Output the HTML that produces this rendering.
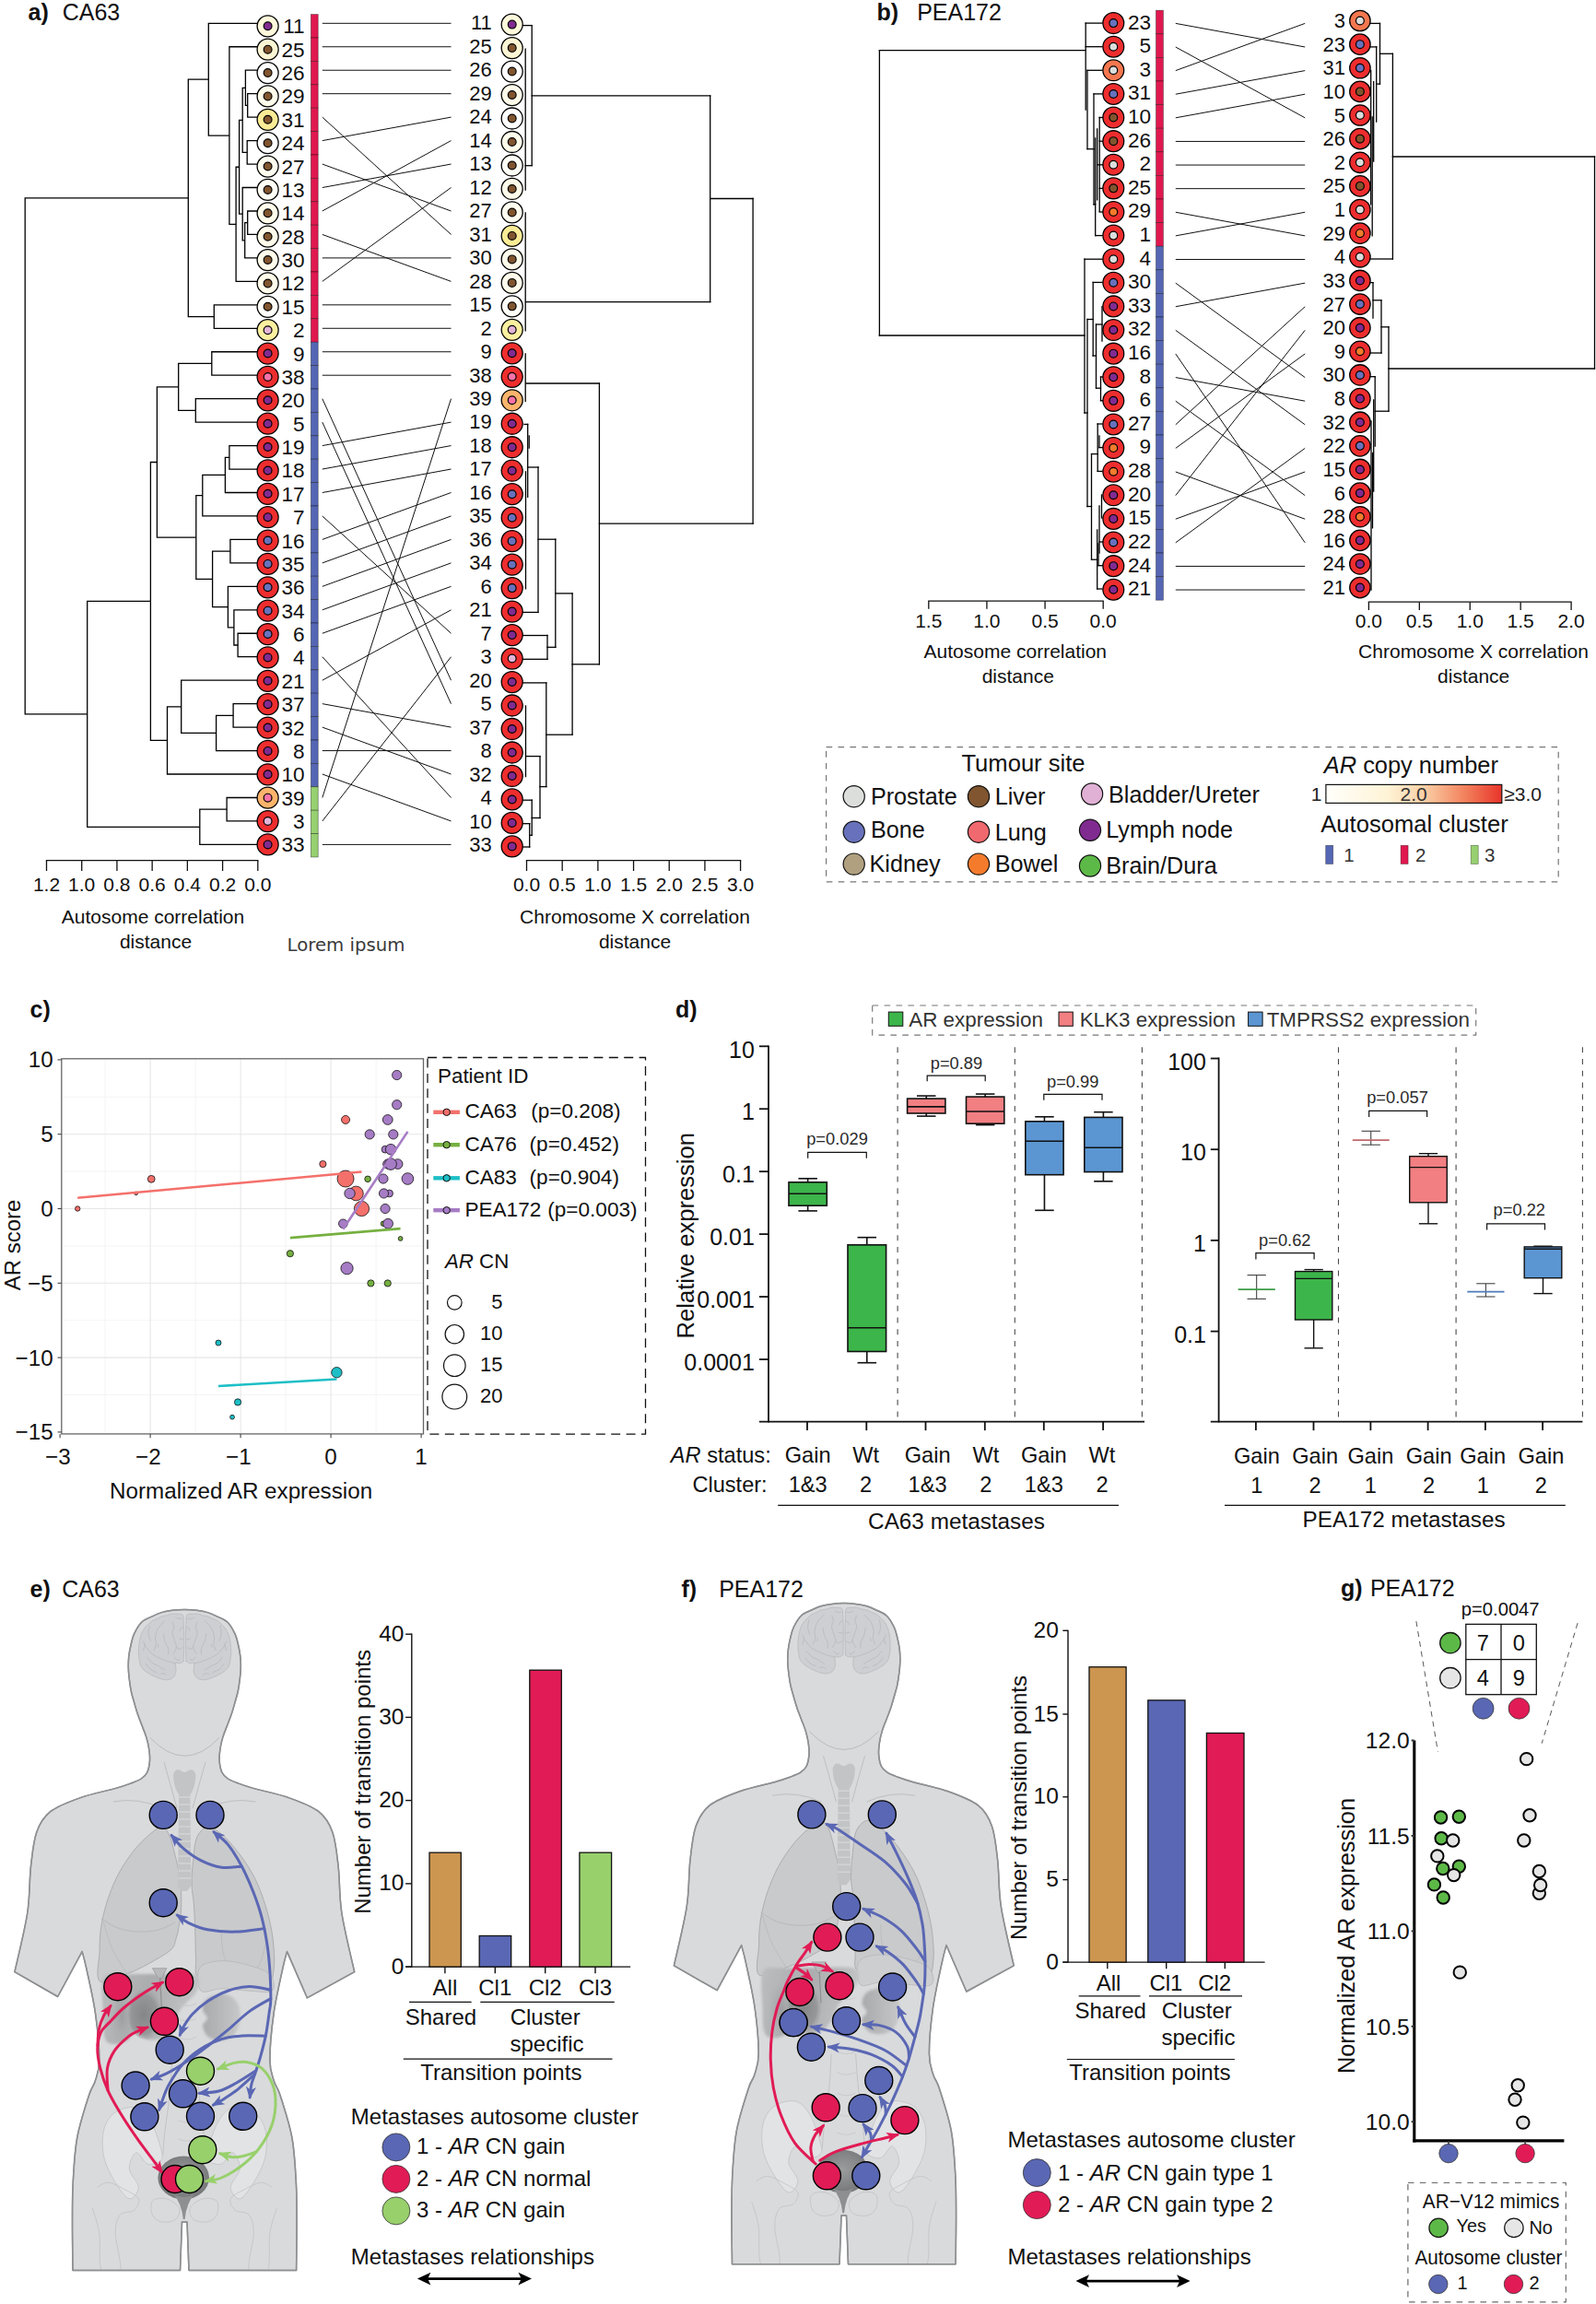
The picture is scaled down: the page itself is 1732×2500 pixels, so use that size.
<!DOCTYPE html>
<html lang="en"><head><meta charset="utf-8"><title>Figure</title>
<style>
html,body{margin:0;padding:0;background:#fff;}
svg{display:block;font-family:"Liberation Sans",Arial,sans-serif;}
</style></head><body>
<svg width="1732" height="2500" viewBox="0 0 1732 2500">
<rect x="0" y="0" width="1732" height="2500" fill="#fff"/>
<defs><marker id="ahb" markerUnits="userSpaceOnUse" markerWidth="14" markerHeight="11.5" refX="12.5" refY="6" orient="auto-start-reverse" viewBox="0 0 15 12"><path d="M0,0 L15,6 L0,12 L4,6 Z" fill="#5A67B4"/></marker><marker id="ahr" markerUnits="userSpaceOnUse" markerWidth="14" markerHeight="11.5" refX="12.5" refY="6" orient="auto-start-reverse" viewBox="0 0 15 12"><path d="M0,0 L15,6 L0,12 L4,6 Z" fill="#E11B55"/></marker><marker id="ahg" markerUnits="userSpaceOnUse" markerWidth="14" markerHeight="11.5" refX="12.5" refY="6" orient="auto-start-reverse" viewBox="0 0 15 12"><path d="M0,0 L15,6 L0,12 L4,6 Z" fill="#98D06C"/></marker><marker id="ahk" markerUnits="userSpaceOnUse" markerWidth="14" markerHeight="11.5" refX="12.5" refY="6" orient="auto-start-reverse" viewBox="0 0 15 12"><path d="M0,0 L15,6 L0,12 L4,6 Z" fill="#000"/></marker><linearGradient id="liv" x1="0" x2="1" y1="0" y2="0.2"><stop offset="0" stop-color="#BCBDBF"/><stop offset="0.5" stop-color="#ABACAE"/><stop offset="1" stop-color="#C2C3C5"/></linearGradient><radialGradient id="livd" cx="0.45" cy="0.5" r="0.55"><stop offset="0" stop-color="#858688"/><stop offset="0.7" stop-color="#939496" stop-opacity="0.9"/><stop offset="1" stop-color="#A6A7A9" stop-opacity="0"/></radialGradient><radialGradient id="livl" cx="0.6" cy="0.5" r="0.6"><stop offset="0" stop-color="#9C9D9F"/><stop offset="1" stop-color="#ADAEB0" stop-opacity="0"/></radialGradient><radialGradient id="bld" cx="0.5" cy="0.45" r="0.6"><stop offset="0" stop-color="#9B9C9E"/><stop offset="1" stop-color="#737476"/></radialGradient><linearGradient id="kid" x1="0" x2="1" y1="0" y2="0"><stop offset="0" stop-color="#A9AAAC"/><stop offset="1" stop-color="#C6C7C9"/></linearGradient><filter id="soft" x="-10%" y="-10%" width="120%" height="120%"><feGaussianBlur stdDeviation="1.6"/></filter></defs>
<text x="30.6" y="22" font-size="25" text-anchor="start" fill="#111" font-weight="bold">a)</text>
<text x="67.7" y="22" font-size="25" text-anchor="start" fill="#111">CA63</text>
<polyline points="279,101.68 268.7,101.68 268.7,127.14 279,127.14" fill="none" stroke="#000" stroke-width="1.3" stroke-linejoin="miter"/>
<polyline points="279,76.22 266.4,76.22 266.4,114.41 268.7,114.41" fill="none" stroke="#000" stroke-width="1.3" stroke-linejoin="miter"/>
<polyline points="279,152.6 268.2,152.6 268.2,178.06 279,178.06" fill="none" stroke="#000" stroke-width="1.3" stroke-linejoin="miter"/>
<polyline points="266.4,95.31 263.2,95.31 263.2,165.33 268.2,165.33" fill="none" stroke="#000" stroke-width="1.3" stroke-linejoin="miter"/>
<polyline points="279,228.98 268.7,228.98 268.7,254.44 279,254.44" fill="none" stroke="#000" stroke-width="1.3" stroke-linejoin="miter"/>
<polyline points="268.7,241.71 265.7,241.71 265.7,279.9 279,279.9" fill="none" stroke="#000" stroke-width="1.3" stroke-linejoin="miter"/>
<polyline points="279,203.52 263.2,203.52 263.2,260.81 265.7,260.81" fill="none" stroke="#000" stroke-width="1.3" stroke-linejoin="miter"/>
<polyline points="263.2,130.32 259.6,130.32 259.6,232.16 263.2,232.16" fill="none" stroke="#000" stroke-width="1.3" stroke-linejoin="miter"/>
<polyline points="259.6,181.24 256.1,181.24 256.1,305.36 279,305.36" fill="none" stroke="#000" stroke-width="1.3" stroke-linejoin="miter"/>
<polyline points="279,50.76 248.9,50.76 248.9,243.3 256.1,243.3" fill="none" stroke="#000" stroke-width="1.3" stroke-linejoin="miter"/>
<polyline points="279,25.3 226.3,25.3 226.3,147.03 248.9,147.03" fill="none" stroke="#000" stroke-width="1.3" stroke-linejoin="miter"/>
<polyline points="279,330.82 232.3,330.82 232.3,356.28 279,356.28" fill="none" stroke="#000" stroke-width="1.3" stroke-linejoin="miter"/>
<polyline points="226.3,86.17 204.3,86.17 204.3,343.55 232.3,343.55" fill="none" stroke="#000" stroke-width="1.3" stroke-linejoin="miter"/>
<polyline points="279,381.74 229.8,381.74 229.8,407.2 279,407.2" fill="none" stroke="#000" stroke-width="1.3" stroke-linejoin="miter"/>
<polyline points="279,432.66 212.3,432.66 212.3,458.12 279,458.12" fill="none" stroke="#000" stroke-width="1.3" stroke-linejoin="miter"/>
<polyline points="229.8,394.47 193.7,394.47 193.7,445.39 212.3,445.39" fill="none" stroke="#000" stroke-width="1.3" stroke-linejoin="miter"/>
<polyline points="279,483.58 248.9,483.58 248.9,509.04 279,509.04" fill="none" stroke="#000" stroke-width="1.3" stroke-linejoin="miter"/>
<polyline points="248.9,496.31 244.4,496.31 244.4,534.5 279,534.5" fill="none" stroke="#000" stroke-width="1.3" stroke-linejoin="miter"/>
<polyline points="244.4,515.4 219.8,515.4 219.8,559.96 279,559.96" fill="none" stroke="#000" stroke-width="1.3" stroke-linejoin="miter"/>
<polyline points="279,585.42 249.9,585.42 249.9,610.88 279,610.88" fill="none" stroke="#000" stroke-width="1.3" stroke-linejoin="miter"/>
<polyline points="279,687.26 258.1,687.26 258.1,712.72 279,712.72" fill="none" stroke="#000" stroke-width="1.3" stroke-linejoin="miter"/>
<polyline points="279,661.8 253.9,661.8 253.9,699.99 258.1,699.99" fill="none" stroke="#000" stroke-width="1.3" stroke-linejoin="miter"/>
<polyline points="279,636.34 247.4,636.34 247.4,680.89 253.9,680.89" fill="none" stroke="#000" stroke-width="1.3" stroke-linejoin="miter"/>
<polyline points="249.9,598.15 230.6,598.15 230.6,658.62 247.4,658.62" fill="none" stroke="#000" stroke-width="1.3" stroke-linejoin="miter"/>
<polyline points="219.8,537.68 212.8,537.68 212.8,628.38 230.6,628.38" fill="none" stroke="#000" stroke-width="1.3" stroke-linejoin="miter"/>
<polyline points="193.7,419.93 170.4,419.93 170.4,583.03 212.8,583.03" fill="none" stroke="#000" stroke-width="1.3" stroke-linejoin="miter"/>
<polyline points="279,763.64 253.1,763.64 253.1,789.1 279,789.1" fill="none" stroke="#000" stroke-width="1.3" stroke-linejoin="miter"/>
<polyline points="253.1,776.37 234.6,776.37 234.6,814.56 279,814.56" fill="none" stroke="#000" stroke-width="1.3" stroke-linejoin="miter"/>
<polyline points="279,738.18 196.7,738.18 196.7,795.46 234.6,795.46" fill="none" stroke="#000" stroke-width="1.3" stroke-linejoin="miter"/>
<polyline points="196.7,766.82 181.5,766.82 181.5,840.02 279,840.02" fill="none" stroke="#000" stroke-width="1.3" stroke-linejoin="miter"/>
<polyline points="170.4,501.48 163.4,501.48 163.4,803.42 181.5,803.42" fill="none" stroke="#000" stroke-width="1.3" stroke-linejoin="miter"/>
<polyline points="279,865.48 246.1,865.48 246.1,890.94 279,890.94" fill="none" stroke="#000" stroke-width="1.3" stroke-linejoin="miter"/>
<polyline points="246.1,878.21 216.8,878.21 216.8,916.4 279,916.4" fill="none" stroke="#000" stroke-width="1.3" stroke-linejoin="miter"/>
<polyline points="163.4,652.45 94.7,652.45 94.7,897.31 216.8,897.31" fill="none" stroke="#000" stroke-width="1.3" stroke-linejoin="miter"/>
<polyline points="204.3,214.86 27.2,214.86 27.2,774.88 94.7,774.88" fill="none" stroke="#000" stroke-width="1.3" stroke-linejoin="miter"/>
<line x1="577.2" y1="27.6" x2="577.2" y2="179.7" stroke="#000" stroke-width="1.3" stroke-linecap="square"/>
<line x1="567.7" y1="27.6" x2="577.2" y2="27.6" stroke="#000" stroke-width="1.3" stroke-linecap="square"/>
<line x1="570.2" y1="179.7" x2="577.2" y2="179.7" stroke="#000" stroke-width="1.3" stroke-linecap="square"/>
<line x1="570.2" y1="53.1" x2="570.2" y2="206" stroke="#000" stroke-width="1.3" stroke-linecap="square"/>
<line x1="577.2" y1="103.8" x2="770.7" y2="103.8" stroke="#000" stroke-width="1.3" stroke-linecap="square"/>
<line x1="770.7" y1="103.8" x2="770.7" y2="327.6" stroke="#000" stroke-width="1.3" stroke-linecap="square"/>
<line x1="570.7" y1="327.6" x2="770.7" y2="327.6" stroke="#000" stroke-width="1.3" stroke-linecap="square"/>
<line x1="570.2" y1="231" x2="570.2" y2="358.9" stroke="#000" stroke-width="1.3" stroke-linecap="square"/>
<line x1="770.7" y1="215.5" x2="817.1" y2="215.5" stroke="#000" stroke-width="1.3" stroke-linecap="square"/>
<line x1="817.1" y1="215.5" x2="817.1" y2="568.2" stroke="#000" stroke-width="1.3" stroke-linecap="square"/>
<line x1="650.4" y1="568.2" x2="817.1" y2="568.2" stroke="#000" stroke-width="1.3" stroke-linecap="square"/>
<line x1="650.4" y1="416" x2="650.4" y2="720.8" stroke="#000" stroke-width="1.3" stroke-linecap="square"/>
<line x1="571" y1="416" x2="650.4" y2="416" stroke="#000" stroke-width="1.3" stroke-linecap="square"/>
<line x1="570.2" y1="384" x2="570.2" y2="435.3" stroke="#000" stroke-width="1.3" stroke-linecap="square"/>
<line x1="572.7" y1="460.4" x2="572.7" y2="539.3" stroke="#000" stroke-width="1.3" stroke-linecap="square"/>
<line x1="569" y1="460.4" x2="572.7" y2="460.4" stroke="#000" stroke-width="1.3" stroke-linecap="square"/>
<line x1="574.2" y1="473" x2="574.2" y2="486" stroke="#000" stroke-width="1.3" stroke-linecap="square"/>
<line x1="572.7" y1="507" x2="584" y2="507" stroke="#000" stroke-width="1.3" stroke-linecap="square"/>
<line x1="584" y1="507" x2="584" y2="664.4" stroke="#000" stroke-width="1.3" stroke-linecap="square"/>
<line x1="567.7" y1="664.4" x2="584" y2="664.4" stroke="#000" stroke-width="1.3" stroke-linecap="square"/>
<line x1="584" y1="585.2" x2="602.8" y2="585.2" stroke="#000" stroke-width="1.3" stroke-linecap="square"/>
<line x1="602.8" y1="585.2" x2="602.8" y2="702.3" stroke="#000" stroke-width="1.3" stroke-linecap="square"/>
<line x1="570.5" y1="511.8" x2="570.5" y2="638.8" stroke="#000" stroke-width="1.3" stroke-linecap="square"/>
<line x1="594" y1="702.3" x2="602.8" y2="702.3" stroke="#000" stroke-width="1.3" stroke-linecap="square"/>
<line x1="594" y1="689.5" x2="594" y2="715.3" stroke="#000" stroke-width="1.3" stroke-linecap="square"/>
<line x1="567.7" y1="689.5" x2="594" y2="689.5" stroke="#000" stroke-width="1.3" stroke-linecap="square"/>
<line x1="567.7" y1="715.3" x2="594" y2="715.3" stroke="#000" stroke-width="1.3" stroke-linecap="square"/>
<line x1="602.8" y1="643.9" x2="621.1" y2="643.9" stroke="#000" stroke-width="1.3" stroke-linecap="square"/>
<line x1="621.1" y1="643.9" x2="621.1" y2="797.2" stroke="#000" stroke-width="1.3" stroke-linecap="square"/>
<line x1="621.1" y1="720.8" x2="650.4" y2="720.8" stroke="#000" stroke-width="1.3" stroke-linecap="square"/>
<line x1="592.8" y1="797.2" x2="621.1" y2="797.2" stroke="#000" stroke-width="1.3" stroke-linecap="square"/>
<line x1="592.8" y1="740.9" x2="592.8" y2="853.6" stroke="#000" stroke-width="1.3" stroke-linecap="square"/>
<line x1="567.7" y1="740.9" x2="592.8" y2="740.9" stroke="#000" stroke-width="1.3" stroke-linecap="square"/>
<line x1="586" y1="853.6" x2="592.8" y2="853.6" stroke="#000" stroke-width="1.3" stroke-linecap="square"/>
<line x1="586" y1="820.6" x2="586" y2="887.5" stroke="#000" stroke-width="1.3" stroke-linecap="square"/>
<line x1="571" y1="820.6" x2="586" y2="820.6" stroke="#000" stroke-width="1.3" stroke-linecap="square"/>
<line x1="570.5" y1="765.9" x2="570.5" y2="842.6" stroke="#000" stroke-width="1.3" stroke-linecap="square"/>
<line x1="577.2" y1="887.5" x2="586" y2="887.5" stroke="#000" stroke-width="1.3" stroke-linecap="square"/>
<line x1="577.2" y1="868.2" x2="577.2" y2="906.3" stroke="#000" stroke-width="1.3" stroke-linecap="square"/>
<line x1="567.7" y1="868.2" x2="577.2" y2="868.2" stroke="#000" stroke-width="1.3" stroke-linecap="square"/>
<line x1="574.7" y1="906.3" x2="577.2" y2="906.3" stroke="#000" stroke-width="1.3" stroke-linecap="square"/>
<line x1="574.7" y1="893.7" x2="574.7" y2="919" stroke="#000" stroke-width="1.3" stroke-linecap="square"/>
<line x1="567.7" y1="893.7" x2="574.7" y2="893.7" stroke="#000" stroke-width="1.3" stroke-linecap="square"/>
<line x1="567.7" y1="919" x2="574.7" y2="919" stroke="#000" stroke-width="1.3" stroke-linecap="square"/>
<rect x="337.4" y="15.6" width="7.8" height="25.4" fill="#E0184F" stroke="rgba(0,0,0,0.5)" stroke-width="0.7" />
<rect x="337.4" y="41" width="7.8" height="25.4" fill="#E0184F" stroke="rgba(0,0,0,0.5)" stroke-width="0.7" />
<rect x="337.4" y="66.4" width="7.8" height="25.4" fill="#E0184F" stroke="rgba(0,0,0,0.5)" stroke-width="0.7" />
<rect x="337.4" y="91.8" width="7.8" height="25.4" fill="#E0184F" stroke="rgba(0,0,0,0.5)" stroke-width="0.7" />
<rect x="337.4" y="117.2" width="7.8" height="25.4" fill="#E0184F" stroke="rgba(0,0,0,0.5)" stroke-width="0.7" />
<rect x="337.4" y="142.6" width="7.8" height="25.4" fill="#E0184F" stroke="rgba(0,0,0,0.5)" stroke-width="0.7" />
<rect x="337.4" y="168" width="7.8" height="25.4" fill="#E0184F" stroke="rgba(0,0,0,0.5)" stroke-width="0.7" />
<rect x="337.4" y="193.4" width="7.8" height="25.4" fill="#E0184F" stroke="rgba(0,0,0,0.5)" stroke-width="0.7" />
<rect x="337.4" y="218.8" width="7.8" height="25.4" fill="#E0184F" stroke="rgba(0,0,0,0.5)" stroke-width="0.7" />
<rect x="337.4" y="244.2" width="7.8" height="25.4" fill="#E0184F" stroke="rgba(0,0,0,0.5)" stroke-width="0.7" />
<rect x="337.4" y="269.6" width="7.8" height="25.4" fill="#E0184F" stroke="rgba(0,0,0,0.5)" stroke-width="0.7" />
<rect x="337.4" y="295" width="7.8" height="25.4" fill="#E0184F" stroke="rgba(0,0,0,0.5)" stroke-width="0.7" />
<rect x="337.4" y="320.4" width="7.8" height="25.4" fill="#E0184F" stroke="rgba(0,0,0,0.5)" stroke-width="0.7" />
<rect x="337.4" y="345.8" width="7.8" height="25.4" fill="#E0184F" stroke="rgba(0,0,0,0.5)" stroke-width="0.7" />
<rect x="337.4" y="371.2" width="7.8" height="25.4" fill="#5566B4" stroke="rgba(0,0,0,0.5)" stroke-width="0.7" />
<rect x="337.4" y="396.6" width="7.8" height="25.4" fill="#5566B4" stroke="rgba(0,0,0,0.5)" stroke-width="0.7" />
<rect x="337.4" y="422" width="7.8" height="25.4" fill="#5566B4" stroke="rgba(0,0,0,0.5)" stroke-width="0.7" />
<rect x="337.4" y="447.4" width="7.8" height="25.4" fill="#5566B4" stroke="rgba(0,0,0,0.5)" stroke-width="0.7" />
<rect x="337.4" y="472.8" width="7.8" height="25.4" fill="#5566B4" stroke="rgba(0,0,0,0.5)" stroke-width="0.7" />
<rect x="337.4" y="498.2" width="7.8" height="25.4" fill="#5566B4" stroke="rgba(0,0,0,0.5)" stroke-width="0.7" />
<rect x="337.4" y="523.6" width="7.8" height="25.4" fill="#5566B4" stroke="rgba(0,0,0,0.5)" stroke-width="0.7" />
<rect x="337.4" y="549" width="7.8" height="25.4" fill="#5566B4" stroke="rgba(0,0,0,0.5)" stroke-width="0.7" />
<rect x="337.4" y="574.4" width="7.8" height="25.4" fill="#5566B4" stroke="rgba(0,0,0,0.5)" stroke-width="0.7" />
<rect x="337.4" y="599.8" width="7.8" height="25.4" fill="#5566B4" stroke="rgba(0,0,0,0.5)" stroke-width="0.7" />
<rect x="337.4" y="625.2" width="7.8" height="25.4" fill="#5566B4" stroke="rgba(0,0,0,0.5)" stroke-width="0.7" />
<rect x="337.4" y="650.6" width="7.8" height="25.4" fill="#5566B4" stroke="rgba(0,0,0,0.5)" stroke-width="0.7" />
<rect x="337.4" y="676" width="7.8" height="25.4" fill="#5566B4" stroke="rgba(0,0,0,0.5)" stroke-width="0.7" />
<rect x="337.4" y="701.4" width="7.8" height="25.4" fill="#5566B4" stroke="rgba(0,0,0,0.5)" stroke-width="0.7" />
<rect x="337.4" y="726.8" width="7.8" height="25.4" fill="#5566B4" stroke="rgba(0,0,0,0.5)" stroke-width="0.7" />
<rect x="337.4" y="752.2" width="7.8" height="25.4" fill="#5566B4" stroke="rgba(0,0,0,0.5)" stroke-width="0.7" />
<rect x="337.4" y="777.6" width="7.8" height="25.4" fill="#5566B4" stroke="rgba(0,0,0,0.5)" stroke-width="0.7" />
<rect x="337.4" y="803" width="7.8" height="25.4" fill="#5566B4" stroke="rgba(0,0,0,0.5)" stroke-width="0.7" />
<rect x="337.4" y="828.4" width="7.8" height="25.4" fill="#5566B4" stroke="rgba(0,0,0,0.5)" stroke-width="0.7" />
<rect x="337.4" y="853.8" width="7.8" height="25.4" fill="#96D070" stroke="rgba(0,0,0,0.5)" stroke-width="0.7" />
<rect x="337.4" y="879.2" width="7.8" height="25.4" fill="#96D070" stroke="rgba(0,0,0,0.5)" stroke-width="0.7" />
<rect x="337.4" y="904.6" width="7.8" height="25.4" fill="#96D070" stroke="rgba(0,0,0,0.5)" stroke-width="0.7" />
<line x1="349.8" y1="25.3" x2="489.5" y2="25.3" stroke="#111" stroke-width="1" />
<line x1="349.8" y1="50.76" x2="489.5" y2="50.76" stroke="#111" stroke-width="1" />
<line x1="349.8" y1="76.22" x2="489.5" y2="76.22" stroke="#111" stroke-width="1" />
<line x1="349.8" y1="101.68" x2="489.5" y2="101.68" stroke="#111" stroke-width="1" />
<line x1="349.8" y1="127.14" x2="489.5" y2="254.44" stroke="#111" stroke-width="1" />
<line x1="349.8" y1="152.6" x2="489.5" y2="127.14" stroke="#111" stroke-width="1" />
<line x1="349.8" y1="178.06" x2="489.5" y2="228.98" stroke="#111" stroke-width="1" />
<line x1="349.8" y1="203.52" x2="489.5" y2="178.06" stroke="#111" stroke-width="1" />
<line x1="349.8" y1="228.98" x2="489.5" y2="152.6" stroke="#111" stroke-width="1" />
<line x1="349.8" y1="254.44" x2="489.5" y2="305.36" stroke="#111" stroke-width="1" />
<line x1="349.8" y1="279.9" x2="489.5" y2="279.9" stroke="#111" stroke-width="1" />
<line x1="349.8" y1="305.36" x2="489.5" y2="203.52" stroke="#111" stroke-width="1" />
<line x1="349.8" y1="330.82" x2="489.5" y2="330.82" stroke="#111" stroke-width="1" />
<line x1="349.8" y1="356.28" x2="489.5" y2="356.28" stroke="#111" stroke-width="1" />
<line x1="349.8" y1="381.74" x2="489.5" y2="381.74" stroke="#111" stroke-width="1" />
<line x1="349.8" y1="407.2" x2="489.5" y2="407.2" stroke="#111" stroke-width="1" />
<line x1="349.8" y1="432.66" x2="489.5" y2="738.18" stroke="#111" stroke-width="1" />
<line x1="349.8" y1="458.12" x2="489.5" y2="763.64" stroke="#111" stroke-width="1" />
<line x1="349.8" y1="483.58" x2="489.5" y2="458.12" stroke="#111" stroke-width="1" />
<line x1="349.8" y1="509.04" x2="489.5" y2="483.58" stroke="#111" stroke-width="1" />
<line x1="349.8" y1="534.5" x2="489.5" y2="509.04" stroke="#111" stroke-width="1" />
<line x1="349.8" y1="559.96" x2="489.5" y2="687.26" stroke="#111" stroke-width="1" />
<line x1="349.8" y1="585.42" x2="489.5" y2="534.5" stroke="#111" stroke-width="1" />
<line x1="349.8" y1="610.88" x2="489.5" y2="559.96" stroke="#111" stroke-width="1" />
<line x1="349.8" y1="636.34" x2="489.5" y2="585.42" stroke="#111" stroke-width="1" />
<line x1="349.8" y1="661.8" x2="489.5" y2="610.88" stroke="#111" stroke-width="1" />
<line x1="349.8" y1="687.26" x2="489.5" y2="636.34" stroke="#111" stroke-width="1" />
<line x1="349.8" y1="712.72" x2="489.5" y2="865.48" stroke="#111" stroke-width="1" />
<line x1="349.8" y1="738.18" x2="489.5" y2="661.8" stroke="#111" stroke-width="1" />
<line x1="349.8" y1="763.64" x2="489.5" y2="789.1" stroke="#111" stroke-width="1" />
<line x1="349.8" y1="789.1" x2="489.5" y2="840.02" stroke="#111" stroke-width="1" />
<line x1="349.8" y1="814.56" x2="489.5" y2="814.56" stroke="#111" stroke-width="1" />
<line x1="349.8" y1="840.02" x2="489.5" y2="890.94" stroke="#111" stroke-width="1" />
<line x1="349.8" y1="865.48" x2="489.5" y2="432.66" stroke="#111" stroke-width="1" />
<line x1="349.8" y1="890.94" x2="489.5" y2="712.72" stroke="#111" stroke-width="1" />
<line x1="349.8" y1="916.4" x2="489.5" y2="916.4" stroke="#111" stroke-width="1" />
<circle cx="290.6" cy="28.3" r="11.5" fill="#FFF9DC" stroke="#000" stroke-width="1.3" />
<circle cx="290.6" cy="28.3" r="4.4" fill="#802B90" stroke="#000" stroke-width="1.2" />
<text x="330.7" y="36.3" font-size="22.6" text-anchor="end" fill="#111">11</text>
<circle cx="290.6" cy="53.67" r="11.5" fill="#FDF6D5" stroke="#000" stroke-width="1.3" />
<circle cx="290.6" cy="53.67" r="4.4" fill="#80552F" stroke="#000" stroke-width="1.2" />
<text x="330.7" y="61.67" font-size="22.6" text-anchor="end" fill="#111">25</text>
<circle cx="290.6" cy="79.05" r="11.5" fill="#FFFFFF" stroke="#000" stroke-width="1.3" />
<circle cx="290.6" cy="79.05" r="4.4" fill="#80552F" stroke="#000" stroke-width="1.2" />
<text x="330.7" y="87.05" font-size="22.6" text-anchor="end" fill="#111">26</text>
<circle cx="290.6" cy="104.42" r="11.5" fill="#FFFCEB" stroke="#000" stroke-width="1.3" />
<circle cx="290.6" cy="104.42" r="4.4" fill="#80552F" stroke="#000" stroke-width="1.2" />
<text x="330.7" y="112.42" font-size="22.6" text-anchor="end" fill="#111">29</text>
<circle cx="290.6" cy="129.8" r="11.5" fill="#FAEC96" stroke="#000" stroke-width="1.3" />
<circle cx="290.6" cy="129.8" r="4.4" fill="#80552F" stroke="#000" stroke-width="1.2" />
<text x="330.7" y="137.8" font-size="22.6" text-anchor="end" fill="#111">31</text>
<circle cx="290.6" cy="155.18" r="11.5" fill="#FFFFFF" stroke="#000" stroke-width="1.3" />
<circle cx="290.6" cy="155.18" r="4.4" fill="#80552F" stroke="#000" stroke-width="1.2" />
<text x="330.7" y="163.18" font-size="22.6" text-anchor="end" fill="#111">24</text>
<circle cx="290.6" cy="180.55" r="11.5" fill="#FFFDF0" stroke="#000" stroke-width="1.3" />
<circle cx="290.6" cy="180.55" r="4.4" fill="#80552F" stroke="#000" stroke-width="1.2" />
<text x="330.7" y="188.55" font-size="22.6" text-anchor="end" fill="#111">27</text>
<circle cx="290.6" cy="205.93" r="11.5" fill="#FFFEF5" stroke="#000" stroke-width="1.3" />
<circle cx="290.6" cy="205.93" r="4.4" fill="#80552F" stroke="#000" stroke-width="1.2" />
<text x="330.7" y="213.93" font-size="22.6" text-anchor="end" fill="#111">13</text>
<circle cx="290.6" cy="231.3" r="11.5" fill="#FFFCEB" stroke="#000" stroke-width="1.3" />
<circle cx="290.6" cy="231.3" r="4.4" fill="#80552F" stroke="#000" stroke-width="1.2" />
<text x="330.7" y="239.3" font-size="22.6" text-anchor="end" fill="#111">14</text>
<circle cx="290.6" cy="256.68" r="11.5" fill="#FFFCEB" stroke="#000" stroke-width="1.3" />
<circle cx="290.6" cy="256.68" r="4.4" fill="#80552F" stroke="#000" stroke-width="1.2" />
<text x="330.7" y="264.68" font-size="22.6" text-anchor="end" fill="#111">28</text>
<circle cx="290.6" cy="282.05" r="11.5" fill="#FFFCEB" stroke="#000" stroke-width="1.3" />
<circle cx="290.6" cy="282.05" r="4.4" fill="#80552F" stroke="#000" stroke-width="1.2" />
<text x="330.7" y="290.05" font-size="22.6" text-anchor="end" fill="#111">30</text>
<circle cx="290.6" cy="307.43" r="11.5" fill="#FFFCEB" stroke="#000" stroke-width="1.3" />
<circle cx="290.6" cy="307.43" r="4.4" fill="#80552F" stroke="#000" stroke-width="1.2" />
<text x="330.7" y="315.43" font-size="22.6" text-anchor="end" fill="#111">12</text>
<circle cx="290.6" cy="332.8" r="11.5" fill="#FFFEF8" stroke="#000" stroke-width="1.3" />
<circle cx="290.6" cy="332.8" r="4.4" fill="#80552F" stroke="#000" stroke-width="1.2" />
<text x="330.7" y="340.8" font-size="22.6" text-anchor="end" fill="#111">15</text>
<circle cx="290.6" cy="358.18" r="11.5" fill="#FAF0A0" stroke="#000" stroke-width="1.3" />
<circle cx="290.6" cy="358.18" r="4.4" fill="#E3B4D8" stroke="#000" stroke-width="1.2" />
<text x="330.7" y="366.18" font-size="22.6" text-anchor="end" fill="#111">2</text>
<circle cx="290.6" cy="383.55" r="11.5" fill="#EE2D2E" stroke="#000" stroke-width="1.3" />
<circle cx="290.6" cy="383.55" r="4.4" fill="#802B90" stroke="#000" stroke-width="1.2" />
<text x="330.7" y="391.55" font-size="22.6" text-anchor="end" fill="#111">9</text>
<circle cx="290.6" cy="408.93" r="11.5" fill="#EE2D2E" stroke="#000" stroke-width="1.3" />
<circle cx="290.6" cy="408.93" r="4.4" fill="#F772A8" stroke="#000" stroke-width="1.2" />
<text x="330.7" y="416.93" font-size="22.6" text-anchor="end" fill="#111">38</text>
<circle cx="290.6" cy="434.3" r="11.5" fill="#EE2D2E" stroke="#000" stroke-width="1.3" />
<circle cx="290.6" cy="434.3" r="4.4" fill="#802B90" stroke="#000" stroke-width="1.2" />
<text x="330.7" y="442.3" font-size="22.6" text-anchor="end" fill="#111">20</text>
<circle cx="290.6" cy="459.68" r="11.5" fill="#EE2D2E" stroke="#000" stroke-width="1.3" />
<circle cx="290.6" cy="459.68" r="4.4" fill="#802B90" stroke="#000" stroke-width="1.2" />
<text x="330.7" y="467.68" font-size="22.6" text-anchor="end" fill="#111">5</text>
<circle cx="290.6" cy="485.05" r="11.5" fill="#EE2D2E" stroke="#000" stroke-width="1.3" />
<circle cx="290.6" cy="485.05" r="4.4" fill="#802B90" stroke="#000" stroke-width="1.2" />
<text x="330.7" y="493.05" font-size="22.6" text-anchor="end" fill="#111">19</text>
<circle cx="290.6" cy="510.43" r="11.5" fill="#EE2D2E" stroke="#000" stroke-width="1.3" />
<circle cx="290.6" cy="510.43" r="4.4" fill="#802B90" stroke="#000" stroke-width="1.2" />
<text x="330.7" y="518.42" font-size="22.6" text-anchor="end" fill="#111">18</text>
<circle cx="290.6" cy="535.8" r="11.5" fill="#EE2D2E" stroke="#000" stroke-width="1.3" />
<circle cx="290.6" cy="535.8" r="4.4" fill="#802B90" stroke="#000" stroke-width="1.2" />
<text x="330.7" y="543.8" font-size="22.6" text-anchor="end" fill="#111">17</text>
<circle cx="290.6" cy="561.17" r="11.5" fill="#EE2D2E" stroke="#000" stroke-width="1.3" />
<circle cx="290.6" cy="561.17" r="4.4" fill="#802B90" stroke="#000" stroke-width="1.2" />
<text x="330.7" y="569.17" font-size="22.6" text-anchor="end" fill="#111">7</text>
<circle cx="290.6" cy="586.55" r="11.5" fill="#EE2D2E" stroke="#000" stroke-width="1.3" />
<circle cx="290.6" cy="586.55" r="4.4" fill="#6872BC" stroke="#000" stroke-width="1.2" />
<text x="330.7" y="594.55" font-size="22.6" text-anchor="end" fill="#111">16</text>
<circle cx="290.6" cy="611.92" r="11.5" fill="#EE2D2E" stroke="#000" stroke-width="1.3" />
<circle cx="290.6" cy="611.92" r="4.4" fill="#6872BC" stroke="#000" stroke-width="1.2" />
<text x="330.7" y="619.92" font-size="22.6" text-anchor="end" fill="#111">35</text>
<circle cx="290.6" cy="637.3" r="11.5" fill="#EE2D2E" stroke="#000" stroke-width="1.3" />
<circle cx="290.6" cy="637.3" r="4.4" fill="#6872BC" stroke="#000" stroke-width="1.2" />
<text x="330.7" y="645.3" font-size="22.6" text-anchor="end" fill="#111">36</text>
<circle cx="290.6" cy="662.67" r="11.5" fill="#EE2D2E" stroke="#000" stroke-width="1.3" />
<circle cx="290.6" cy="662.67" r="4.4" fill="#6872BC" stroke="#000" stroke-width="1.2" />
<text x="330.7" y="670.67" font-size="22.6" text-anchor="end" fill="#111">34</text>
<circle cx="290.6" cy="688.05" r="11.5" fill="#EE2D2E" stroke="#000" stroke-width="1.3" />
<circle cx="290.6" cy="688.05" r="4.4" fill="#6872BC" stroke="#000" stroke-width="1.2" />
<text x="330.7" y="696.05" font-size="22.6" text-anchor="end" fill="#111">6</text>
<circle cx="290.6" cy="713.42" r="11.5" fill="#EE2D2E" stroke="#000" stroke-width="1.3" />
<circle cx="290.6" cy="713.42" r="4.4" fill="#802B90" stroke="#000" stroke-width="1.2" />
<text x="330.7" y="721.42" font-size="22.6" text-anchor="end" fill="#111">4</text>
<circle cx="290.6" cy="738.8" r="11.5" fill="#EE2D2E" stroke="#000" stroke-width="1.3" />
<circle cx="290.6" cy="738.8" r="4.4" fill="#802B90" stroke="#000" stroke-width="1.2" />
<text x="330.7" y="746.8" font-size="22.6" text-anchor="end" fill="#111">21</text>
<circle cx="290.6" cy="764.17" r="11.5" fill="#EE2D2E" stroke="#000" stroke-width="1.3" />
<circle cx="290.6" cy="764.17" r="4.4" fill="#802B90" stroke="#000" stroke-width="1.2" />
<text x="330.7" y="772.17" font-size="22.6" text-anchor="end" fill="#111">37</text>
<circle cx="290.6" cy="789.55" r="11.5" fill="#EE2D2E" stroke="#000" stroke-width="1.3" />
<circle cx="290.6" cy="789.55" r="4.4" fill="#802B90" stroke="#000" stroke-width="1.2" />
<text x="330.7" y="797.55" font-size="22.6" text-anchor="end" fill="#111">32</text>
<circle cx="290.6" cy="814.92" r="11.5" fill="#EE2D2E" stroke="#000" stroke-width="1.3" />
<circle cx="290.6" cy="814.92" r="4.4" fill="#802B90" stroke="#000" stroke-width="1.2" />
<text x="330.7" y="822.92" font-size="22.6" text-anchor="end" fill="#111">8</text>
<circle cx="290.6" cy="840.3" r="11.5" fill="#EE2D2E" stroke="#000" stroke-width="1.3" />
<circle cx="290.6" cy="840.3" r="4.4" fill="#802B90" stroke="#000" stroke-width="1.2" />
<text x="330.7" y="848.3" font-size="22.6" text-anchor="end" fill="#111">10</text>
<circle cx="290.6" cy="865.67" r="11.5" fill="#FBB46C" stroke="#000" stroke-width="1.3" />
<circle cx="290.6" cy="865.67" r="4.4" fill="#F772A8" stroke="#000" stroke-width="1.2" />
<text x="330.7" y="873.67" font-size="22.6" text-anchor="end" fill="#111">39</text>
<circle cx="290.6" cy="891.05" r="11.5" fill="#EE2D2E" stroke="#000" stroke-width="1.3" />
<circle cx="290.6" cy="891.05" r="4.4" fill="#E3B4D8" stroke="#000" stroke-width="1.2" />
<text x="330.7" y="899.05" font-size="22.6" text-anchor="end" fill="#111">3</text>
<circle cx="290.6" cy="916.42" r="11.5" fill="#EE2D2E" stroke="#000" stroke-width="1.3" />
<circle cx="290.6" cy="916.42" r="4.4" fill="#802B90" stroke="#000" stroke-width="1.2" />
<text x="330.7" y="924.42" font-size="22.6" text-anchor="end" fill="#111">33</text>
<circle cx="555.7" cy="26.6" r="11.5" fill="#FFF9DC" stroke="#000" stroke-width="1.3" />
<circle cx="555.7" cy="26.6" r="4.4" fill="#802B90" stroke="#000" stroke-width="1.2" />
<text x="533.8" y="32.3" font-size="22" text-anchor="end" fill="#111">11</text>
<circle cx="555.7" cy="52.08" r="11.5" fill="#FDF6D5" stroke="#000" stroke-width="1.3" />
<circle cx="555.7" cy="52.08" r="4.4" fill="#80552F" stroke="#000" stroke-width="1.2" />
<text x="533.8" y="57.78" font-size="22" text-anchor="end" fill="#111">25</text>
<circle cx="555.7" cy="77.56" r="11.5" fill="#FFFFFF" stroke="#000" stroke-width="1.3" />
<circle cx="555.7" cy="77.56" r="4.4" fill="#80552F" stroke="#000" stroke-width="1.2" />
<text x="533.8" y="83.26" font-size="22" text-anchor="end" fill="#111">26</text>
<circle cx="555.7" cy="103.04" r="11.5" fill="#FFFCEB" stroke="#000" stroke-width="1.3" />
<circle cx="555.7" cy="103.04" r="4.4" fill="#80552F" stroke="#000" stroke-width="1.2" />
<text x="533.8" y="108.74" font-size="22" text-anchor="end" fill="#111">29</text>
<circle cx="555.7" cy="128.52" r="11.5" fill="#FFFFFF" stroke="#000" stroke-width="1.3" />
<circle cx="555.7" cy="128.52" r="4.4" fill="#80552F" stroke="#000" stroke-width="1.2" />
<text x="533.8" y="134.22" font-size="22" text-anchor="end" fill="#111">24</text>
<circle cx="555.7" cy="154" r="11.5" fill="#FFFCEB" stroke="#000" stroke-width="1.3" />
<circle cx="555.7" cy="154" r="4.4" fill="#80552F" stroke="#000" stroke-width="1.2" />
<text x="533.8" y="159.7" font-size="22" text-anchor="end" fill="#111">14</text>
<circle cx="555.7" cy="179.48" r="11.5" fill="#FFFEF5" stroke="#000" stroke-width="1.3" />
<circle cx="555.7" cy="179.48" r="4.4" fill="#80552F" stroke="#000" stroke-width="1.2" />
<text x="533.8" y="185.18" font-size="22" text-anchor="end" fill="#111">13</text>
<circle cx="555.7" cy="204.96" r="11.5" fill="#FFFCEB" stroke="#000" stroke-width="1.3" />
<circle cx="555.7" cy="204.96" r="4.4" fill="#80552F" stroke="#000" stroke-width="1.2" />
<text x="533.8" y="210.66" font-size="22" text-anchor="end" fill="#111">12</text>
<circle cx="555.7" cy="230.44" r="11.5" fill="#FFFDF0" stroke="#000" stroke-width="1.3" />
<circle cx="555.7" cy="230.44" r="4.4" fill="#80552F" stroke="#000" stroke-width="1.2" />
<text x="533.8" y="236.14" font-size="22" text-anchor="end" fill="#111">27</text>
<circle cx="555.7" cy="255.92" r="11.5" fill="#FAEC96" stroke="#000" stroke-width="1.3" />
<circle cx="555.7" cy="255.92" r="4.4" fill="#80552F" stroke="#000" stroke-width="1.2" />
<text x="533.8" y="261.62" font-size="22" text-anchor="end" fill="#111">31</text>
<circle cx="555.7" cy="281.4" r="11.5" fill="#FFFCEB" stroke="#000" stroke-width="1.3" />
<circle cx="555.7" cy="281.4" r="4.4" fill="#80552F" stroke="#000" stroke-width="1.2" />
<text x="533.8" y="287.1" font-size="22" text-anchor="end" fill="#111">30</text>
<circle cx="555.7" cy="306.88" r="11.5" fill="#FFFCEB" stroke="#000" stroke-width="1.3" />
<circle cx="555.7" cy="306.88" r="4.4" fill="#80552F" stroke="#000" stroke-width="1.2" />
<text x="533.8" y="312.58" font-size="22" text-anchor="end" fill="#111">28</text>
<circle cx="555.7" cy="332.36" r="11.5" fill="#FFFEF8" stroke="#000" stroke-width="1.3" />
<circle cx="555.7" cy="332.36" r="4.4" fill="#80552F" stroke="#000" stroke-width="1.2" />
<text x="533.8" y="338.06" font-size="22" text-anchor="end" fill="#111">15</text>
<circle cx="555.7" cy="357.84" r="11.5" fill="#FAF0A0" stroke="#000" stroke-width="1.3" />
<circle cx="555.7" cy="357.84" r="4.4" fill="#E3B4D8" stroke="#000" stroke-width="1.2" />
<text x="533.8" y="363.54" font-size="22" text-anchor="end" fill="#111">2</text>
<circle cx="555.7" cy="383.32" r="11.5" fill="#EE2D2E" stroke="#000" stroke-width="1.3" />
<circle cx="555.7" cy="383.32" r="4.4" fill="#802B90" stroke="#000" stroke-width="1.2" />
<text x="533.8" y="389.02" font-size="22" text-anchor="end" fill="#111">9</text>
<circle cx="555.7" cy="408.8" r="11.5" fill="#EE2D2E" stroke="#000" stroke-width="1.3" />
<circle cx="555.7" cy="408.8" r="4.4" fill="#F772A8" stroke="#000" stroke-width="1.2" />
<text x="533.8" y="414.5" font-size="22" text-anchor="end" fill="#111">38</text>
<circle cx="555.7" cy="434.28" r="11.5" fill="#FBB46C" stroke="#000" stroke-width="1.3" />
<circle cx="555.7" cy="434.28" r="4.4" fill="#F772A8" stroke="#000" stroke-width="1.2" />
<text x="533.8" y="439.98" font-size="22" text-anchor="end" fill="#111">39</text>
<circle cx="555.7" cy="459.76" r="11.5" fill="#EE2D2E" stroke="#000" stroke-width="1.3" />
<circle cx="555.7" cy="459.76" r="4.4" fill="#802B90" stroke="#000" stroke-width="1.2" />
<text x="533.8" y="465.46" font-size="22" text-anchor="end" fill="#111">19</text>
<circle cx="555.7" cy="485.24" r="11.5" fill="#EE2D2E" stroke="#000" stroke-width="1.3" />
<circle cx="555.7" cy="485.24" r="4.4" fill="#802B90" stroke="#000" stroke-width="1.2" />
<text x="533.8" y="490.94" font-size="22" text-anchor="end" fill="#111">18</text>
<circle cx="555.7" cy="510.72" r="11.5" fill="#EE2D2E" stroke="#000" stroke-width="1.3" />
<circle cx="555.7" cy="510.72" r="4.4" fill="#802B90" stroke="#000" stroke-width="1.2" />
<text x="533.8" y="516.42" font-size="22" text-anchor="end" fill="#111">17</text>
<circle cx="555.7" cy="536.2" r="11.5" fill="#EE2D2E" stroke="#000" stroke-width="1.3" />
<circle cx="555.7" cy="536.2" r="4.4" fill="#6872BC" stroke="#000" stroke-width="1.2" />
<text x="533.8" y="541.9" font-size="22" text-anchor="end" fill="#111">16</text>
<circle cx="555.7" cy="561.68" r="11.5" fill="#EE2D2E" stroke="#000" stroke-width="1.3" />
<circle cx="555.7" cy="561.68" r="4.4" fill="#6872BC" stroke="#000" stroke-width="1.2" />
<text x="533.8" y="567.38" font-size="22" text-anchor="end" fill="#111">35</text>
<circle cx="555.7" cy="587.16" r="11.5" fill="#EE2D2E" stroke="#000" stroke-width="1.3" />
<circle cx="555.7" cy="587.16" r="4.4" fill="#6872BC" stroke="#000" stroke-width="1.2" />
<text x="533.8" y="592.86" font-size="22" text-anchor="end" fill="#111">36</text>
<circle cx="555.7" cy="612.64" r="11.5" fill="#EE2D2E" stroke="#000" stroke-width="1.3" />
<circle cx="555.7" cy="612.64" r="4.4" fill="#6872BC" stroke="#000" stroke-width="1.2" />
<text x="533.8" y="618.34" font-size="22" text-anchor="end" fill="#111">34</text>
<circle cx="555.7" cy="638.12" r="11.5" fill="#EE2D2E" stroke="#000" stroke-width="1.3" />
<circle cx="555.7" cy="638.12" r="4.4" fill="#6872BC" stroke="#000" stroke-width="1.2" />
<text x="533.8" y="643.82" font-size="22" text-anchor="end" fill="#111">6</text>
<circle cx="555.7" cy="663.6" r="11.5" fill="#EE2D2E" stroke="#000" stroke-width="1.3" />
<circle cx="555.7" cy="663.6" r="4.4" fill="#802B90" stroke="#000" stroke-width="1.2" />
<text x="533.8" y="669.3" font-size="22" text-anchor="end" fill="#111">21</text>
<circle cx="555.7" cy="689.08" r="11.5" fill="#EE2D2E" stroke="#000" stroke-width="1.3" />
<circle cx="555.7" cy="689.08" r="4.4" fill="#802B90" stroke="#000" stroke-width="1.2" />
<text x="533.8" y="694.78" font-size="22" text-anchor="end" fill="#111">7</text>
<circle cx="555.7" cy="714.56" r="11.5" fill="#EE2D2E" stroke="#000" stroke-width="1.3" />
<circle cx="555.7" cy="714.56" r="4.4" fill="#E3B4D8" stroke="#000" stroke-width="1.2" />
<text x="533.8" y="720.26" font-size="22" text-anchor="end" fill="#111">3</text>
<circle cx="555.7" cy="740.04" r="11.5" fill="#EE2D2E" stroke="#000" stroke-width="1.3" />
<circle cx="555.7" cy="740.04" r="4.4" fill="#802B90" stroke="#000" stroke-width="1.2" />
<text x="533.8" y="745.74" font-size="22" text-anchor="end" fill="#111">20</text>
<circle cx="555.7" cy="765.52" r="11.5" fill="#EE2D2E" stroke="#000" stroke-width="1.3" />
<circle cx="555.7" cy="765.52" r="4.4" fill="#802B90" stroke="#000" stroke-width="1.2" />
<text x="533.8" y="771.22" font-size="22" text-anchor="end" fill="#111">5</text>
<circle cx="555.7" cy="791" r="11.5" fill="#EE2D2E" stroke="#000" stroke-width="1.3" />
<circle cx="555.7" cy="791" r="4.4" fill="#802B90" stroke="#000" stroke-width="1.2" />
<text x="533.8" y="796.7" font-size="22" text-anchor="end" fill="#111">37</text>
<circle cx="555.7" cy="816.48" r="11.5" fill="#EE2D2E" stroke="#000" stroke-width="1.3" />
<circle cx="555.7" cy="816.48" r="4.4" fill="#802B90" stroke="#000" stroke-width="1.2" />
<text x="533.8" y="822.18" font-size="22" text-anchor="end" fill="#111">8</text>
<circle cx="555.7" cy="841.96" r="11.5" fill="#EE2D2E" stroke="#000" stroke-width="1.3" />
<circle cx="555.7" cy="841.96" r="4.4" fill="#802B90" stroke="#000" stroke-width="1.2" />
<text x="533.8" y="847.66" font-size="22" text-anchor="end" fill="#111">32</text>
<circle cx="555.7" cy="867.44" r="11.5" fill="#EE2D2E" stroke="#000" stroke-width="1.3" />
<circle cx="555.7" cy="867.44" r="4.4" fill="#802B90" stroke="#000" stroke-width="1.2" />
<text x="533.8" y="873.14" font-size="22" text-anchor="end" fill="#111">4</text>
<circle cx="555.7" cy="892.92" r="11.5" fill="#EE2D2E" stroke="#000" stroke-width="1.3" />
<circle cx="555.7" cy="892.92" r="4.4" fill="#802B90" stroke="#000" stroke-width="1.2" />
<text x="533.8" y="898.62" font-size="22" text-anchor="end" fill="#111">10</text>
<circle cx="555.7" cy="918.4" r="11.5" fill="#EE2D2E" stroke="#000" stroke-width="1.3" />
<circle cx="555.7" cy="918.4" r="4.4" fill="#802B90" stroke="#000" stroke-width="1.2" />
<text x="533.8" y="924.1" font-size="22" text-anchor="end" fill="#111">33</text>
<line x1="50.5" y1="933.7" x2="279.8" y2="933.7" stroke="#111" stroke-width="1.3" stroke-linecap="square"/>
<line x1="50.5" y1="933.7" x2="50.5" y2="945" stroke="#111" stroke-width="1.3" />
<text x="50.5" y="966.8" font-size="21" text-anchor="middle" fill="#111">1.2</text>
<line x1="88.72" y1="933.7" x2="88.72" y2="945" stroke="#111" stroke-width="1.3" />
<text x="88.72" y="966.8" font-size="21" text-anchor="middle" fill="#111">1.0</text>
<line x1="126.93" y1="933.7" x2="126.93" y2="945" stroke="#111" stroke-width="1.3" />
<text x="126.93" y="966.8" font-size="21" text-anchor="middle" fill="#111">0.8</text>
<line x1="165.15" y1="933.7" x2="165.15" y2="945" stroke="#111" stroke-width="1.3" />
<text x="165.15" y="966.8" font-size="21" text-anchor="middle" fill="#111">0.6</text>
<line x1="203.37" y1="933.7" x2="203.37" y2="945" stroke="#111" stroke-width="1.3" />
<text x="203.37" y="966.8" font-size="21" text-anchor="middle" fill="#111">0.4</text>
<line x1="241.58" y1="933.7" x2="241.58" y2="945" stroke="#111" stroke-width="1.3" />
<text x="241.58" y="966.8" font-size="21" text-anchor="middle" fill="#111">0.2</text>
<line x1="279.8" y1="933.7" x2="279.8" y2="945" stroke="#111" stroke-width="1.3" />
<text x="279.8" y="966.8" font-size="21" text-anchor="middle" fill="#111">0.0</text>
<line x1="571.5" y1="933.7" x2="803.6" y2="933.7" stroke="#111" stroke-width="1.3" stroke-linecap="square"/>
<line x1="571.5" y1="933.7" x2="571.5" y2="945" stroke="#111" stroke-width="1.3" />
<text x="571.5" y="966.8" font-size="21" text-anchor="middle" fill="#111">0.0</text>
<line x1="610.18" y1="933.7" x2="610.18" y2="945" stroke="#111" stroke-width="1.3" />
<text x="610.18" y="966.8" font-size="21" text-anchor="middle" fill="#111">0.5</text>
<line x1="648.87" y1="933.7" x2="648.87" y2="945" stroke="#111" stroke-width="1.3" />
<text x="648.87" y="966.8" font-size="21" text-anchor="middle" fill="#111">1.0</text>
<line x1="687.55" y1="933.7" x2="687.55" y2="945" stroke="#111" stroke-width="1.3" />
<text x="687.55" y="966.8" font-size="21" text-anchor="middle" fill="#111">1.5</text>
<line x1="726.23" y1="933.7" x2="726.23" y2="945" stroke="#111" stroke-width="1.3" />
<text x="726.23" y="966.8" font-size="21" text-anchor="middle" fill="#111">2.0</text>
<line x1="764.92" y1="933.7" x2="764.92" y2="945" stroke="#111" stroke-width="1.3" />
<text x="764.92" y="966.8" font-size="21" text-anchor="middle" fill="#111">2.5</text>
<line x1="803.6" y1="933.7" x2="803.6" y2="945" stroke="#111" stroke-width="1.3" />
<text x="803.6" y="966.8" font-size="21" text-anchor="middle" fill="#111">3.0</text>
<text x="166" y="1002.3" font-size="21" text-anchor="middle" fill="#111">Autosome correlation</text>
<text x="169" y="1029.3" font-size="21" text-anchor="middle" fill="#111">distance</text>
<text x="689" y="1002.3" font-size="21" text-anchor="middle" fill="#111">Chromosome X correlation</text>
<text x="689" y="1029.3" font-size="21" text-anchor="middle" fill="#111">distance</text>
<text x="375.5" y="1032.3" font-size="19.7" text-anchor="middle" fill="#3a3a3a" font-family='"DejaVu Sans", "Liberation Sans", sans-serif'>Lorem ipsum</text>
<text x="951.4" y="22" font-size="25" text-anchor="start" fill="#111" font-weight="bold">b)</text>
<text x="995.2" y="22" font-size="25" text-anchor="start" fill="#111">PEA172</text>
<line x1="954.4" y1="54.6" x2="954.4" y2="364" stroke="#000" stroke-width="1.3" stroke-linecap="square"/>
<line x1="954.4" y1="54.6" x2="1178.2" y2="54.6" stroke="#000" stroke-width="1.3" stroke-linecap="square"/>
<line x1="954.4" y1="364" x2="1177" y2="364" stroke="#000" stroke-width="1.3" stroke-linecap="square"/>
<line x1="1178.2" y1="25.1" x2="1178.2" y2="119" stroke="#000" stroke-width="1.3" stroke-linecap="square"/>
<line x1="1178.2" y1="25.1" x2="1196" y2="25.1" stroke="#000" stroke-width="1.3" stroke-linecap="square"/>
<line x1="1178.2" y1="50.7" x2="1196" y2="50.7" stroke="#000" stroke-width="1.3" stroke-linecap="square"/>
<line x1="1180" y1="76.3" x2="1196" y2="76.3" stroke="#000" stroke-width="1.3" stroke-linecap="square"/>
<line x1="1180" y1="76.3" x2="1180" y2="161.7" stroke="#000" stroke-width="1.3" stroke-linecap="square"/>
<line x1="1180" y1="161.7" x2="1187" y2="161.7" stroke="#000" stroke-width="1.3" stroke-linecap="square"/>
<line x1="1187" y1="101.9" x2="1187" y2="221.8" stroke="#000" stroke-width="1.3" stroke-linecap="square"/>
<line x1="1187" y1="101.9" x2="1196" y2="101.9" stroke="#000" stroke-width="1.3" stroke-linecap="square"/>
<line x1="1187" y1="221.8" x2="1188.7" y2="221.8" stroke="#000" stroke-width="1.3" stroke-linecap="square"/>
<line x1="1188.7" y1="150" x2="1188.7" y2="255.6" stroke="#000" stroke-width="1.3" stroke-linecap="square"/>
<line x1="1188.7" y1="255.6" x2="1196" y2="255.6" stroke="#000" stroke-width="1.3" stroke-linecap="square"/>
<line x1="1190.7" y1="140" x2="1190.7" y2="216.8" stroke="#000" stroke-width="1.3" stroke-linecap="square"/>
<line x1="1193.2" y1="127.3" x2="1193.2" y2="229.3" stroke="#000" stroke-width="1.3" stroke-linecap="square"/>
<line x1="1193.2" y1="127.5" x2="1197" y2="127.5" stroke="#000" stroke-width="1.3" stroke-linecap="square"/>
<line x1="1193.2" y1="153.2" x2="1197" y2="153.2" stroke="#000" stroke-width="1.3" stroke-linecap="square"/>
<line x1="1190.7" y1="178.8" x2="1197" y2="178.8" stroke="#000" stroke-width="1.3" stroke-linecap="square"/>
<line x1="1193.2" y1="204.4" x2="1197" y2="204.4" stroke="#000" stroke-width="1.3" stroke-linecap="square"/>
<line x1="1193.2" y1="230" x2="1197" y2="230" stroke="#000" stroke-width="1.3" stroke-linecap="square"/>
<line x1="1177" y1="281.2" x2="1196" y2="281.2" stroke="#000" stroke-width="1.3" stroke-linecap="square"/>
<line x1="1177" y1="281.2" x2="1177" y2="448" stroke="#000" stroke-width="1.3" stroke-linecap="square"/>
<line x1="1177" y1="448" x2="1180" y2="448" stroke="#000" stroke-width="1.3" stroke-linecap="square"/>
<line x1="1180" y1="346.5" x2="1180" y2="549.5" stroke="#000" stroke-width="1.3" stroke-linecap="square"/>
<line x1="1180" y1="346.5" x2="1186.2" y2="346.5" stroke="#000" stroke-width="1.3" stroke-linecap="square"/>
<line x1="1186.2" y1="306.4" x2="1186.2" y2="386" stroke="#000" stroke-width="1.3" stroke-linecap="square"/>
<line x1="1186.2" y1="306.4" x2="1196" y2="306.4" stroke="#000" stroke-width="1.3" stroke-linecap="square"/>
<line x1="1186.2" y1="386" x2="1189.5" y2="386" stroke="#000" stroke-width="1.3" stroke-linecap="square"/>
<line x1="1189.5" y1="352" x2="1189.5" y2="421.2" stroke="#000" stroke-width="1.3" stroke-linecap="square"/>
<line x1="1189.5" y1="352" x2="1196" y2="352" stroke="#000" stroke-width="1.3" stroke-linecap="square"/>
<line x1="1196" y1="332.7" x2="1196" y2="370" stroke="#000" stroke-width="1.3" stroke-linecap="square"/>
<line x1="1189.5" y1="421.2" x2="1194.5" y2="421.2" stroke="#000" stroke-width="1.3" stroke-linecap="square"/>
<line x1="1194.5" y1="409" x2="1194.5" y2="434.7" stroke="#000" stroke-width="1.3" stroke-linecap="square"/>
<line x1="1194.5" y1="409" x2="1197" y2="409" stroke="#000" stroke-width="1.3" stroke-linecap="square"/>
<line x1="1194.5" y1="434.7" x2="1197" y2="434.7" stroke="#000" stroke-width="1.3" stroke-linecap="square"/>
<line x1="1180" y1="549.5" x2="1184.5" y2="549.5" stroke="#000" stroke-width="1.3" stroke-linecap="square"/>
<line x1="1184.5" y1="492.6" x2="1184.5" y2="607.2" stroke="#000" stroke-width="1.3" stroke-linecap="square"/>
<line x1="1184.5" y1="492.6" x2="1191.2" y2="492.6" stroke="#000" stroke-width="1.3" stroke-linecap="square"/>
<line x1="1191.2" y1="460" x2="1191.2" y2="511.4" stroke="#000" stroke-width="1.3" stroke-linecap="square"/>
<line x1="1191.2" y1="460" x2="1196" y2="460" stroke="#000" stroke-width="1.3" stroke-linecap="square"/>
<line x1="1191.2" y1="511.4" x2="1196" y2="511.4" stroke="#000" stroke-width="1.3" stroke-linecap="square"/>
<line x1="1193" y1="473" x2="1193" y2="485.6" stroke="#000" stroke-width="1.3" stroke-linecap="square"/>
<line x1="1193" y1="485.6" x2="1197" y2="485.6" stroke="#000" stroke-width="1.3" stroke-linecap="square"/>
<line x1="1184.5" y1="607.2" x2="1190.7" y2="607.2" stroke="#000" stroke-width="1.3" stroke-linecap="square"/>
<line x1="1190.7" y1="575" x2="1190.7" y2="639" stroke="#000" stroke-width="1.3" stroke-linecap="square"/>
<line x1="1190.7" y1="639" x2="1196" y2="639" stroke="#000" stroke-width="1.3" stroke-linecap="square"/>
<line x1="1193" y1="549" x2="1193" y2="600" stroke="#000" stroke-width="1.3" stroke-linecap="square"/>
<line x1="1195.5" y1="537" x2="1195.5" y2="562" stroke="#000" stroke-width="1.3" stroke-linecap="square"/>
<line x1="1193" y1="588" x2="1197" y2="588" stroke="#000" stroke-width="1.3" stroke-linecap="square"/>
<line x1="1192" y1="613.7" x2="1197" y2="613.7" stroke="#000" stroke-width="1.3" stroke-linecap="square"/>
<line x1="1192" y1="590" x2="1192" y2="613.7" stroke="#000" stroke-width="1.3" stroke-linecap="square"/>
<line x1="1487.7" y1="25.4" x2="1497.5" y2="25.4" stroke="#000" stroke-width="1.3" stroke-linecap="square"/>
<line x1="1497.5" y1="25.4" x2="1497.5" y2="91.1" stroke="#000" stroke-width="1.3" stroke-linecap="square"/>
<line x1="1497.5" y1="58.3" x2="1511.4" y2="58.3" stroke="#000" stroke-width="1.3" stroke-linecap="square"/>
<line x1="1511.4" y1="58.3" x2="1511.4" y2="281" stroke="#000" stroke-width="1.3" stroke-linecap="square"/>
<line x1="1487.7" y1="281" x2="1511.4" y2="281" stroke="#000" stroke-width="1.3" stroke-linecap="square"/>
<line x1="1511.4" y1="170" x2="1730.5" y2="170" stroke="#000" stroke-width="1.3" stroke-linecap="square"/>
<line x1="1730.5" y1="170" x2="1730.5" y2="400" stroke="#000" stroke-width="1.3" stroke-linecap="square"/>
<line x1="1507" y1="400" x2="1730.5" y2="400" stroke="#000" stroke-width="1.3" stroke-linecap="square"/>
<line x1="1487.7" y1="50.9" x2="1493.7" y2="50.9" stroke="#000" stroke-width="1.3" stroke-linecap="square"/>
<line x1="1493.7" y1="50.9" x2="1493.7" y2="132.2" stroke="#000" stroke-width="1.3" stroke-linecap="square"/>
<line x1="1493.7" y1="91.1" x2="1497.5" y2="91.1" stroke="#000" stroke-width="1.3" stroke-linecap="square"/>
<line x1="1490.7" y1="88.7" x2="1490.7" y2="175" stroke="#000" stroke-width="1.3" stroke-linecap="square"/>
<line x1="1489.2" y1="127" x2="1489.2" y2="255.8" stroke="#000" stroke-width="1.3" stroke-linecap="square"/>
<line x1="1487.7" y1="76.3" x2="1487.7" y2="221.8" stroke="#000" stroke-width="1.3" stroke-linecap="square"/>
<line x1="1507" y1="354.8" x2="1507" y2="446.2" stroke="#000" stroke-width="1.3" stroke-linecap="square"/>
<line x1="1499" y1="354.8" x2="1507" y2="354.8" stroke="#000" stroke-width="1.3" stroke-linecap="square"/>
<line x1="1499" y1="325.8" x2="1499" y2="383" stroke="#000" stroke-width="1.3" stroke-linecap="square"/>
<line x1="1487.7" y1="383" x2="1499" y2="383" stroke="#000" stroke-width="1.3" stroke-linecap="square"/>
<line x1="1490" y1="325.8" x2="1499" y2="325.8" stroke="#000" stroke-width="1.3" stroke-linecap="square"/>
<line x1="1490" y1="306.6" x2="1490" y2="345" stroke="#000" stroke-width="1.3" stroke-linecap="square"/>
<line x1="1487.7" y1="306.6" x2="1490" y2="306.6" stroke="#000" stroke-width="1.3" stroke-linecap="square"/>
<line x1="1492.2" y1="446.2" x2="1507" y2="446.2" stroke="#000" stroke-width="1.3" stroke-linecap="square"/>
<line x1="1492.2" y1="408.7" x2="1492.2" y2="484" stroke="#000" stroke-width="1.3" stroke-linecap="square"/>
<line x1="1487.7" y1="408.7" x2="1492.2" y2="408.7" stroke="#000" stroke-width="1.3" stroke-linecap="square"/>
<line x1="1490.7" y1="433.8" x2="1490.7" y2="533" stroke="#000" stroke-width="1.3" stroke-linecap="square"/>
<line x1="1489.5" y1="491.5" x2="1489.5" y2="572.8" stroke="#000" stroke-width="1.3" stroke-linecap="square"/>
<line x1="1488" y1="457" x2="1488" y2="640" stroke="#000" stroke-width="1.3" stroke-linecap="square"/>
<rect x="1254.5" y="11.2" width="7.9" height="25.6" fill="#E0184F" stroke="rgba(0,0,0,0.5)" stroke-width="0.7" />
<rect x="1254.5" y="36.8" width="7.9" height="25.6" fill="#E0184F" stroke="rgba(0,0,0,0.5)" stroke-width="0.7" />
<rect x="1254.5" y="62.4" width="7.9" height="25.6" fill="#E0184F" stroke="rgba(0,0,0,0.5)" stroke-width="0.7" />
<rect x="1254.5" y="88" width="7.9" height="25.6" fill="#E0184F" stroke="rgba(0,0,0,0.5)" stroke-width="0.7" />
<rect x="1254.5" y="113.6" width="7.9" height="25.6" fill="#E0184F" stroke="rgba(0,0,0,0.5)" stroke-width="0.7" />
<rect x="1254.5" y="139.2" width="7.9" height="25.6" fill="#E0184F" stroke="rgba(0,0,0,0.5)" stroke-width="0.7" />
<rect x="1254.5" y="164.8" width="7.9" height="25.6" fill="#E0184F" stroke="rgba(0,0,0,0.5)" stroke-width="0.7" />
<rect x="1254.5" y="190.4" width="7.9" height="25.6" fill="#E0184F" stroke="rgba(0,0,0,0.5)" stroke-width="0.7" />
<rect x="1254.5" y="216" width="7.9" height="25.6" fill="#E0184F" stroke="rgba(0,0,0,0.5)" stroke-width="0.7" />
<rect x="1254.5" y="241.6" width="7.9" height="25.6" fill="#E0184F" stroke="rgba(0,0,0,0.5)" stroke-width="0.7" />
<rect x="1254.5" y="267.2" width="7.9" height="25.6" fill="#5566B4" stroke="rgba(0,0,0,0.5)" stroke-width="0.7" />
<rect x="1254.5" y="292.8" width="7.9" height="25.6" fill="#5566B4" stroke="rgba(0,0,0,0.5)" stroke-width="0.7" />
<rect x="1254.5" y="318.4" width="7.9" height="25.6" fill="#5566B4" stroke="rgba(0,0,0,0.5)" stroke-width="0.7" />
<rect x="1254.5" y="344" width="7.9" height="25.6" fill="#5566B4" stroke="rgba(0,0,0,0.5)" stroke-width="0.7" />
<rect x="1254.5" y="369.6" width="7.9" height="25.6" fill="#5566B4" stroke="rgba(0,0,0,0.5)" stroke-width="0.7" />
<rect x="1254.5" y="395.2" width="7.9" height="25.6" fill="#5566B4" stroke="rgba(0,0,0,0.5)" stroke-width="0.7" />
<rect x="1254.5" y="420.8" width="7.9" height="25.6" fill="#5566B4" stroke="rgba(0,0,0,0.5)" stroke-width="0.7" />
<rect x="1254.5" y="446.4" width="7.9" height="25.6" fill="#5566B4" stroke="rgba(0,0,0,0.5)" stroke-width="0.7" />
<rect x="1254.5" y="472" width="7.9" height="25.6" fill="#5566B4" stroke="rgba(0,0,0,0.5)" stroke-width="0.7" />
<rect x="1254.5" y="497.6" width="7.9" height="25.6" fill="#5566B4" stroke="rgba(0,0,0,0.5)" stroke-width="0.7" />
<rect x="1254.5" y="523.2" width="7.9" height="25.6" fill="#5566B4" stroke="rgba(0,0,0,0.5)" stroke-width="0.7" />
<rect x="1254.5" y="548.8" width="7.9" height="25.6" fill="#5566B4" stroke="rgba(0,0,0,0.5)" stroke-width="0.7" />
<rect x="1254.5" y="574.4" width="7.9" height="25.6" fill="#5566B4" stroke="rgba(0,0,0,0.5)" stroke-width="0.7" />
<rect x="1254.5" y="600" width="7.9" height="25.6" fill="#5566B4" stroke="rgba(0,0,0,0.5)" stroke-width="0.7" />
<rect x="1254.5" y="625.6" width="7.9" height="25.6" fill="#5566B4" stroke="rgba(0,0,0,0.5)" stroke-width="0.7" />
<line x1="1275.8" y1="25.4" x2="1416.2" y2="51.01" stroke="#111" stroke-width="1" />
<line x1="1275.8" y1="51.01" x2="1416.2" y2="127.84" stroke="#111" stroke-width="1" />
<line x1="1275.8" y1="76.62" x2="1416.2" y2="25.4" stroke="#111" stroke-width="1" />
<line x1="1275.8" y1="102.23" x2="1416.2" y2="76.62" stroke="#111" stroke-width="1" />
<line x1="1275.8" y1="127.84" x2="1416.2" y2="102.23" stroke="#111" stroke-width="1" />
<line x1="1275.8" y1="153.45" x2="1416.2" y2="153.45" stroke="#111" stroke-width="1" />
<line x1="1275.8" y1="179.06" x2="1416.2" y2="179.06" stroke="#111" stroke-width="1" />
<line x1="1275.8" y1="204.67" x2="1416.2" y2="204.67" stroke="#111" stroke-width="1" />
<line x1="1275.8" y1="230.28" x2="1416.2" y2="255.89" stroke="#111" stroke-width="1" />
<line x1="1275.8" y1="255.89" x2="1416.2" y2="230.28" stroke="#111" stroke-width="1" />
<line x1="1275.8" y1="281.5" x2="1416.2" y2="281.5" stroke="#111" stroke-width="1" />
<line x1="1275.8" y1="307.11" x2="1416.2" y2="409.55" stroke="#111" stroke-width="1" />
<line x1="1275.8" y1="332.72" x2="1416.2" y2="307.11" stroke="#111" stroke-width="1" />
<line x1="1275.8" y1="358.33" x2="1416.2" y2="460.77" stroke="#111" stroke-width="1" />
<line x1="1275.8" y1="383.94" x2="1416.2" y2="588.82" stroke="#111" stroke-width="1" />
<line x1="1275.8" y1="409.55" x2="1416.2" y2="435.16" stroke="#111" stroke-width="1" />
<line x1="1275.8" y1="435.16" x2="1416.2" y2="537.6" stroke="#111" stroke-width="1" />
<line x1="1275.8" y1="460.77" x2="1416.2" y2="332.72" stroke="#111" stroke-width="1" />
<line x1="1275.8" y1="486.38" x2="1416.2" y2="383.94" stroke="#111" stroke-width="1" />
<line x1="1275.8" y1="511.99" x2="1416.2" y2="563.21" stroke="#111" stroke-width="1" />
<line x1="1275.8" y1="537.6" x2="1416.2" y2="358.33" stroke="#111" stroke-width="1" />
<line x1="1275.8" y1="563.21" x2="1416.2" y2="511.99" stroke="#111" stroke-width="1" />
<line x1="1275.8" y1="588.82" x2="1416.2" y2="486.38" stroke="#111" stroke-width="1" />
<line x1="1275.8" y1="614.43" x2="1416.2" y2="614.43" stroke="#111" stroke-width="1" />
<line x1="1275.8" y1="640.04" x2="1416.2" y2="640.04" stroke="#111" stroke-width="1" />
<circle cx="1208.3" cy="25.1" r="11.4" fill="#EE2D2E" stroke="#000" stroke-width="1.3" />
<circle cx="1208.3" cy="25.1" r="4.4" fill="#6872BC" stroke="#000" stroke-width="1.2" />
<text x="1249.2" y="31.5" font-size="22.6" text-anchor="end" fill="#111">23</text>
<circle cx="1208.3" cy="50.71" r="11.4" fill="#EE2D2E" stroke="#000" stroke-width="1.3" />
<circle cx="1208.3" cy="50.71" r="4.4" fill="#DCDEDC" stroke="#000" stroke-width="1.2" />
<text x="1249.2" y="57.11" font-size="22.6" text-anchor="end" fill="#111">5</text>
<circle cx="1208.3" cy="76.32" r="11.4" fill="#F4774F" stroke="#000" stroke-width="1.3" />
<circle cx="1208.3" cy="76.32" r="4.4" fill="#DCDEDC" stroke="#000" stroke-width="1.2" />
<text x="1249.2" y="82.72" font-size="22.6" text-anchor="end" fill="#111">3</text>
<circle cx="1208.3" cy="101.93" r="11.4" fill="#EE2D2E" stroke="#000" stroke-width="1.3" />
<circle cx="1208.3" cy="101.93" r="4.4" fill="#6872BC" stroke="#000" stroke-width="1.2" />
<text x="1249.2" y="108.33" font-size="22.6" text-anchor="end" fill="#111">31</text>
<circle cx="1208.3" cy="127.54" r="11.4" fill="#EE2D2E" stroke="#000" stroke-width="1.3" />
<circle cx="1208.3" cy="127.54" r="4.4" fill="#80552F" stroke="#000" stroke-width="1.2" />
<text x="1249.2" y="133.94" font-size="22.6" text-anchor="end" fill="#111">10</text>
<circle cx="1208.3" cy="153.15" r="11.4" fill="#EE2D2E" stroke="#000" stroke-width="1.3" />
<circle cx="1208.3" cy="153.15" r="4.4" fill="#80552F" stroke="#000" stroke-width="1.2" />
<text x="1249.2" y="159.55" font-size="22.6" text-anchor="end" fill="#111">26</text>
<circle cx="1208.3" cy="178.76" r="11.4" fill="#EE2D2E" stroke="#000" stroke-width="1.3" />
<circle cx="1208.3" cy="178.76" r="4.4" fill="#DCDEDC" stroke="#000" stroke-width="1.2" />
<text x="1249.2" y="185.16" font-size="22.6" text-anchor="end" fill="#111">2</text>
<circle cx="1208.3" cy="204.37" r="11.4" fill="#EE2D2E" stroke="#000" stroke-width="1.3" />
<circle cx="1208.3" cy="204.37" r="4.4" fill="#80552F" stroke="#000" stroke-width="1.2" />
<text x="1249.2" y="210.77" font-size="22.6" text-anchor="end" fill="#111">25</text>
<circle cx="1208.3" cy="229.98" r="11.4" fill="#EE2D2E" stroke="#000" stroke-width="1.3" />
<circle cx="1208.3" cy="229.98" r="4.4" fill="#F47B2C" stroke="#000" stroke-width="1.2" />
<text x="1249.2" y="236.38" font-size="22.6" text-anchor="end" fill="#111">29</text>
<circle cx="1208.3" cy="255.59" r="11.4" fill="#EE2D2E" stroke="#000" stroke-width="1.3" />
<circle cx="1208.3" cy="255.59" r="4.4" fill="#DCDEDC" stroke="#000" stroke-width="1.2" />
<text x="1249.2" y="261.99" font-size="22.6" text-anchor="end" fill="#111">1</text>
<circle cx="1208.3" cy="281.2" r="11.4" fill="#EE2D2E" stroke="#000" stroke-width="1.3" />
<circle cx="1208.3" cy="281.2" r="4.4" fill="#DCDEDC" stroke="#000" stroke-width="1.2" />
<text x="1249.2" y="287.6" font-size="22.6" text-anchor="end" fill="#111">4</text>
<circle cx="1208.3" cy="306.81" r="11.4" fill="#EE2D2E" stroke="#000" stroke-width="1.3" />
<circle cx="1208.3" cy="306.81" r="4.4" fill="#6872BC" stroke="#000" stroke-width="1.2" />
<text x="1249.2" y="313.21" font-size="22.6" text-anchor="end" fill="#111">30</text>
<circle cx="1208.3" cy="332.42" r="11.4" fill="#EE2D2E" stroke="#000" stroke-width="1.3" />
<circle cx="1208.3" cy="332.42" r="4.4" fill="#802B90" stroke="#000" stroke-width="1.2" />
<text x="1249.2" y="338.82" font-size="22.6" text-anchor="end" fill="#111">33</text>
<circle cx="1208.3" cy="358.03" r="11.4" fill="#EE2D2E" stroke="#000" stroke-width="1.3" />
<circle cx="1208.3" cy="358.03" r="4.4" fill="#802B90" stroke="#000" stroke-width="1.2" />
<text x="1249.2" y="364.43" font-size="22.6" text-anchor="end" fill="#111">32</text>
<circle cx="1208.3" cy="383.64" r="11.4" fill="#EE2D2E" stroke="#000" stroke-width="1.3" />
<circle cx="1208.3" cy="383.64" r="4.4" fill="#802B90" stroke="#000" stroke-width="1.2" />
<text x="1249.2" y="390.04" font-size="22.6" text-anchor="end" fill="#111">16</text>
<circle cx="1208.3" cy="409.25" r="11.4" fill="#EE2D2E" stroke="#000" stroke-width="1.3" />
<circle cx="1208.3" cy="409.25" r="4.4" fill="#802B90" stroke="#000" stroke-width="1.2" />
<text x="1249.2" y="415.65" font-size="22.6" text-anchor="end" fill="#111">8</text>
<circle cx="1208.3" cy="434.86" r="11.4" fill="#EE2D2E" stroke="#000" stroke-width="1.3" />
<circle cx="1208.3" cy="434.86" r="4.4" fill="#802B90" stroke="#000" stroke-width="1.2" />
<text x="1249.2" y="441.26" font-size="22.6" text-anchor="end" fill="#111">6</text>
<circle cx="1208.3" cy="460.47" r="11.4" fill="#EE2D2E" stroke="#000" stroke-width="1.3" />
<circle cx="1208.3" cy="460.47" r="4.4" fill="#6872BC" stroke="#000" stroke-width="1.2" />
<text x="1249.2" y="466.87" font-size="22.6" text-anchor="end" fill="#111">27</text>
<circle cx="1208.3" cy="486.08" r="11.4" fill="#EE2D2E" stroke="#000" stroke-width="1.3" />
<circle cx="1208.3" cy="486.08" r="4.4" fill="#F47B2C" stroke="#000" stroke-width="1.2" />
<text x="1249.2" y="492.48" font-size="22.6" text-anchor="end" fill="#111">9</text>
<circle cx="1208.3" cy="511.69" r="11.4" fill="#EE2D2E" stroke="#000" stroke-width="1.3" />
<circle cx="1208.3" cy="511.69" r="4.4" fill="#F47B2C" stroke="#000" stroke-width="1.2" />
<text x="1249.2" y="518.09" font-size="22.6" text-anchor="end" fill="#111">28</text>
<circle cx="1208.3" cy="537.3" r="11.4" fill="#EE2D2E" stroke="#000" stroke-width="1.3" />
<circle cx="1208.3" cy="537.3" r="4.4" fill="#802B90" stroke="#000" stroke-width="1.2" />
<text x="1249.2" y="543.7" font-size="22.6" text-anchor="end" fill="#111">20</text>
<circle cx="1208.3" cy="562.91" r="11.4" fill="#EE2D2E" stroke="#000" stroke-width="1.3" />
<circle cx="1208.3" cy="562.91" r="4.4" fill="#802B90" stroke="#000" stroke-width="1.2" />
<text x="1249.2" y="569.31" font-size="22.6" text-anchor="end" fill="#111">15</text>
<circle cx="1208.3" cy="588.52" r="11.4" fill="#EE2D2E" stroke="#000" stroke-width="1.3" />
<circle cx="1208.3" cy="588.52" r="4.4" fill="#6872BC" stroke="#000" stroke-width="1.2" />
<text x="1249.2" y="594.92" font-size="22.6" text-anchor="end" fill="#111">22</text>
<circle cx="1208.3" cy="614.13" r="11.4" fill="#EE2D2E" stroke="#000" stroke-width="1.3" />
<circle cx="1208.3" cy="614.13" r="4.4" fill="#802B90" stroke="#000" stroke-width="1.2" />
<text x="1249.2" y="620.53" font-size="22.6" text-anchor="end" fill="#111">24</text>
<circle cx="1208.3" cy="639.74" r="11.4" fill="#EE2D2E" stroke="#000" stroke-width="1.3" />
<circle cx="1208.3" cy="639.74" r="4.4" fill="#802B90" stroke="#000" stroke-width="1.2" />
<text x="1249.2" y="646.14" font-size="22.6" text-anchor="end" fill="#111">21</text>
<circle cx="1475.9" cy="22.5" r="11.2" fill="#F4774F" stroke="#000" stroke-width="1.3" />
<circle cx="1475.9" cy="22.5" r="4.4" fill="#DCDEDC" stroke="#000" stroke-width="1.2" />
<text x="1460" y="30" font-size="22" text-anchor="end" fill="#111">3</text>
<circle cx="1475.9" cy="48.13" r="11.2" fill="#EE2D2E" stroke="#000" stroke-width="1.3" />
<circle cx="1475.9" cy="48.13" r="4.4" fill="#6872BC" stroke="#000" stroke-width="1.2" />
<text x="1460" y="55.63" font-size="22" text-anchor="end" fill="#111">23</text>
<circle cx="1475.9" cy="73.76" r="11.2" fill="#EE2D2E" stroke="#000" stroke-width="1.3" />
<circle cx="1475.9" cy="73.76" r="4.4" fill="#6872BC" stroke="#000" stroke-width="1.2" />
<text x="1460" y="81.26" font-size="22" text-anchor="end" fill="#111">31</text>
<circle cx="1475.9" cy="99.39" r="11.2" fill="#EE2D2E" stroke="#000" stroke-width="1.3" />
<circle cx="1475.9" cy="99.39" r="4.4" fill="#80552F" stroke="#000" stroke-width="1.2" />
<text x="1460" y="106.89" font-size="22" text-anchor="end" fill="#111">10</text>
<circle cx="1475.9" cy="125.02" r="11.2" fill="#EE2D2E" stroke="#000" stroke-width="1.3" />
<circle cx="1475.9" cy="125.02" r="4.4" fill="#DCDEDC" stroke="#000" stroke-width="1.2" />
<text x="1460" y="132.52" font-size="22" text-anchor="end" fill="#111">5</text>
<circle cx="1475.9" cy="150.65" r="11.2" fill="#EE2D2E" stroke="#000" stroke-width="1.3" />
<circle cx="1475.9" cy="150.65" r="4.4" fill="#80552F" stroke="#000" stroke-width="1.2" />
<text x="1460" y="158.15" font-size="22" text-anchor="end" fill="#111">26</text>
<circle cx="1475.9" cy="176.28" r="11.2" fill="#EE2D2E" stroke="#000" stroke-width="1.3" />
<circle cx="1475.9" cy="176.28" r="4.4" fill="#DCDEDC" stroke="#000" stroke-width="1.2" />
<text x="1460" y="183.78" font-size="22" text-anchor="end" fill="#111">2</text>
<circle cx="1475.9" cy="201.91" r="11.2" fill="#EE2D2E" stroke="#000" stroke-width="1.3" />
<circle cx="1475.9" cy="201.91" r="4.4" fill="#80552F" stroke="#000" stroke-width="1.2" />
<text x="1460" y="209.41" font-size="22" text-anchor="end" fill="#111">25</text>
<circle cx="1475.9" cy="227.54" r="11.2" fill="#EE2D2E" stroke="#000" stroke-width="1.3" />
<circle cx="1475.9" cy="227.54" r="4.4" fill="#DCDEDC" stroke="#000" stroke-width="1.2" />
<text x="1460" y="235.04" font-size="22" text-anchor="end" fill="#111">1</text>
<circle cx="1475.9" cy="253.17" r="11.2" fill="#EE2D2E" stroke="#000" stroke-width="1.3" />
<circle cx="1475.9" cy="253.17" r="4.4" fill="#F47B2C" stroke="#000" stroke-width="1.2" />
<text x="1460" y="260.67" font-size="22" text-anchor="end" fill="#111">29</text>
<circle cx="1475.9" cy="278.8" r="11.2" fill="#EE2D2E" stroke="#000" stroke-width="1.3" />
<circle cx="1475.9" cy="278.8" r="4.4" fill="#DCDEDC" stroke="#000" stroke-width="1.2" />
<text x="1460" y="286.3" font-size="22" text-anchor="end" fill="#111">4</text>
<circle cx="1475.9" cy="304.43" r="11.2" fill="#EE2D2E" stroke="#000" stroke-width="1.3" />
<circle cx="1475.9" cy="304.43" r="4.4" fill="#802B90" stroke="#000" stroke-width="1.2" />
<text x="1460" y="311.93" font-size="22" text-anchor="end" fill="#111">33</text>
<circle cx="1475.9" cy="330.06" r="11.2" fill="#EE2D2E" stroke="#000" stroke-width="1.3" />
<circle cx="1475.9" cy="330.06" r="4.4" fill="#6872BC" stroke="#000" stroke-width="1.2" />
<text x="1460" y="337.56" font-size="22" text-anchor="end" fill="#111">27</text>
<circle cx="1475.9" cy="355.69" r="11.2" fill="#EE2D2E" stroke="#000" stroke-width="1.3" />
<circle cx="1475.9" cy="355.69" r="4.4" fill="#802B90" stroke="#000" stroke-width="1.2" />
<text x="1460" y="363.19" font-size="22" text-anchor="end" fill="#111">20</text>
<circle cx="1475.9" cy="381.32" r="11.2" fill="#EE2D2E" stroke="#000" stroke-width="1.3" />
<circle cx="1475.9" cy="381.32" r="4.4" fill="#F47B2C" stroke="#000" stroke-width="1.2" />
<text x="1460" y="388.82" font-size="22" text-anchor="end" fill="#111">9</text>
<circle cx="1475.9" cy="406.95" r="11.2" fill="#EE2D2E" stroke="#000" stroke-width="1.3" />
<circle cx="1475.9" cy="406.95" r="4.4" fill="#6872BC" stroke="#000" stroke-width="1.2" />
<text x="1460" y="414.45" font-size="22" text-anchor="end" fill="#111">30</text>
<circle cx="1475.9" cy="432.58" r="11.2" fill="#EE2D2E" stroke="#000" stroke-width="1.3" />
<circle cx="1475.9" cy="432.58" r="4.4" fill="#802B90" stroke="#000" stroke-width="1.2" />
<text x="1460" y="440.08" font-size="22" text-anchor="end" fill="#111">8</text>
<circle cx="1475.9" cy="458.21" r="11.2" fill="#EE2D2E" stroke="#000" stroke-width="1.3" />
<circle cx="1475.9" cy="458.21" r="4.4" fill="#802B90" stroke="#000" stroke-width="1.2" />
<text x="1460" y="465.71" font-size="22" text-anchor="end" fill="#111">32</text>
<circle cx="1475.9" cy="483.84" r="11.2" fill="#EE2D2E" stroke="#000" stroke-width="1.3" />
<circle cx="1475.9" cy="483.84" r="4.4" fill="#6872BC" stroke="#000" stroke-width="1.2" />
<text x="1460" y="491.34" font-size="22" text-anchor="end" fill="#111">22</text>
<circle cx="1475.9" cy="509.47" r="11.2" fill="#EE2D2E" stroke="#000" stroke-width="1.3" />
<circle cx="1475.9" cy="509.47" r="4.4" fill="#802B90" stroke="#000" stroke-width="1.2" />
<text x="1460" y="516.97" font-size="22" text-anchor="end" fill="#111">15</text>
<circle cx="1475.9" cy="535.1" r="11.2" fill="#EE2D2E" stroke="#000" stroke-width="1.3" />
<circle cx="1475.9" cy="535.1" r="4.4" fill="#802B90" stroke="#000" stroke-width="1.2" />
<text x="1460" y="542.6" font-size="22" text-anchor="end" fill="#111">6</text>
<circle cx="1475.9" cy="560.73" r="11.2" fill="#EE2D2E" stroke="#000" stroke-width="1.3" />
<circle cx="1475.9" cy="560.73" r="4.4" fill="#F47B2C" stroke="#000" stroke-width="1.2" />
<text x="1460" y="568.23" font-size="22" text-anchor="end" fill="#111">28</text>
<circle cx="1475.9" cy="586.36" r="11.2" fill="#EE2D2E" stroke="#000" stroke-width="1.3" />
<circle cx="1475.9" cy="586.36" r="4.4" fill="#802B90" stroke="#000" stroke-width="1.2" />
<text x="1460" y="593.86" font-size="22" text-anchor="end" fill="#111">16</text>
<circle cx="1475.9" cy="611.99" r="11.2" fill="#EE2D2E" stroke="#000" stroke-width="1.3" />
<circle cx="1475.9" cy="611.99" r="4.4" fill="#802B90" stroke="#000" stroke-width="1.2" />
<text x="1460" y="619.49" font-size="22" text-anchor="end" fill="#111">24</text>
<circle cx="1475.9" cy="637.62" r="11.2" fill="#EE2D2E" stroke="#000" stroke-width="1.3" />
<circle cx="1475.9" cy="637.62" r="4.4" fill="#802B90" stroke="#000" stroke-width="1.2" />
<text x="1460" y="645.12" font-size="22" text-anchor="end" fill="#111">21</text>
<line x1="1007.8" y1="652.2" x2="1197.2" y2="652.2" stroke="#111" stroke-width="1.3" stroke-linecap="square"/>
<line x1="1007.8" y1="652.2" x2="1007.8" y2="660.7" stroke="#111" stroke-width="1.3" />
<text x="1007.8" y="680.5" font-size="21" text-anchor="middle" fill="#111">1.5</text>
<line x1="1070.93" y1="652.2" x2="1070.93" y2="660.7" stroke="#111" stroke-width="1.3" />
<text x="1070.93" y="680.5" font-size="21" text-anchor="middle" fill="#111">1.0</text>
<line x1="1134.07" y1="652.2" x2="1134.07" y2="660.7" stroke="#111" stroke-width="1.3" />
<text x="1134.07" y="680.5" font-size="21" text-anchor="middle" fill="#111">0.5</text>
<line x1="1197.2" y1="652.2" x2="1197.2" y2="660.7" stroke="#111" stroke-width="1.3" />
<text x="1197.2" y="680.5" font-size="21" text-anchor="middle" fill="#111">0.0</text>
<line x1="1485.4" y1="653.2" x2="1705.1" y2="653.2" stroke="#111" stroke-width="1.3" stroke-linecap="square"/>
<line x1="1485.4" y1="653.2" x2="1485.4" y2="662" stroke="#111" stroke-width="1.3" />
<text x="1485.4" y="680.7" font-size="21" text-anchor="middle" fill="#111">0.0</text>
<line x1="1540.33" y1="653.2" x2="1540.33" y2="662" stroke="#111" stroke-width="1.3" />
<text x="1540.33" y="680.7" font-size="21" text-anchor="middle" fill="#111">0.5</text>
<line x1="1595.25" y1="653.2" x2="1595.25" y2="662" stroke="#111" stroke-width="1.3" />
<text x="1595.25" y="680.7" font-size="21" text-anchor="middle" fill="#111">1.0</text>
<line x1="1650.17" y1="653.2" x2="1650.17" y2="662" stroke="#111" stroke-width="1.3" />
<text x="1650.17" y="680.7" font-size="21" text-anchor="middle" fill="#111">1.5</text>
<line x1="1705.1" y1="653.2" x2="1705.1" y2="662" stroke="#111" stroke-width="1.3" />
<text x="1705.1" y="680.7" font-size="21" text-anchor="middle" fill="#111">2.0</text>
<text x="1101.8" y="714.2" font-size="21" text-anchor="middle" fill="#111">Autosome correlation</text>
<text x="1104.8" y="741" font-size="21" text-anchor="middle" fill="#111">distance</text>
<text x="1599" y="714.4" font-size="21" text-anchor="middle" fill="#111">Chromosome X correlation</text>
<text x="1599.2" y="741" font-size="21" text-anchor="middle" fill="#111">distance</text>
<rect x="896.6" y="810.6" width="794.6" height="146.2" fill="none" stroke="#767676" stroke-width="1.2" stroke-dasharray="6.6 6.3"/>
<text x="1110.5" y="836.7" font-size="25.6" text-anchor="middle" fill="#111">Tumour site</text>
<circle cx="926.7" cy="864.2" r="11.6" fill="#DCDEDC" stroke="#111" stroke-width="1.2" />
<text x="944.9" y="872.8" font-size="25.2" text-anchor="start" fill="#111">Prostate</text>
<circle cx="926.7" cy="902.7" r="11.6" fill="#6872BC" stroke="#111" stroke-width="1.2" />
<text x="944.9" y="909.3" font-size="25.2" text-anchor="start" fill="#111">Bone</text>
<circle cx="926.7" cy="937.6" r="11.6" fill="#B0A080" stroke="#111" stroke-width="1.2" />
<text x="943.5" y="946.2" font-size="25.2" text-anchor="start" fill="#111">Kidney</text>
<circle cx="1062" cy="864.2" r="11.6" fill="#80552F" stroke="#111" stroke-width="1.2" />
<text x="1079.7" y="872.8" font-size="25.2" text-anchor="start" fill="#111">Liver</text>
<circle cx="1062" cy="902.7" r="11.6" fill="#F0696F" stroke="#111" stroke-width="1.2" />
<text x="1079.7" y="911.5" font-size="25.2" text-anchor="start" fill="#111">Lung</text>
<circle cx="1062" cy="937.6" r="11.6" fill="#F47B2C" stroke="#111" stroke-width="1.2" />
<text x="1079.7" y="946.2" font-size="25.2" text-anchor="start" fill="#111">Bowel</text>
<circle cx="1185.1" cy="861.5" r="11.6" fill="#E0B0D5" stroke="#111" stroke-width="1.2" />
<text x="1203" y="870.9" font-size="25.2" text-anchor="start" fill="#111">Bladder/Ureter</text>
<circle cx="1183" cy="900.8" r="11.6" fill="#802B90" stroke="#111" stroke-width="1.2" />
<text x="1200.3" y="909.3" font-size="25.2" text-anchor="start" fill="#111">Lymph node</text>
<circle cx="1183" cy="939.5" r="11.6" fill="#5DB947" stroke="#111" stroke-width="1.2" />
<text x="1200.3" y="948" font-size="25.2" text-anchor="start" fill="#111">Brain/Dura</text>
<text x="1436.8" y="839.4" font-size="25.4" fill="#111"><tspan font-style="italic">AR</tspan> copy number</text>
<defs><linearGradient id="cng" x1="0" x2="1" y1="0" y2="0"><stop offset="0" stop-color="#FFFFFB"/><stop offset="0.35" stop-color="#FEF3D6"/><stop offset="0.55" stop-color="#FBD2A8"/><stop offset="0.8" stop-color="#F27E5A"/><stop offset="1" stop-color="#E8342A"/></linearGradient></defs>
<rect x="1438.9" y="851.4" width="190.9" height="20" fill="url(#cng)" stroke="#111" stroke-width="1.2" />
<text x="1434.5" y="869.3" font-size="21" text-anchor="end" fill="#222">1</text>
<text x="1534.2" y="869.3" font-size="21" text-anchor="middle" fill="#333">2.0</text>
<text x="1632.2" y="869.3" font-size="21" text-anchor="start" fill="#222">≥3.0</text>
<text x="1433.3" y="902.7" font-size="25.6" text-anchor="start" fill="#111">Autosomal cluster</text>
<rect x="1438.7" y="917.3" width="8" height="20.2" fill="#5566B4" stroke="rgba(0,0,0,0.45)" stroke-width="0.7" />
<text x="1458.2" y="935" font-size="20.5" text-anchor="start" fill="#333">1</text>
<rect x="1520.1" y="917.3" width="8" height="20.2" fill="#E0184F" stroke="rgba(0,0,0,0.45)" stroke-width="0.7" />
<text x="1536.1" y="935" font-size="20.5" text-anchor="start" fill="#333">2</text>
<rect x="1596.2" y="917.3" width="8" height="20.2" fill="#96D070" stroke="rgba(0,0,0,0.45)" stroke-width="0.7" />
<text x="1611.1" y="935" font-size="20.5" text-anchor="start" fill="#333">3</text>
<text x="32.5" y="1103.7" font-size="25" text-anchor="start" fill="#111" font-weight="bold">c)</text>
<rect x="66.8" y="1148.8" width="392.7" height="407.1" fill="#fff" stroke="none" stroke-width="1" />
<line x1="114.1" y1="1148.8" x2="114.1" y2="1555.9" stroke="#f1f1f1" stroke-width="0.8" />
<line x1="212.1" y1="1148.8" x2="212.1" y2="1555.9" stroke="#f1f1f1" stroke-width="0.8" />
<line x1="310.1" y1="1148.8" x2="310.1" y2="1555.9" stroke="#f1f1f1" stroke-width="0.8" />
<line x1="408.1" y1="1148.8" x2="408.1" y2="1555.9" stroke="#f1f1f1" stroke-width="0.8" />
<line x1="66.8" y1="1190.3" x2="459.5" y2="1190.3" stroke="#f1f1f1" stroke-width="0.8" />
<line x1="66.8" y1="1271.1" x2="459.5" y2="1271.1" stroke="#f1f1f1" stroke-width="0.8" />
<line x1="66.8" y1="1351.9" x2="459.5" y2="1351.9" stroke="#f1f1f1" stroke-width="0.8" />
<line x1="66.8" y1="1432.7" x2="459.5" y2="1432.7" stroke="#f1f1f1" stroke-width="0.8" />
<line x1="66.8" y1="1513.5" x2="459.5" y2="1513.5" stroke="#f1f1f1" stroke-width="0.8" />
<line x1="163.1" y1="1148.8" x2="163.1" y2="1555.9" stroke="#e6e6e6" stroke-width="1.1" />
<line x1="261.1" y1="1148.8" x2="261.1" y2="1555.9" stroke="#e6e6e6" stroke-width="1.1" />
<line x1="359.1" y1="1148.8" x2="359.1" y2="1555.9" stroke="#e6e6e6" stroke-width="1.1" />
<line x1="66.8" y1="1230.7" x2="459.5" y2="1230.7" stroke="#e6e6e6" stroke-width="1.1" />
<line x1="66.8" y1="1311.5" x2="459.5" y2="1311.5" stroke="#e6e6e6" stroke-width="1.1" />
<line x1="66.8" y1="1392.3" x2="459.5" y2="1392.3" stroke="#e6e6e6" stroke-width="1.1" />
<line x1="66.8" y1="1473.1" x2="459.5" y2="1473.1" stroke="#e6e6e6" stroke-width="1.1" />
<circle cx="84.21" cy="1311.5" r="2.71" fill="#F4706B" stroke="#111" stroke-width="0.8" />
<circle cx="147.67" cy="1294.96" r="1.81" fill="#F4706B" stroke="#111" stroke-width="0.8" />
<circle cx="164.21" cy="1279.32" r="3.91" fill="#F4706B" stroke="#111" stroke-width="0.8" />
<circle cx="350.38" cy="1263.08" r="3.61" fill="#F4706B" stroke="#111" stroke-width="0.8" />
<circle cx="375.04" cy="1214.96" r="4.51" fill="#F4706B" stroke="#111" stroke-width="0.8" />
<circle cx="399.1" cy="1279.32" r="3.31" fill="#76B041" stroke="#111" stroke-width="0.8" />
<circle cx="314.89" cy="1360.23" r="3.61" fill="#76B041" stroke="#111" stroke-width="0.8" />
<circle cx="434.59" cy="1343.98" r="2.41" fill="#76B041" stroke="#111" stroke-width="0.8" />
<circle cx="402.41" cy="1392.41" r="3.61" fill="#76B041" stroke="#111" stroke-width="0.8" />
<circle cx="420.75" cy="1392.41" r="3.61" fill="#76B041" stroke="#111" stroke-width="0.8" />
<circle cx="415.94" cy="1327.74" r="2.71" fill="#76B041" stroke="#111" stroke-width="0.8" />
<circle cx="236.99" cy="1457.07" r="3.01" fill="#1DBFC6" stroke="#111" stroke-width="0.8" />
<circle cx="365.41" cy="1489.25" r="5.72" fill="#1DBFC6" stroke="#111" stroke-width="0.8" />
<circle cx="258.05" cy="1521.43" r="3.61" fill="#1DBFC6" stroke="#111" stroke-width="0.8" />
<circle cx="252.03" cy="1537.67" r="2.41" fill="#1DBFC6" stroke="#111" stroke-width="0.8" />
<circle cx="375.04" cy="1279.02" r="9.02" fill="#F4706B" stroke="#111" stroke-width="0.8" />
<circle cx="386.47" cy="1294.96" r="7.82" fill="#F4706B" stroke="#111" stroke-width="0.8" />
<circle cx="392.48" cy="1311.5" r="8.12" fill="#F4706B" stroke="#111" stroke-width="0.8" />
<circle cx="430.68" cy="1166.54" r="5.11" fill="#A67CC5" stroke="#111" stroke-width="0.8" />
<circle cx="430.68" cy="1198.72" r="5.11" fill="#A67CC5" stroke="#111" stroke-width="0.8" />
<circle cx="420.75" cy="1214.96" r="5.41" fill="#A67CC5" stroke="#111" stroke-width="0.8" />
<circle cx="401.2" cy="1230.9" r="5.11" fill="#A67CC5" stroke="#111" stroke-width="0.8" />
<circle cx="426.77" cy="1230.9" r="5.11" fill="#A67CC5" stroke="#111" stroke-width="0.8" />
<circle cx="418.05" cy="1247.14" r="3.91" fill="#A67CC5" stroke="#111" stroke-width="0.8" />
<circle cx="424.06" cy="1247.14" r="5.72" fill="#A67CC5" stroke="#111" stroke-width="0.8" />
<circle cx="420.75" cy="1263.08" r="5.11" fill="#A67CC5" stroke="#111" stroke-width="0.8" />
<circle cx="431.58" cy="1263.08" r="5.41" fill="#A67CC5" stroke="#111" stroke-width="0.8" />
<circle cx="424.06" cy="1263.08" r="6.32" fill="#A67CC5" stroke="#111" stroke-width="0.8" />
<circle cx="415.94" cy="1279.02" r="5.11" fill="#A67CC5" stroke="#111" stroke-width="0.8" />
<circle cx="442.41" cy="1279.02" r="6.32" fill="#A67CC5" stroke="#111" stroke-width="0.8" />
<circle cx="379.55" cy="1294.96" r="5.72" fill="#A67CC5" stroke="#111" stroke-width="0.8" />
<circle cx="422.56" cy="1294.96" r="3.91" fill="#A67CC5" stroke="#111" stroke-width="0.8" />
<circle cx="416.54" cy="1294.96" r="5.11" fill="#A67CC5" stroke="#111" stroke-width="0.8" />
<circle cx="418.05" cy="1311.5" r="5.11" fill="#A67CC5" stroke="#111" stroke-width="0.8" />
<circle cx="372.33" cy="1327.74" r="4.81" fill="#A67CC5" stroke="#111" stroke-width="0.8" />
<circle cx="421.05" cy="1327.74" r="5.41" fill="#A67CC5" stroke="#111" stroke-width="0.8" />
<circle cx="376.54" cy="1376.17" r="6.62" fill="#A67CC5" stroke="#111" stroke-width="0.8" />
<line x1="84.21" y1="1299.77" x2="392.48" y2="1271.5" stroke="#F4706B" stroke-width="2.6" />
<line x1="314.89" y1="1343.08" x2="434.59" y2="1333.16" stroke="#76B041" stroke-width="2.6" />
<line x1="236.99" y1="1503.98" x2="365.41" y2="1496.47" stroke="#1DBFC6" stroke-width="2.6" />
<line x1="372.33" y1="1333.76" x2="442.41" y2="1227.89" stroke="#A67CC5" stroke-width="2.6" />
<rect x="66.8" y="1148.8" width="392.7" height="407.1" fill="none" stroke="#666" stroke-width="1.3" />
<line x1="62.5" y1="1149.9" x2="66.8" y2="1149.9" stroke="#444" stroke-width="1.1" />
<text x="57.6" y="1158.4" font-size="24.2" text-anchor="end" fill="#111">10</text>
<line x1="62.5" y1="1230.7" x2="66.8" y2="1230.7" stroke="#444" stroke-width="1.1" />
<text x="57.6" y="1239.2" font-size="24.2" text-anchor="end" fill="#111">5</text>
<line x1="62.5" y1="1311.5" x2="66.8" y2="1311.5" stroke="#444" stroke-width="1.1" />
<text x="57.6" y="1320" font-size="24.2" text-anchor="end" fill="#111">0</text>
<line x1="62.5" y1="1392.3" x2="66.8" y2="1392.3" stroke="#444" stroke-width="1.1" />
<text x="57.6" y="1400.8" font-size="24.2" text-anchor="end" fill="#111">−5</text>
<line x1="62.5" y1="1473.1" x2="66.8" y2="1473.1" stroke="#444" stroke-width="1.1" />
<text x="57.6" y="1481.6" font-size="24.2" text-anchor="end" fill="#111">−10</text>
<line x1="62.5" y1="1553.9" x2="66.8" y2="1553.9" stroke="#444" stroke-width="1.1" />
<text x="57.6" y="1562.4" font-size="24.2" text-anchor="end" fill="#111">−15</text>
<line x1="65.1" y1="1555.9" x2="65.1" y2="1560.2" stroke="#444" stroke-width="1.1" />
<text x="62.9" y="1589.2" font-size="24.2" text-anchor="middle" fill="#111">−3</text>
<line x1="163.1" y1="1555.9" x2="163.1" y2="1560.2" stroke="#444" stroke-width="1.1" />
<text x="160.9" y="1589.2" font-size="24.2" text-anchor="middle" fill="#111">−2</text>
<line x1="261.1" y1="1555.9" x2="261.1" y2="1560.2" stroke="#444" stroke-width="1.1" />
<text x="258.9" y="1589.2" font-size="24.2" text-anchor="middle" fill="#111">−1</text>
<line x1="359.1" y1="1555.9" x2="359.1" y2="1560.2" stroke="#444" stroke-width="1.1" />
<text x="359.1" y="1589.2" font-size="24.2" text-anchor="middle" fill="#111">0</text>
<line x1="457.1" y1="1555.9" x2="457.1" y2="1560.2" stroke="#444" stroke-width="1.1" />
<text x="457.1" y="1589.2" font-size="24.2" text-anchor="middle" fill="#111">1</text>
<text x="21.5" y="1351" font-size="24" text-anchor="middle" fill="#111" transform="rotate(-90 21.5 1351)">AR score</text>
<text x="261.6" y="1625.8" font-size="24.2" text-anchor="middle" fill="#111">Normalized AR expression</text>
<rect x="464" y="1147.5" width="236.5" height="408.6" fill="none" stroke="#111" stroke-width="1.3" stroke-dasharray="10 6.4"/>
<text x="475" y="1175.3" font-size="22.4" text-anchor="start" fill="#111">Patient ID</text>
<line x1="470.3" y1="1206.8" x2="498.9" y2="1206.8" stroke="#F4706B" stroke-width="4.4" />
<circle cx="484.7" cy="1206.8" r="3.7" fill="#F4706B" stroke="#111" stroke-width="1" />
<text x="504.4" y="1213.4" font-size="22.6" text-anchor="start" fill="#111">CA63</text>
<text x="576.2" y="1213.4" font-size="22.6" text-anchor="start" fill="#111">(p=0.208)</text>
<line x1="470.3" y1="1242.2" x2="498.9" y2="1242.2" stroke="#76B041" stroke-width="4.4" />
<circle cx="484.7" cy="1242.2" r="3.7" fill="#76B041" stroke="#111" stroke-width="1" />
<text x="504.4" y="1248.8" font-size="22.6" text-anchor="start" fill="#111">CA76</text>
<text x="574.6" y="1248.8" font-size="22.6" text-anchor="start" fill="#111">(p=0.452)</text>
<line x1="470.3" y1="1278.3" x2="498.9" y2="1278.3" stroke="#1DBFC6" stroke-width="4.4" />
<circle cx="484.7" cy="1278.3" r="3.7" fill="#1DBFC6" stroke="#111" stroke-width="1" />
<text x="504.4" y="1284.9" font-size="22.6" text-anchor="start" fill="#111">CA83</text>
<text x="574.6" y="1284.9" font-size="22.6" text-anchor="start" fill="#111">(p=0.904)</text>
<line x1="470.3" y1="1313.2" x2="498.9" y2="1313.2" stroke="#A67CC5" stroke-width="4.4" />
<circle cx="484.7" cy="1313.2" r="3.7" fill="#A67CC5" stroke="#111" stroke-width="1" />
<text x="504.4" y="1319.8" font-size="22.6" text-anchor="start" fill="#111">PEA172</text>
<text x="594.2" y="1319.8" font-size="22.6" text-anchor="start" fill="#111">(p=0.003)</text>
<text x="482.9" y="1375.5" font-size="22.3" fill="#111"><tspan font-style="italic">AR</tspan> CN</text>
<circle cx="493.3" cy="1413.4" r="7.8" fill="none" stroke="#111" stroke-width="1.2" />
<text x="545.6" y="1420" font-size="22" text-anchor="end" fill="#111">5</text>
<circle cx="493.3" cy="1447.7" r="10.2" fill="none" stroke="#111" stroke-width="1.2" />
<text x="545.6" y="1454.3" font-size="22" text-anchor="end" fill="#111">10</text>
<circle cx="493.3" cy="1481.7" r="11.8" fill="none" stroke="#111" stroke-width="1.2" />
<text x="545.6" y="1488.3" font-size="22" text-anchor="end" fill="#111">15</text>
<circle cx="493.3" cy="1515.6" r="13.4" fill="none" stroke="#111" stroke-width="1.2" />
<text x="545.6" y="1522.2" font-size="22" text-anchor="end" fill="#111">20</text>
<text x="732.9" y="1103.8" font-size="25" text-anchor="start" fill="#111" font-weight="bold">d)</text>
<rect x="946.7" y="1091" width="655" height="32.1" fill="none" stroke="#767676" stroke-width="1.15" stroke-dasharray="6.6 6.3"/>
<rect x="964.3" y="1098.1" width="15.5" height="15.2" fill="#3CB54A" stroke="#111" stroke-width="1" />
<text x="986.3" y="1114" font-size="22.4" text-anchor="start" fill="#333">AR expression</text>
<rect x="1149" y="1098.1" width="15.3" height="15.2" fill="#F27F82" stroke="#111" stroke-width="1" />
<text x="1171.7" y="1114" font-size="22.4" text-anchor="start" fill="#333">KLK3 expression</text>
<rect x="1354.6" y="1098.1" width="15.5" height="15.2" fill="#5B96D2" stroke="#111" stroke-width="1" />
<text x="1374.7" y="1114" font-size="22.4" text-anchor="start" fill="#333">TMPRSS2 expression</text>
<line x1="974.1" y1="1136.2" x2="974.1" y2="1542" stroke="#4a4a4a" stroke-width="1.1" stroke-dasharray="6 6.75"/>
<line x1="1101.3" y1="1136.2" x2="1101.3" y2="1542" stroke="#4a4a4a" stroke-width="1.1" stroke-dasharray="6 6.75"/>
<line x1="1239.4" y1="1136.2" x2="1239.4" y2="1542" stroke="#4a4a4a" stroke-width="1.1" stroke-dasharray="6 6.75"/>
<line x1="1452.5" y1="1136.2" x2="1452.5" y2="1542" stroke="#4a4a4a" stroke-width="1.1" stroke-dasharray="6 6.75"/>
<line x1="1580.1" y1="1136.2" x2="1580.1" y2="1542" stroke="#4a4a4a" stroke-width="1.1" stroke-dasharray="6 6.75"/>
<line x1="1717.4" y1="1136.2" x2="1717.4" y2="1542" stroke="#4a4a4a" stroke-width="1.1" stroke-dasharray="6 6.75"/>
<line x1="834" y1="1134.4" x2="834" y2="1543.6" stroke="#111" stroke-width="1.8" />
<line x1="823.9" y1="1542.7" x2="1242" y2="1542.7" stroke="#111" stroke-width="1.8" />
<line x1="823.9" y1="1135.3" x2="834" y2="1135.3" stroke="#111" stroke-width="1.8" />
<text x="818.8" y="1147.5" font-size="25" text-anchor="end" fill="#111">10</text>
<line x1="823.9" y1="1203.24" x2="834" y2="1203.24" stroke="#111" stroke-width="1.8" />
<text x="818.8" y="1215.44" font-size="25" text-anchor="end" fill="#111">1</text>
<line x1="823.9" y1="1271.18" x2="834" y2="1271.18" stroke="#111" stroke-width="1.8" />
<text x="818.8" y="1283.38" font-size="25" text-anchor="end" fill="#111">0.1</text>
<line x1="823.9" y1="1339.12" x2="834" y2="1339.12" stroke="#111" stroke-width="1.8" />
<text x="818.8" y="1351.32" font-size="25" text-anchor="end" fill="#111">0.01</text>
<line x1="823.9" y1="1407.06" x2="834" y2="1407.06" stroke="#111" stroke-width="1.8" />
<text x="818.8" y="1419.26" font-size="25" text-anchor="end" fill="#111">0.001</text>
<line x1="823.9" y1="1475" x2="834" y2="1475" stroke="#111" stroke-width="1.8" />
<text x="818.8" y="1487.2" font-size="25" text-anchor="end" fill="#111">0.0001</text>
<line x1="876" y1="1542.7" x2="876" y2="1552.1" stroke="#111" stroke-width="1.8" />
<line x1="940.3" y1="1542.7" x2="940.3" y2="1552.1" stroke="#111" stroke-width="1.8" />
<line x1="1004.5" y1="1542.7" x2="1004.5" y2="1552.1" stroke="#111" stroke-width="1.8" />
<line x1="1068.8" y1="1542.7" x2="1068.8" y2="1552.1" stroke="#111" stroke-width="1.8" />
<line x1="1132.8" y1="1542.7" x2="1132.8" y2="1552.1" stroke="#111" stroke-width="1.8" />
<line x1="1197.1" y1="1542.7" x2="1197.1" y2="1552.1" stroke="#111" stroke-width="1.8" />
<text x="753.5" y="1340.7" font-size="25.6" text-anchor="middle" fill="#111" transform="rotate(-90 753.5 1340.7)">Relative expression</text>
<line x1="876.65" y1="1278.8" x2="876.65" y2="1313.9" stroke="#111" stroke-width="1.6" />
<line x1="866.4" y1="1278.8" x2="886.9" y2="1278.8" stroke="#111" stroke-width="1.6" />
<line x1="866.4" y1="1313.9" x2="886.9" y2="1313.9" stroke="#111" stroke-width="1.6" />
<rect x="856" y="1282.8" width="41.3" height="25.4" fill="#3CB54A" stroke="#111" stroke-width="1.6" />
<line x1="856" y1="1295.3" x2="897.3" y2="1295.3" stroke="#111" stroke-width="1.6" />
<line x1="940.8" y1="1342.7" x2="940.8" y2="1478.7" stroke="#111" stroke-width="1.6" />
<line x1="930.55" y1="1342.7" x2="951.05" y2="1342.7" stroke="#111" stroke-width="1.6" />
<line x1="930.55" y1="1478.7" x2="951.05" y2="1478.7" stroke="#111" stroke-width="1.6" />
<rect x="920" y="1350.8" width="41.6" height="115.7" fill="#3CB54A" stroke="#111" stroke-width="1.6" />
<line x1="920" y1="1440.8" x2="961.6" y2="1440.8" stroke="#111" stroke-width="1.6" />
<line x1="1005.25" y1="1189.1" x2="1005.25" y2="1211.1" stroke="#111" stroke-width="1.6" />
<line x1="995" y1="1189.1" x2="1015.5" y2="1189.1" stroke="#111" stroke-width="1.6" />
<line x1="995" y1="1211.1" x2="1015.5" y2="1211.1" stroke="#111" stroke-width="1.6" />
<rect x="984.6" y="1192.1" width="41.3" height="15.9" fill="#F27F82" stroke="#111" stroke-width="1.6" />
<line x1="984.6" y1="1200.9" x2="1025.9" y2="1200.9" stroke="#111" stroke-width="1.6" />
<line x1="1069.15" y1="1187.1" x2="1069.15" y2="1220.6" stroke="#111" stroke-width="1.6" />
<line x1="1058.9" y1="1187.1" x2="1079.4" y2="1187.1" stroke="#111" stroke-width="1.6" />
<line x1="1058.9" y1="1220.6" x2="1079.4" y2="1220.6" stroke="#111" stroke-width="1.6" />
<rect x="1048.5" y="1190.1" width="41.3" height="29.1" fill="#F27F82" stroke="#111" stroke-width="1.6" />
<line x1="1048.5" y1="1206" x2="1089.8" y2="1206" stroke="#111" stroke-width="1.6" />
<line x1="1133.45" y1="1211.8" x2="1133.45" y2="1313.3" stroke="#111" stroke-width="1.6" />
<line x1="1123.2" y1="1211.8" x2="1143.7" y2="1211.8" stroke="#111" stroke-width="1.6" />
<line x1="1123.2" y1="1313.3" x2="1143.7" y2="1313.3" stroke="#111" stroke-width="1.6" />
<rect x="1112.8" y="1216.8" width="41.3" height="57.9" fill="#5B96D2" stroke="#111" stroke-width="1.6" />
<line x1="1112.8" y1="1238.2" x2="1154.1" y2="1238.2" stroke="#111" stroke-width="1.6" />
<line x1="1197.4" y1="1206.7" x2="1197.4" y2="1281.8" stroke="#111" stroke-width="1.6" />
<line x1="1187.15" y1="1206.7" x2="1207.65" y2="1206.7" stroke="#111" stroke-width="1.6" />
<line x1="1187.15" y1="1281.8" x2="1207.65" y2="1281.8" stroke="#111" stroke-width="1.6" />
<rect x="1176.8" y="1212.4" width="41.2" height="59.2" fill="#5B96D2" stroke="#111" stroke-width="1.6" />
<line x1="1176.8" y1="1245.3" x2="1218" y2="1245.3" stroke="#111" stroke-width="1.6" />
<polyline points="876.7,1256.8 876.7,1250.3 940.3,1250.3 940.3,1256.8" fill="none" stroke="#111" stroke-width="1.2" />
<text x="908.5" y="1241.5" font-size="18.3" text-anchor="middle" fill="#2a2a2a">p=0.029</text>
<polyline points="1006.2,1173.3 1006.2,1167.1 1069.2,1167.1 1069.2,1173.3" fill="none" stroke="#111" stroke-width="1.2" />
<text x="1038" y="1159.7" font-size="18.3" text-anchor="middle" fill="#2a2a2a">p=0.89</text>
<polyline points="1132.8,1193.8 1132.8,1187.4 1196,1187.4 1196,1193.8" fill="none" stroke="#111" stroke-width="1.2" />
<text x="1164.2" y="1180" font-size="18.3" text-anchor="middle" fill="#2a2a2a">p=0.99</text>
<text x="836.7" y="1586.6" font-size="23.6" text-anchor="end" fill="#111"><tspan font-style="italic">AR</tspan> status:</text>
<text x="832.7" y="1618.8" font-size="23.6" text-anchor="end" fill="#111">Cluster:</text>
<text x="876.7" y="1586.6" font-size="23.6" text-anchor="middle" fill="#111">Gain</text>
<text x="876.7" y="1618.8" font-size="23.6" text-anchor="middle" fill="#111">1&amp;3</text>
<text x="939.6" y="1586.6" font-size="23.6" text-anchor="middle" fill="#111">Wt</text>
<text x="939.6" y="1618.8" font-size="23.6" text-anchor="middle" fill="#111">2</text>
<text x="1006.6" y="1586.6" font-size="23.6" text-anchor="middle" fill="#111">Gain</text>
<text x="1006.6" y="1618.8" font-size="23.6" text-anchor="middle" fill="#111">1&amp;3</text>
<text x="1069.8" y="1586.6" font-size="23.6" text-anchor="middle" fill="#111">Wt</text>
<text x="1069.8" y="1618.8" font-size="23.6" text-anchor="middle" fill="#111">2</text>
<text x="1132.8" y="1586.6" font-size="23.6" text-anchor="middle" fill="#111">Gain</text>
<text x="1132.8" y="1618.8" font-size="23.6" text-anchor="middle" fill="#111">1&amp;3</text>
<text x="1196" y="1586.6" font-size="23.6" text-anchor="middle" fill="#111">Wt</text>
<text x="1196" y="1618.8" font-size="23.6" text-anchor="middle" fill="#111">2</text>
<line x1="844.2" y1="1633.3" x2="1214" y2="1633.3" stroke="#111" stroke-width="1.2" />
<text x="1038" y="1658.7" font-size="24.3" text-anchor="middle" fill="#111">CA63 metastases</text>
<line x1="1322.6" y1="1147.6" x2="1322.6" y2="1543.6" stroke="#111" stroke-width="1.8" />
<line x1="1313.8" y1="1542.7" x2="1717.4" y2="1542.7" stroke="#111" stroke-width="1.8" />
<line x1="1313.8" y1="1148.5" x2="1322.6" y2="1148.5" stroke="#111" stroke-width="1.8" />
<text x="1308.9" y="1160.7" font-size="25" text-anchor="end" fill="#111">100</text>
<line x1="1313.8" y1="1247.2" x2="1322.6" y2="1247.2" stroke="#111" stroke-width="1.8" />
<text x="1308.9" y="1259.4" font-size="25" text-anchor="end" fill="#111">10</text>
<line x1="1313.8" y1="1345.9" x2="1322.6" y2="1345.9" stroke="#111" stroke-width="1.8" />
<text x="1308.9" y="1358.1" font-size="25" text-anchor="end" fill="#111">1</text>
<line x1="1313.8" y1="1444.6" x2="1322.6" y2="1444.6" stroke="#111" stroke-width="1.8" />
<text x="1308.9" y="1456.8" font-size="25" text-anchor="end" fill="#111">0.1</text>
<line x1="1362.9" y1="1542.7" x2="1362.9" y2="1552.1" stroke="#111" stroke-width="1.8" />
<line x1="1425.5" y1="1542.7" x2="1425.5" y2="1552.1" stroke="#111" stroke-width="1.8" />
<line x1="1487.4" y1="1542.7" x2="1487.4" y2="1552.1" stroke="#111" stroke-width="1.8" />
<line x1="1549.6" y1="1542.7" x2="1549.6" y2="1552.1" stroke="#111" stroke-width="1.8" />
<line x1="1611.9" y1="1542.7" x2="1611.9" y2="1552.1" stroke="#111" stroke-width="1.8" />
<line x1="1674.1" y1="1542.7" x2="1674.1" y2="1552.1" stroke="#111" stroke-width="1.8" />
<line x1="1363.7" y1="1383.6" x2="1363.7" y2="1409.4" stroke="#333" stroke-width="1" />
<line x1="1353.55" y1="1383.6" x2="1373.85" y2="1383.6" stroke="#333" stroke-width="1" />
<line x1="1353.55" y1="1409.4" x2="1373.85" y2="1409.4" stroke="#333" stroke-width="1" />
<line x1="1343.6" y1="1399.2" x2="1383.8" y2="1399.2" stroke="#3B9B45" stroke-width="1.8" />
<line x1="1425.65" y1="1377.6" x2="1425.65" y2="1462.8" stroke="#111" stroke-width="1.4" />
<line x1="1415.5" y1="1377.6" x2="1435.8" y2="1377.6" stroke="#111" stroke-width="1.4" />
<line x1="1415.5" y1="1462.8" x2="1435.8" y2="1462.8" stroke="#111" stroke-width="1.4" />
<rect x="1405.5" y="1379.6" width="40.3" height="52.4" fill="#3CB54A" stroke="#111" stroke-width="1.4" />
<line x1="1405.5" y1="1387.4" x2="1445.8" y2="1387.4" stroke="#111" stroke-width="1.4" />
<line x1="1487.75" y1="1227.3" x2="1487.75" y2="1242.2" stroke="#333" stroke-width="1" />
<line x1="1477.6" y1="1227.3" x2="1497.9" y2="1227.3" stroke="#333" stroke-width="1" />
<line x1="1477.6" y1="1242.2" x2="1497.9" y2="1242.2" stroke="#333" stroke-width="1" />
<line x1="1467.8" y1="1237.1" x2="1507.7" y2="1237.1" stroke="#C0686C" stroke-width="1.8" />
<line x1="1550" y1="1251.7" x2="1550" y2="1327.8" stroke="#111" stroke-width="1.4" />
<line x1="1539.85" y1="1251.7" x2="1560.15" y2="1251.7" stroke="#111" stroke-width="1.4" />
<line x1="1539.85" y1="1327.8" x2="1560.15" y2="1327.8" stroke="#111" stroke-width="1.4" />
<rect x="1529.7" y="1254.7" width="40.6" height="50.1" fill="#F27F82" stroke="#111" stroke-width="1.4" />
<line x1="1529.7" y1="1266.6" x2="1570.3" y2="1266.6" stroke="#111" stroke-width="1.4" />
<line x1="1612.4" y1="1392.8" x2="1612.4" y2="1407" stroke="#333" stroke-width="1" />
<line x1="1602.25" y1="1392.8" x2="1622.55" y2="1392.8" stroke="#333" stroke-width="1" />
<line x1="1602.25" y1="1407" x2="1622.55" y2="1407" stroke="#333" stroke-width="1" />
<line x1="1592.3" y1="1401.6" x2="1632.5" y2="1401.6" stroke="#4C7DB8" stroke-width="1.8" />
<line x1="1674.5" y1="1352.2" x2="1674.5" y2="1403.6" stroke="#111" stroke-width="1.4" />
<line x1="1664.35" y1="1352.2" x2="1684.65" y2="1352.2" stroke="#111" stroke-width="1.4" />
<line x1="1664.35" y1="1403.6" x2="1684.65" y2="1403.6" stroke="#111" stroke-width="1.4" />
<rect x="1654.2" y="1352.9" width="40.6" height="33.8" fill="#5B96D2" stroke="#111" stroke-width="1.4" />
<line x1="1654.2" y1="1355.2" x2="1694.8" y2="1355.2" stroke="#111" stroke-width="1.4" />
<polyline points="1362.9,1366.6 1362.9,1359.6 1426.1,1359.6 1426.1,1366.6" fill="none" stroke="#111" stroke-width="1.2" />
<text x="1394.3" y="1351.8" font-size="18.3" text-anchor="middle" fill="#2a2a2a">p=0.62</text>
<polyline points="1485.7,1212.1 1485.7,1205.3 1548.6,1205.3 1548.6,1212.1" fill="none" stroke="#111" stroke-width="1.2" />
<text x="1516.5" y="1196.9" font-size="18.3" text-anchor="middle" fill="#2a2a2a">p=0.057</text>
<polyline points="1613.6,1334.6 1613.6,1327.8 1676.5,1327.8 1676.5,1334.6" fill="none" stroke="#111" stroke-width="1.2" />
<text x="1648.8" y="1318.7" font-size="18.3" text-anchor="middle" fill="#2a2a2a">p=0.22</text>
<text x="1363.9" y="1587.7" font-size="23.6" text-anchor="middle" fill="#111">Gain</text>
<text x="1363.9" y="1619.8" font-size="23.6" text-anchor="middle" fill="#111">1</text>
<text x="1427.1" y="1587.7" font-size="23.6" text-anchor="middle" fill="#111">Gain</text>
<text x="1427.1" y="1619.8" font-size="23.6" text-anchor="middle" fill="#111">2</text>
<text x="1487.4" y="1587.7" font-size="23.6" text-anchor="middle" fill="#111">Gain</text>
<text x="1487.4" y="1619.8" font-size="23.6" text-anchor="middle" fill="#111">1</text>
<text x="1550.6" y="1587.7" font-size="23.6" text-anchor="middle" fill="#111">Gain</text>
<text x="1550.6" y="1619.8" font-size="23.6" text-anchor="middle" fill="#111">2</text>
<text x="1609.2" y="1587.7" font-size="23.6" text-anchor="middle" fill="#111">Gain</text>
<text x="1609.2" y="1619.8" font-size="23.6" text-anchor="middle" fill="#111">1</text>
<text x="1672.4" y="1587.7" font-size="23.6" text-anchor="middle" fill="#111">Gain</text>
<text x="1672.4" y="1619.8" font-size="23.6" text-anchor="middle" fill="#111">2</text>
<line x1="1329" y1="1633.3" x2="1698.8" y2="1633.3" stroke="#111" stroke-width="1.2" />
<text x="1523.6" y="1657" font-size="24.3" text-anchor="middle" fill="#111">PEA172 metastases</text>
<text x="32.6" y="1732.6" font-size="25" text-anchor="start" fill="#111" font-weight="bold">e)</text>
<text x="67.2" y="1732.6" font-size="25" text-anchor="start" fill="#111">CA63</text>
<g transform="translate(0 0)">
<path d="M15.9 2139.7 C18.2 2129.08 26.78 2094.98 29.7 2076 C32.62 2057.02 31.73 2040.43 33.4 2025.8 C35.07 2011.17 36.15 1998.22 39.7 1988.2 C43.25 1978.18 46.77 1971.97 54.7 1965.7 C62.63 1959.43 75.6 1954.78 87.3 1950.6 C99 1946.42 115.78 1943.2 124.9 1940.6 C134.02 1938 137.27 1936.77 142 1935 C146.73 1933.23 150.33 1932 153.3 1930 C156.27 1928 158.27 1926.27 159.8 1923 C161.33 1919.73 162.18 1914.57 162.5 1910.4 C162.82 1906.23 162.3 1902.17 161.7 1898 C161.1 1893.83 160.13 1889.57 158.9 1885.4 C157.67 1881.23 155.87 1877.18 154.3 1873 C152.73 1868.82 150.92 1864.47 149.5 1860.3 C148.08 1856.13 147 1852.22 145.8 1848 C144.6 1843.78 143.22 1839.33 142.3 1835 C141.38 1830.67 140.8 1826.17 140.3 1822 C139.8 1817.83 139.4 1814 139.3 1810 C139.2 1806 139.25 1802.17 139.7 1798 C140.15 1793.83 141 1789.23 142 1785 C143 1780.77 143.72 1776.77 145.7 1772.6 C147.68 1768.43 150.63 1763.13 153.9 1760 C157.17 1756.87 161.73 1755.53 165.3 1753.8 C168.87 1752.07 171.63 1750.7 175.3 1749.6 C178.97 1748.5 183.13 1747.73 187.3 1747.2 C191.47 1746.67 195.97 1746.4 200.3 1746.4 C204.63 1746.4 209.13 1746.67 213.3 1747.2 C217.47 1747.73 221.63 1748.5 225.3 1749.6 C228.97 1750.7 231.73 1752.07 235.3 1753.8 C238.87 1755.53 243.43 1756.87 246.7 1760 C249.97 1763.13 252.92 1768.43 254.9 1772.6 C256.88 1776.77 257.6 1780.77 258.6 1785 C259.6 1789.23 260.45 1793.83 260.9 1798 C261.35 1802.17 261.4 1806 261.3 1810 C261.2 1814 260.8 1817.83 260.3 1822 C259.8 1826.17 259.22 1830.67 258.3 1835 C257.38 1839.33 256 1843.78 254.8 1848 C253.6 1852.22 252.52 1856.13 251.1 1860.3 C249.68 1864.47 247.87 1868.82 246.3 1873 C244.73 1877.18 242.93 1881.23 241.7 1885.4 C240.47 1889.57 239.5 1893.83 238.9 1898 C238.3 1902.17 237.78 1906.23 238.1 1910.4 C238.42 1914.57 239.27 1919.73 240.8 1923 C242.33 1926.27 244.33 1928 247.3 1930 C250.27 1932 253.87 1933.23 258.6 1935 C263.33 1936.77 266.58 1938 275.7 1940.6 C284.82 1943.2 301.6 1946.42 313.3 1950.6 C325 1954.78 337.97 1959.43 345.9 1965.7 C353.83 1971.97 357.35 1978.18 360.9 1988.2 C364.45 1998.22 365.53 2011.17 367.2 2025.8 C368.87 2040.43 367.98 2057.02 370.9 2076 C373.82 2094.98 382.4 2129.08 384.7 2139.7 L333.3 2167.8 L311.5 2117.6 C310.75 2120.53 309.42 2123.92 307 2135.2 C304.58 2146.48 299.35 2168.6 297 2185.3 C294.65 2202 292.85 2223.28 292.9 2235.4 C292.95 2247.52 295.47 2251.73 297.3 2258 C299.13 2264.27 300.65 2262.83 303.9 2273 C307.15 2283.17 313.9 2303.33 316.8 2319 C319.7 2334.67 320.42 2351.83 321.3 2367 C322.18 2382.17 322.05 2393.92 322.1 2410 C322.15 2426.08 321.68 2454.58 321.6 2463.5 L205 2463.5 L203 2410.9 L197.5 2410.9 L195.5 2463.5 L79 2463.5 C78.92 2454.58 78.45 2426.08 78.5 2410 C78.55 2393.92 78.42 2382.17 79.3 2367 C80.18 2351.83 80.9 2334.67 83.8 2319 C86.7 2303.33 93.45 2283.17 96.7 2273 C99.95 2262.83 101.47 2264.27 103.3 2258 C105.13 2251.73 107.65 2247.52 107.7 2235.4 C107.75 2223.28 105.95 2202 103.6 2185.3 C101.25 2168.6 96.02 2146.48 93.6 2135.2 C91.18 2123.92 89.85 2120.53 89.1 2117.6 L62.7 2166.5 Z" fill="#D9DADC" stroke="#8E9092" stroke-width="1.5" stroke-linejoin="round"/>
<clipPath id="bc1"><path d="M15.9 2139.7 C18.2 2129.08 26.78 2094.98 29.7 2076 C32.62 2057.02 31.73 2040.43 33.4 2025.8 C35.07 2011.17 36.15 1998.22 39.7 1988.2 C43.25 1978.18 46.77 1971.97 54.7 1965.7 C62.63 1959.43 75.6 1954.78 87.3 1950.6 C99 1946.42 115.78 1943.2 124.9 1940.6 C134.02 1938 137.27 1936.77 142 1935 C146.73 1933.23 150.33 1932 153.3 1930 C156.27 1928 158.27 1926.27 159.8 1923 C161.33 1919.73 162.18 1914.57 162.5 1910.4 C162.82 1906.23 162.3 1902.17 161.7 1898 C161.1 1893.83 160.13 1889.57 158.9 1885.4 C157.67 1881.23 155.87 1877.18 154.3 1873 C152.73 1868.82 150.92 1864.47 149.5 1860.3 C148.08 1856.13 147 1852.22 145.8 1848 C144.6 1843.78 143.22 1839.33 142.3 1835 C141.38 1830.67 140.8 1826.17 140.3 1822 C139.8 1817.83 139.4 1814 139.3 1810 C139.2 1806 139.25 1802.17 139.7 1798 C140.15 1793.83 141 1789.23 142 1785 C143 1780.77 143.72 1776.77 145.7 1772.6 C147.68 1768.43 150.63 1763.13 153.9 1760 C157.17 1756.87 161.73 1755.53 165.3 1753.8 C168.87 1752.07 171.63 1750.7 175.3 1749.6 C178.97 1748.5 183.13 1747.73 187.3 1747.2 C191.47 1746.67 195.97 1746.4 200.3 1746.4 C204.63 1746.4 209.13 1746.67 213.3 1747.2 C217.47 1747.73 221.63 1748.5 225.3 1749.6 C228.97 1750.7 231.73 1752.07 235.3 1753.8 C238.87 1755.53 243.43 1756.87 246.7 1760 C249.97 1763.13 252.92 1768.43 254.9 1772.6 C256.88 1776.77 257.6 1780.77 258.6 1785 C259.6 1789.23 260.45 1793.83 260.9 1798 C261.35 1802.17 261.4 1806 261.3 1810 C261.2 1814 260.8 1817.83 260.3 1822 C259.8 1826.17 259.22 1830.67 258.3 1835 C257.38 1839.33 256 1843.78 254.8 1848 C253.6 1852.22 252.52 1856.13 251.1 1860.3 C249.68 1864.47 247.87 1868.82 246.3 1873 C244.73 1877.18 242.93 1881.23 241.7 1885.4 C240.47 1889.57 239.5 1893.83 238.9 1898 C238.3 1902.17 237.78 1906.23 238.1 1910.4 C238.42 1914.57 239.27 1919.73 240.8 1923 C242.33 1926.27 244.33 1928 247.3 1930 C250.27 1932 253.87 1933.23 258.6 1935 C263.33 1936.77 266.58 1938 275.7 1940.6 C284.82 1943.2 301.6 1946.42 313.3 1950.6 C325 1954.78 337.97 1959.43 345.9 1965.7 C353.83 1971.97 357.35 1978.18 360.9 1988.2 C364.45 1998.22 365.53 2011.17 367.2 2025.8 C368.87 2040.43 367.98 2057.02 370.9 2076 C373.82 2094.98 382.4 2129.08 384.7 2139.7 L333.3 2167.8 L311.5 2117.6 C310.75 2120.53 309.42 2123.92 307 2135.2 C304.58 2146.48 299.35 2168.6 297 2185.3 C294.65 2202 292.85 2223.28 292.9 2235.4 C292.95 2247.52 295.47 2251.73 297.3 2258 C299.13 2264.27 300.65 2262.83 303.9 2273 C307.15 2283.17 313.9 2303.33 316.8 2319 C319.7 2334.67 320.42 2351.83 321.3 2367 C322.18 2382.17 322.05 2393.92 322.1 2410 C322.15 2426.08 321.68 2454.58 321.6 2463.5 L205 2463.5 L203 2410.9 L197.5 2410.9 L195.5 2463.5 L79 2463.5 C78.92 2454.58 78.45 2426.08 78.5 2410 C78.55 2393.92 78.42 2382.17 79.3 2367 C80.18 2351.83 80.9 2334.67 83.8 2319 C86.7 2303.33 93.45 2283.17 96.7 2273 C99.95 2262.83 101.47 2264.27 103.3 2258 C105.13 2251.73 107.65 2247.52 107.7 2235.4 C107.75 2223.28 105.95 2202 103.6 2185.3 C101.25 2168.6 96.02 2146.48 93.6 2135.2 C91.18 2123.92 89.85 2120.53 89.1 2117.6 L62.7 2166.5 Z"/></clipPath>
<g clip-path="url(#bc1)">
<path d="M162.9 1885.5 Q200.5 1925 238 1885.5" fill="none" stroke="#B7B8BA" stroke-width="0.9" />
<path d="M178 1912 Q186 1940 192 1962 M223 1912 Q215 1940 209 1962" fill="none" stroke="#B7B8BA" stroke-width="0.8" />
<path d="M123 1955 Q150 1950 176 1962 M277.5 1955 Q250 1950 225 1962" fill="none" stroke="#B7B8BA" stroke-width="0.8" />
<path d="M202.78 1752.54 C203.95 1750.86 206.87 1751.45 208.92 1751.23 C210.97 1751.01 213.16 1750.94 215.06 1751.23 C216.96 1751.52 218.57 1752.54 220.32 1752.98 C222.08 1753.42 223.83 1753.27 225.59 1753.86 C227.34 1754.44 229.09 1755.69 230.85 1756.49 C232.6 1757.3 234.43 1757.59 236.11 1758.68 C237.79 1759.78 239.47 1761.61 240.94 1763.07 C242.4 1764.53 243.71 1765.7 244.88 1767.46 C246.05 1769.21 247.15 1771.4 247.95 1773.6 C248.76 1775.79 249.27 1778.13 249.71 1780.61 C250.15 1783.1 250.44 1785.88 250.59 1788.51 C250.73 1791.14 250.73 1794.06 250.59 1796.4 C250.44 1798.74 250.07 1800.64 249.71 1802.54 C249.34 1804.44 249.2 1806.2 248.39 1807.81 C247.59 1809.42 246.05 1811.02 244.88 1812.19 C243.71 1813.36 242.84 1813.87 241.38 1814.82 C239.91 1815.77 238.01 1816.94 236.11 1817.89 C234.21 1818.85 231.87 1819.8 229.97 1820.53 C228.07 1821.26 226.46 1821.92 224.71 1822.28 C222.95 1822.65 221.05 1822.87 219.45 1822.72 C217.84 1822.57 216.23 1821.99 215.06 1821.4 C213.89 1820.82 213.16 1820.16 212.43 1819.21 C211.7 1818.26 211.04 1817.02 210.67 1815.7 C210.31 1814.39 210.24 1813.22 210.24 1811.32 C210.24 1809.42 211.11 1805.39 210.67 1804.3 C210.24 1803.2 208.63 1804.74 207.6 1804.74 C206.58 1804.74 205.41 1804.66 204.53 1804.3 C203.66 1803.93 202.78 1803.13 202.34 1802.54 C201.9 1801.96 202.05 1804.74 201.9 1800.79 C201.76 1796.84 201.46 1785.44 201.46 1778.86 C201.46 1772.28 201.68 1765.7 201.9 1761.32 C202.12 1756.93 201.61 1754.23 202.78 1752.54 Z" fill="#CECFD2" stroke="#B9BABD" stroke-width="0.8" />
<path d="M244.88 1784.12 C243.42 1785.88 239.91 1791.73 236.11 1794.65 C232.31 1797.57 226.46 1799.91 222.08 1801.67 C217.69 1803.42 211.84 1804.59 209.8 1805.18" fill="none" stroke="#B7B8BB" stroke-width="0.75" />
<path d="M222.08 1758.68 C223.39 1760.15 228.22 1764.39 229.97 1767.46 C231.73 1770.53 232.31 1774.33 232.6 1777.11 C232.9 1779.88 231.43 1781.78 231.73 1784.12 C232.02 1786.46 233.92 1789.97 234.36 1791.14" fill="none" stroke="#B7B8BB" stroke-width="0.75" />
<path d="M214.18 1759.56 C213.89 1760.58 212.43 1763.65 212.43 1765.7 C212.43 1767.75 214.33 1769.36 214.18 1771.84 C214.04 1774.33 212.28 1777.98 211.55 1780.61 C210.82 1783.25 209.5 1785.29 209.8 1787.63 C210.09 1789.97 212.72 1793.48 213.31 1794.65" fill="none" stroke="#B7B8BB" stroke-width="0.75" />
<path d="M223.83 1772.72 C223.54 1774.18 222.95 1778.86 222.08 1781.49 C221.2 1784.12 219.15 1786.17 218.57 1788.51 C217.98 1790.85 218.57 1794.36 218.57 1795.53" fill="none" stroke="#B7B8BB" stroke-width="0.75" />
<path d="M209.8 1786.75 C209.36 1787.19 208.33 1789.24 207.16 1789.39 C206 1789.53 203.51 1787.92 202.78 1787.63" fill="none" stroke="#B7B8BB" stroke-width="0.75" />
<path d="M206.29 1770.09 C206 1769.5 205.26 1767.31 204.53 1766.58 C203.8 1765.85 202.34 1765.85 201.9 1765.7" fill="none" stroke="#B7B8BB" stroke-width="0.75" />
<path d="M207.16 1777.98 C206.29 1778.13 202.78 1778.71 201.9 1778.86" fill="none" stroke="#B7B8BB" stroke-width="0.75" />
<path d="M241.38 1798.16 C240.5 1799.18 238.16 1802.69 236.11 1804.3 C234.07 1805.91 231.43 1806.49 229.09 1807.81 C226.76 1809.12 223.25 1811.46 222.08 1812.19" fill="none" stroke="#B7B8BB" stroke-width="0.75" />
<path d="M243.13 1805.18 C242.25 1806.2 239.91 1809.71 237.87 1811.32 C235.82 1812.92 232.02 1814.24 230.85 1814.82" fill="none" stroke="#B7B8BB" stroke-width="0.75" />
<path d="M212.43 1798.16 C211.7 1798.74 209.07 1801.37 208.04 1801.67 C207.02 1801.96 206.58 1800.2 206.29 1799.91" fill="none" stroke="#B7B8BB" stroke-width="0.75" />
<path d="M246.64 1780.61 C246.2 1781.2 244.15 1782.37 244.01 1784.12 C243.86 1785.88 245.47 1789.97 245.76 1791.14" fill="none" stroke="#B7B8BB" stroke-width="0.75" />
<path d="M227.34 1816.58 C226.76 1816.43 225 1815.56 223.83 1815.7 C222.66 1815.85 220.91 1817.16 220.32 1817.46" fill="none" stroke="#B7B8BB" stroke-width="0.75" />
<path d="M238.74 1763.95 C238.96 1765.41 240.21 1769.94 240.06 1772.72 C239.91 1775.5 238.23 1779.3 237.87 1780.61" fill="none" stroke="#B7B8BB" stroke-width="0.75" />
<path d="M229.09 1784.12 C229.24 1784.71 229.83 1787.05 229.97 1787.63" fill="none" stroke="#B7B8BB" stroke-width="0.75" />
<path d="M210.67 1755.18 C209.94 1755.39 207.53 1756.35 206.29 1756.49 C205.05 1756.64 203.73 1756.13 203.22 1756.05" fill="none" stroke="#B7B8BB" stroke-width="0.75" />
<path d="M198.42 1752.54 C197.25 1750.86 194.33 1751.45 192.28 1751.23 C190.23 1751.01 188.04 1750.94 186.14 1751.23 C184.24 1751.52 182.63 1752.54 180.88 1752.98 C179.12 1753.42 177.37 1753.27 175.61 1753.86 C173.86 1754.44 172.11 1755.69 170.35 1756.49 C168.6 1757.3 166.77 1757.59 165.09 1758.68 C163.41 1759.78 161.73 1761.61 160.26 1763.07 C158.8 1764.53 157.49 1765.7 156.32 1767.46 C155.15 1769.21 154.05 1771.4 153.25 1773.6 C152.44 1775.79 151.93 1778.13 151.49 1780.61 C151.05 1783.1 150.76 1785.88 150.61 1788.51 C150.47 1791.14 150.47 1794.06 150.61 1796.4 C150.76 1798.74 151.13 1800.64 151.49 1802.54 C151.86 1804.44 152 1806.2 152.81 1807.81 C153.61 1809.42 155.15 1811.02 156.32 1812.19 C157.49 1813.36 158.36 1813.87 159.82 1814.82 C161.29 1815.77 163.19 1816.94 165.09 1817.89 C166.99 1818.85 169.33 1819.8 171.23 1820.53 C173.13 1821.26 174.74 1821.92 176.49 1822.28 C178.25 1822.65 180.15 1822.87 181.75 1822.72 C183.36 1822.57 184.97 1821.99 186.14 1821.4 C187.31 1820.82 188.04 1820.16 188.77 1819.21 C189.5 1818.26 190.16 1817.02 190.53 1815.7 C190.89 1814.39 190.96 1813.22 190.96 1811.32 C190.96 1809.42 190.09 1805.39 190.53 1804.3 C190.96 1803.2 192.57 1804.74 193.6 1804.74 C194.62 1804.74 195.79 1804.66 196.67 1804.3 C197.54 1803.93 198.42 1803.13 198.86 1802.54 C199.3 1801.96 199.15 1804.74 199.3 1800.79 C199.44 1796.84 199.74 1785.44 199.74 1778.86 C199.74 1772.28 199.52 1765.7 199.3 1761.32 C199.08 1756.93 199.59 1754.23 198.42 1752.54 Z" fill="#CECFD2" stroke="#B9BABD" stroke-width="0.8" />
<path d="M156.32 1784.12 C157.78 1785.88 161.29 1791.73 165.09 1794.65 C168.89 1797.57 174.74 1799.91 179.12 1801.67 C183.51 1803.42 189.36 1804.59 191.4 1805.18" fill="none" stroke="#B7B8BB" stroke-width="0.75" />
<path d="M179.12 1758.68 C177.81 1760.15 172.98 1764.39 171.23 1767.46 C169.47 1770.53 168.89 1774.33 168.6 1777.11 C168.3 1779.88 169.77 1781.78 169.47 1784.12 C169.18 1786.46 167.28 1789.97 166.84 1791.14" fill="none" stroke="#B7B8BB" stroke-width="0.75" />
<path d="M187.02 1759.56 C187.31 1760.58 188.77 1763.65 188.77 1765.7 C188.77 1767.75 186.87 1769.36 187.02 1771.84 C187.16 1774.33 188.92 1777.98 189.65 1780.61 C190.38 1783.25 191.7 1785.29 191.4 1787.63 C191.11 1789.97 188.48 1793.48 187.89 1794.65" fill="none" stroke="#B7B8BB" stroke-width="0.75" />
<path d="M177.37 1772.72 C177.66 1774.18 178.25 1778.86 179.12 1781.49 C180 1784.12 182.05 1786.17 182.63 1788.51 C183.22 1790.85 182.63 1794.36 182.63 1795.53" fill="none" stroke="#B7B8BB" stroke-width="0.75" />
<path d="M191.4 1786.75 C191.84 1787.19 192.87 1789.24 194.04 1789.39 C195.2 1789.53 197.69 1787.92 198.42 1787.63" fill="none" stroke="#B7B8BB" stroke-width="0.75" />
<path d="M194.91 1770.09 C195.2 1769.5 195.94 1767.31 196.67 1766.58 C197.4 1765.85 198.86 1765.85 199.3 1765.7" fill="none" stroke="#B7B8BB" stroke-width="0.75" />
<path d="M194.04 1777.98 C194.91 1778.13 198.42 1778.71 199.3 1778.86" fill="none" stroke="#B7B8BB" stroke-width="0.75" />
<path d="M159.82 1798.16 C160.7 1799.18 163.04 1802.69 165.09 1804.3 C167.13 1805.91 169.77 1806.49 172.11 1807.81 C174.44 1809.12 177.95 1811.46 179.12 1812.19" fill="none" stroke="#B7B8BB" stroke-width="0.75" />
<path d="M158.07 1805.18 C158.95 1806.2 161.29 1809.71 163.33 1811.32 C165.38 1812.92 169.18 1814.24 170.35 1814.82" fill="none" stroke="#B7B8BB" stroke-width="0.75" />
<path d="M188.77 1798.16 C189.5 1798.74 192.13 1801.37 193.16 1801.67 C194.18 1801.96 194.62 1800.2 194.91 1799.91" fill="none" stroke="#B7B8BB" stroke-width="0.75" />
<path d="M154.56 1780.61 C155 1781.2 157.05 1782.37 157.19 1784.12 C157.34 1785.88 155.73 1789.97 155.44 1791.14" fill="none" stroke="#B7B8BB" stroke-width="0.75" />
<path d="M173.86 1816.58 C174.44 1816.43 176.2 1815.56 177.37 1815.7 C178.54 1815.85 180.29 1817.16 180.88 1817.46" fill="none" stroke="#B7B8BB" stroke-width="0.75" />
<path d="M162.46 1763.95 C162.24 1765.41 160.99 1769.94 161.14 1772.72 C161.29 1775.5 162.97 1779.3 163.33 1780.61" fill="none" stroke="#B7B8BB" stroke-width="0.75" />
<path d="M172.11 1784.12 C171.96 1784.71 171.37 1787.05 171.23 1787.63" fill="none" stroke="#B7B8BB" stroke-width="0.75" />
<path d="M190.53 1755.18 C191.26 1755.39 193.67 1756.35 194.91 1756.49 C196.15 1756.64 197.47 1756.13 197.98 1756.05" fill="none" stroke="#B7B8BB" stroke-width="0.75" />
<path d="M174.2 1982.6 C169.45 1983.85 160.47 1992.1 154.7 1997.6 C148.93 2003.1 144.37 2008.83 139.6 2015.6 C134.83 2022.37 130.1 2029.92 126.1 2038.2 C122.1 2046.48 118.37 2056.28 115.6 2065.3 C112.83 2074.32 110.77 2083.53 109.5 2092.3 C108.23 2101.07 108.17 2108.28 108 2117.9 C107.83 2127.52 102.98 2146.23 108.5 2150 C114.02 2153.77 131.15 2144.35 141.1 2140.5 C151.05 2136.65 160.68 2131.17 168.2 2126.9 C175.72 2122.63 182.43 2118.65 186.2 2114.9 C189.97 2111.15 189.53 2108.17 190.8 2104.4 C192.07 2100.63 192.8 2098.32 193.8 2092.3 C194.8 2086.28 196.55 2077.32 196.8 2068.3 C197.05 2059.28 196.57 2047.98 195.3 2038.2 C194.03 2028.42 191.22 2017.62 189.2 2009.6 C187.18 2001.58 185.7 1994.6 183.2 1990.1 C180.7 1985.6 178.95 1981.35 174.2 1982.6 Z" fill="#C9CACC" stroke="#A4A5A7" stroke-width="0.8" />
<path d="M223.8 1982.6 C220.28 1984.1 215.68 1988.33 213.3 1994.6 C210.92 2000.87 210.38 2011.93 209.5 2020.2 C208.62 2028.47 207.87 2036.68 208 2044.2 C208.13 2051.72 209.67 2056.78 210.3 2065.3 C210.93 2073.82 211.42 2085.28 211.8 2095.3 C212.18 2105.32 212.1 2117.12 212.6 2125.4 C213.1 2133.68 210.17 2140.48 214.8 2145 C219.43 2149.52 231.12 2151 240.4 2152.5 C249.68 2154 261.98 2153.75 270.5 2154 C279.02 2154.25 287 2157.52 291.5 2154 C296 2150.48 296.75 2141.42 297.5 2132.9 C298.25 2124.38 297.25 2112.67 296 2102.9 C294.75 2093.13 292.75 2084.08 290 2074.3 C287.25 2064.52 283.52 2053.22 279.5 2044.2 C275.48 2035.18 270.92 2027.72 265.9 2020.2 C260.88 2012.68 254.65 2004.87 249.4 1999.1 C244.15 1993.33 238.67 1988.35 234.4 1985.6 C230.13 1982.85 227.32 1981.1 223.8 1982.6 Z" fill="#C9CACC" stroke="#A4A5A7" stroke-width="0.8" />
<path d="M110 2082 C113 2083.67 121.33 2089.67 128 2092 C134.67 2094.33 142.67 2095.67 150 2096 C157.33 2096.33 165.33 2095.67 172 2094 C178.67 2092.33 187 2087.33 190 2086" fill="none" stroke="#B0B1B3" stroke-width="0.7" />
<path d="M112 2085 C113.67 2090 117.67 2105.5 122 2115 C126.33 2124.5 135.33 2137.5 138 2142" fill="none" stroke="#B4B5B7" stroke-width="0.6" />
<path d="M215 2145 C218.83 2142.83 230.17 2133.83 238 2132 C245.83 2130.17 253.33 2131.67 262 2134 C270.67 2136.33 285.33 2144 290 2146" fill="none" stroke="#B0B1B3" stroke-width="0.7" />
<path d="M240 2095 C240.67 2100 240.33 2117.5 244 2125 C247.67 2132.5 256 2138.5 262 2140 C268 2141.5 275.67 2139 280 2134 C284.33 2129 286.67 2114 288 2110" fill="none" stroke="#B4B5B7" stroke-width="0.6" />
<path d="M194.2 1945 L206.3 1945 L207.5 2046 L203 2052 L197 2052 L193 2046 Z" fill="#C3C4C6" stroke="none" stroke-width="0" />
<line x1="193.6" y1="1950" x2="207.2" y2="1950" stroke="#D3D4D6" stroke-width="1.6" />
<line x1="193.6" y1="1958" x2="207.2" y2="1958" stroke="#D3D4D6" stroke-width="1.6" />
<line x1="193.6" y1="1966" x2="207.2" y2="1966" stroke="#D3D4D6" stroke-width="1.6" />
<line x1="193.6" y1="1974" x2="207.2" y2="1974" stroke="#D3D4D6" stroke-width="1.6" />
<line x1="193.6" y1="1982" x2="207.2" y2="1982" stroke="#D3D4D6" stroke-width="1.6" />
<line x1="193.6" y1="1990" x2="207.2" y2="1990" stroke="#D3D4D6" stroke-width="1.6" />
<line x1="193.6" y1="1998" x2="207.2" y2="1998" stroke="#D3D4D6" stroke-width="1.6" />
<line x1="193.6" y1="2006" x2="207.2" y2="2006" stroke="#D3D4D6" stroke-width="1.6" />
<line x1="193.6" y1="2014" x2="207.2" y2="2014" stroke="#D3D4D6" stroke-width="1.6" />
<line x1="193.6" y1="2022" x2="207.2" y2="2022" stroke="#D3D4D6" stroke-width="1.6" />
<line x1="193.6" y1="2030" x2="207.2" y2="2030" stroke="#D3D4D6" stroke-width="1.6" />
<line x1="193.6" y1="2038" x2="207.2" y2="2038" stroke="#D3D4D6" stroke-width="1.6" />
<path d="M188 1926 Q190 1918 196 1921 Q200.3 1925 204.5 1921 Q210.5 1918 212.5 1926 Q212 1940 206 1948 L194.5 1948 Q188.5 1940 188 1926 Z" fill="#C3C4C6" stroke="none" stroke-width="0" />
<path d="M216.79 2135.19 C220.55 2129.76 231.62 2128.09 240.6 2127.67 C249.58 2127.25 261.9 2130.18 270.68 2132.68 C279.45 2135.19 289.14 2138.11 293.23 2142.71 C297.33 2147.3 299 2157.33 295.24 2160.25 C291.48 2163.17 279.78 2160.67 270.68 2160.25 C261.57 2159.83 249.37 2157.74 240.6 2157.74 C231.83 2157.74 222.01 2164.01 218.05 2160.25 C214.08 2156.49 213.03 2140.62 216.79 2135.19 Z" fill="#CDCED0" stroke="#B4B5B7" stroke-width="0.7" />
<path d="M226 2168 C230.17 2165.33 239.67 2163 245 2164 C250.33 2165 255.42 2169.33 258 2174 C260.58 2178.67 261.17 2186.33 260.5 2192 C259.83 2197.67 257.42 2204.33 254 2208 C250.58 2211.67 244.67 2213.67 240 2214 C235.33 2214.33 229.33 2212.67 226 2210 C222.67 2207.33 220.17 2201.33 220 2198 C219.83 2194.67 225 2193 225 2190 C225 2187 219.83 2183.67 220 2180 C220.17 2176.33 221.83 2170.67 226 2168 Z" fill="url(#kid)" stroke="none" stroke-width="0" filter="url(#soft)"/>
<path d="M112.6 2146 C116.43 2138.92 124.6 2143.17 135 2142.5 C145.4 2141.83 162.17 2141.92 175 2142 C187.83 2142.08 205.5 2140 212 2143 C218.5 2146 216.67 2153.83 214 2160 C211.33 2166.17 200.67 2173.33 196 2180 C191.33 2186.67 189.33 2194.83 186 2200 C182.67 2205.17 180.33 2208.83 176 2211 C171.67 2213.17 164.83 2214.17 160 2213 C155.17 2211.83 150.67 2203.83 147 2204 C143.33 2204.17 141.83 2211.67 138 2214 C134.17 2216.33 128 2218.33 124 2218 C120 2217.67 116 2217.5 114 2212 C112 2206.5 112.23 2196 112 2185 C111.77 2174 108.77 2153.08 112.6 2146 Z" fill="url(#liv)" stroke="none" stroke-width="0" filter="url(#soft)"/>
<ellipse cx="158" cy="2186" rx="19" ry="27" fill="url(#livd)"/>
<ellipse cx="130" cy="2188" rx="12" ry="28" fill="url(#livl)"/>
<path d="M165.41 2135.69 L180.95 2135.69 L174.94 2147.72 L172.43 2147.72 Z" fill="#B9BABC" stroke="#8f9092" stroke-width="0.6" />
<line x1="173.68" y1="2145.21" x2="175.44" y2="2180.3" stroke="#8f9092" stroke-width="1.2" />
<path d="M192.98 2174.04 Q203.01 2179.04 213.03 2174.04" fill="none" stroke="#C6C7C9" stroke-width="0.8" />
<path d="M192.98 2190.33 Q203.01 2195.33 213.03 2190.33" fill="none" stroke="#C6C7C9" stroke-width="0.8" />
<path d="M192.98 2210.38 Q203.01 2215.38 213.03 2210.38" fill="none" stroke="#C6C7C9" stroke-width="0.8" />
<path d="M192.98 2232.93 Q203.01 2237.93 213.03 2232.93" fill="none" stroke="#C6C7C9" stroke-width="0.8" />
<path d="M192.98 2255.49 Q203.01 2260.49 213.03 2255.49" fill="none" stroke="#C6C7C9" stroke-width="0.8" />
<path d="M192.98 2278.05 Q203.01 2283.05 213.03 2278.05" fill="none" stroke="#C6C7C9" stroke-width="0.8" />
<path d="M192.98 2300.6 Q203.01 2305.6 213.03 2300.6" fill="none" stroke="#C6C7C9" stroke-width="0.8" />
<path d="M192.98 2320.65 Q203.01 2325.65 213.03 2320.65" fill="none" stroke="#C6C7C9" stroke-width="0.8" />
<path d="M186.72 2235.44 C186.3 2241.7 185.46 2260.5 184.21 2273.03 C182.96 2285.56 180.45 2299.77 179.2 2310.63 C177.94 2321.49 177.11 2333.6 176.69 2338.2" fill="none" stroke="#BDBEC0" stroke-width="0.8" />
<path d="M213.03 2235.44 C213.53 2241.7 214.79 2260.5 216.04 2273.03 C217.29 2285.56 219.38 2299.77 220.55 2310.63 C221.72 2321.49 222.64 2333.6 223.06 2338.2" fill="none" stroke="#BDBEC0" stroke-width="0.8" />
<path d="M112.78 2310.63 C114.87 2302.48 119.47 2295.8 125.31 2291.83 C131.16 2287.86 141.6 2285.36 147.87 2286.82 C154.14 2288.28 158.73 2294.13 162.91 2300.6 C167.08 2307.08 170.84 2318.56 172.93 2325.66 C175.02 2332.77 177.53 2339.45 175.44 2343.21 C173.35 2346.97 165 2349.47 160.4 2348.22 C155.81 2346.97 151.21 2334.85 147.87 2335.69 C144.53 2336.52 139.93 2346.97 140.35 2353.23 C140.77 2359.5 150.38 2367.85 150.38 2373.28 C150.38 2378.71 144.53 2386.65 140.35 2385.81 C136.17 2384.98 129.91 2375.79 125.31 2368.27 C120.72 2360.75 114.87 2350.31 112.78 2340.7 C110.69 2331.09 110.69 2318.77 112.78 2310.63 Z" fill="#E2E3E5" stroke="#C2C3C5" stroke-width="0.8" />
<path d="M105.26 2373.28 C107.35 2372.45 112.78 2367.85 117.79 2368.27 C122.81 2368.69 129.91 2372.87 135.34 2375.79 C140.77 2378.71 148.71 2382.06 150.38 2385.81 C152.05 2389.57 148.71 2395.42 145.36 2398.35 C142.02 2401.27 133.67 2399.18 130.33 2403.36 C126.98 2407.54 125.31 2413.38 125.31 2423.41 C125.31 2433.43 132.83 2456.83 130.33 2463.51 C127.82 2470.19 114.04 2470.19 110.28 2463.51 C106.52 2456.83 109.44 2434.69 107.77 2423.41 C106.1 2412.13 101.5 2400.43 100.25 2395.84" fill="none" stroke="#C2C3C5" stroke-width="0.8" />
<path d="M165.41 2388.32 C167.92 2385.4 175.65 2384.56 180.45 2385.81 C185.25 2387.07 192.56 2392.08 194.24 2395.84 C195.91 2399.6 193.61 2405.86 190.48 2408.37 C187.34 2410.88 179.62 2411.71 175.44 2410.88 C171.26 2410.04 167.08 2407.12 165.41 2403.36 C163.74 2399.6 162.91 2391.24 165.41 2388.32 Z" fill="none" stroke="#C2C3C5" stroke-width="0.8" />
<path d="M287.82 2310.63 C285.73 2302.48 281.13 2295.8 275.29 2291.83 C269.44 2287.86 259 2285.36 252.73 2286.82 C246.46 2288.28 241.87 2294.13 237.69 2300.6 C233.52 2307.08 229.76 2318.56 227.67 2325.66 C225.58 2332.77 223.07 2339.45 225.16 2343.21 C227.25 2346.97 235.6 2349.47 240.2 2348.22 C244.79 2346.97 249.39 2334.85 252.73 2335.69 C256.07 2336.52 260.67 2346.97 260.25 2353.23 C259.83 2359.5 250.22 2367.85 250.22 2373.28 C250.22 2378.71 256.07 2386.65 260.25 2385.81 C264.43 2384.98 270.69 2375.79 275.29 2368.27 C279.88 2360.75 285.73 2350.31 287.82 2340.7 C289.91 2331.09 289.91 2318.77 287.82 2310.63 Z" fill="#E2E3E5" stroke="#C2C3C5" stroke-width="0.8" />
<path d="M295.34 2373.28 C293.25 2372.45 287.82 2367.85 282.81 2368.27 C277.79 2368.69 270.69 2372.87 265.26 2375.79 C259.83 2378.71 251.89 2382.06 250.22 2385.81 C248.55 2389.57 251.89 2395.42 255.24 2398.35 C258.58 2401.27 266.93 2399.18 270.27 2403.36 C273.62 2407.54 275.29 2413.38 275.29 2423.41 C275.29 2433.43 267.77 2456.83 270.27 2463.51 C272.78 2470.19 286.56 2470.19 290.32 2463.51 C294.08 2456.83 291.16 2434.69 292.83 2423.41 C294.5 2412.13 299.1 2400.43 300.35 2395.84" fill="none" stroke="#C2C3C5" stroke-width="0.8" />
<path d="M235.19 2388.32 C232.68 2385.4 224.95 2384.56 220.15 2385.81 C215.35 2387.07 208.04 2392.08 206.36 2395.84 C204.69 2399.6 206.99 2405.86 210.12 2408.37 C213.26 2410.88 220.98 2411.71 225.16 2410.88 C229.34 2410.04 233.52 2407.12 235.19 2403.36 C236.86 2399.6 237.69 2391.24 235.19 2388.32 Z" fill="none" stroke="#C2C3C5" stroke-width="0.8" />
<ellipse cx="199.2" cy="2363" rx="27.8" ry="23.5" fill="url(#bld)"/>
<path d="M188 2381 Q199.5 2387 211 2381 Q202.5 2390 200.6 2408 L198.8 2408 Q197 2390 188 2381 Z" fill="#8E8F91" stroke="none" stroke-width="0" />
</g>
<path d="M15.9 2139.7 C18.2 2129.08 26.78 2094.98 29.7 2076 C32.62 2057.02 31.73 2040.43 33.4 2025.8 C35.07 2011.17 36.15 1998.22 39.7 1988.2 C43.25 1978.18 46.77 1971.97 54.7 1965.7 C62.63 1959.43 75.6 1954.78 87.3 1950.6 C99 1946.42 115.78 1943.2 124.9 1940.6 C134.02 1938 137.27 1936.77 142 1935 C146.73 1933.23 150.33 1932 153.3 1930 C156.27 1928 158.27 1926.27 159.8 1923 C161.33 1919.73 162.18 1914.57 162.5 1910.4 C162.82 1906.23 162.3 1902.17 161.7 1898 C161.1 1893.83 160.13 1889.57 158.9 1885.4 C157.67 1881.23 155.87 1877.18 154.3 1873 C152.73 1868.82 150.92 1864.47 149.5 1860.3 C148.08 1856.13 147 1852.22 145.8 1848 C144.6 1843.78 143.22 1839.33 142.3 1835 C141.38 1830.67 140.8 1826.17 140.3 1822 C139.8 1817.83 139.4 1814 139.3 1810 C139.2 1806 139.25 1802.17 139.7 1798 C140.15 1793.83 141 1789.23 142 1785 C143 1780.77 143.72 1776.77 145.7 1772.6 C147.68 1768.43 150.63 1763.13 153.9 1760 C157.17 1756.87 161.73 1755.53 165.3 1753.8 C168.87 1752.07 171.63 1750.7 175.3 1749.6 C178.97 1748.5 183.13 1747.73 187.3 1747.2 C191.47 1746.67 195.97 1746.4 200.3 1746.4 C204.63 1746.4 209.13 1746.67 213.3 1747.2 C217.47 1747.73 221.63 1748.5 225.3 1749.6 C228.97 1750.7 231.73 1752.07 235.3 1753.8 C238.87 1755.53 243.43 1756.87 246.7 1760 C249.97 1763.13 252.92 1768.43 254.9 1772.6 C256.88 1776.77 257.6 1780.77 258.6 1785 C259.6 1789.23 260.45 1793.83 260.9 1798 C261.35 1802.17 261.4 1806 261.3 1810 C261.2 1814 260.8 1817.83 260.3 1822 C259.8 1826.17 259.22 1830.67 258.3 1835 C257.38 1839.33 256 1843.78 254.8 1848 C253.6 1852.22 252.52 1856.13 251.1 1860.3 C249.68 1864.47 247.87 1868.82 246.3 1873 C244.73 1877.18 242.93 1881.23 241.7 1885.4 C240.47 1889.57 239.5 1893.83 238.9 1898 C238.3 1902.17 237.78 1906.23 238.1 1910.4 C238.42 1914.57 239.27 1919.73 240.8 1923 C242.33 1926.27 244.33 1928 247.3 1930 C250.27 1932 253.87 1933.23 258.6 1935 C263.33 1936.77 266.58 1938 275.7 1940.6 C284.82 1943.2 301.6 1946.42 313.3 1950.6 C325 1954.78 337.97 1959.43 345.9 1965.7 C353.83 1971.97 357.35 1978.18 360.9 1988.2 C364.45 1998.22 365.53 2011.17 367.2 2025.8 C368.87 2040.43 367.98 2057.02 370.9 2076 C373.82 2094.98 382.4 2129.08 384.7 2139.7 L333.3 2167.8 L311.5 2117.6 C310.75 2120.53 309.42 2123.92 307 2135.2 C304.58 2146.48 299.35 2168.6 297 2185.3 C294.65 2202 292.85 2223.28 292.9 2235.4 C292.95 2247.52 295.47 2251.73 297.3 2258 C299.13 2264.27 300.65 2262.83 303.9 2273 C307.15 2283.17 313.9 2303.33 316.8 2319 C319.7 2334.67 320.42 2351.83 321.3 2367 C322.18 2382.17 322.05 2393.92 322.1 2410 C322.15 2426.08 321.68 2454.58 321.6 2463.5 L205 2463.5 L203 2410.9 L197.5 2410.9 L195.5 2463.5 L79 2463.5 C78.92 2454.58 78.45 2426.08 78.5 2410 C78.55 2393.92 78.42 2382.17 79.3 2367 C80.18 2351.83 80.9 2334.67 83.8 2319 C86.7 2303.33 93.45 2283.17 96.7 2273 C99.95 2262.83 101.47 2264.27 103.3 2258 C105.13 2251.73 107.65 2247.52 107.7 2235.4 C107.75 2223.28 105.95 2202 103.6 2185.3 C101.25 2168.6 96.02 2146.48 93.6 2135.2 C91.18 2123.92 89.85 2120.53 89.1 2117.6 L62.7 2166.5 Z" fill="none" stroke="#8E9092" stroke-width="1.5" stroke-linejoin="round"/>
</g>
<path d="M232.1 1987.8 C234.73 1990.18 242.77 1995.7 247.9 2002.1 C253.03 2008.5 258.38 2017.68 262.9 2026.2 C267.42 2034.72 271.48 2044.18 275 2053.2 C278.52 2062.22 281.5 2070.77 284 2080.3 C286.5 2089.83 288.5 2100.37 290 2110.4 C291.5 2120.43 292.37 2130.48 293 2140.5 C293.63 2150.52 293.92 2163.48 293.8 2170.5 C293.68 2177.52 293.18 2176.33 292.3 2182.6 C291.42 2188.87 290.13 2199.83 288.5 2208.1 C286.87 2216.37 284.38 2225.43 282.5 2232.2 C280.62 2238.97 278.82 2243.73 277.2 2248.7 C275.58 2253.67 273.8 2257.48 272.8 2262 C271.8 2266.52 271.47 2273.5 271.2 2275.8" fill="none" stroke="#5A67B4" stroke-width="3"  marker-end="url(#ahb)" marker-start="url(#ahb)" stroke-linecap="round"/>
<path d="M262.33 2025.13 C258.68 2025.31 247.82 2027.29 240.4 2026.2 C232.98 2025.11 224.82 2022.12 217.8 2018.6 C210.78 2015.08 203.57 2009.6 198.3 2005.1 C193.03 2000.6 188.22 1993.85 186.2 1991.6" fill="none" stroke="#5A67B4" stroke-width="3"  marker-end="url(#ahb)" stroke-linecap="round"/>
<path d="M286.86 2092.63 C281.62 2093.21 265.66 2095.9 255.4 2096.1 C245.14 2096.3 233.82 2095.43 225.3 2093.8 C216.78 2092.17 209.8 2088.93 204.3 2086.3 C198.8 2083.67 194.3 2079.38 192.3 2078" fill="none" stroke="#5A67B4" stroke-width="3"  marker-end="url(#ahb)" stroke-linecap="round"/>
<path d="M293.74 2159.27 C289.87 2158.65 278.14 2155.38 270.5 2155.5 C262.86 2155.62 255.43 2157.33 247.9 2160 C240.37 2162.67 231.82 2167.23 225.3 2171.5 C218.78 2175.77 213.3 2180.75 208.8 2185.6 C204.3 2190.45 200.55 2196.85 198.3 2200.6 C196.05 2204.35 195.8 2206.85 195.3 2208.1" fill="none" stroke="#5A67B4" stroke-width="3"  marker-end="url(#ahb)" stroke-linecap="round"/>
<path d="M293.82 2168.63 C289.93 2170.96 278.15 2177.02 270.5 2182.6 C262.85 2188.18 255.43 2195.83 247.9 2202.1 C240.37 2208.37 232.82 2214.43 225.3 2220.2 C217.78 2225.97 210.32 2231.7 202.8 2236.7 C195.28 2241.7 186.6 2246.95 180.2 2250.2 C173.8 2253.45 167.03 2255.2 164.4 2256.2" fill="none" stroke="#5A67B4" stroke-width="3"  marker-end="url(#ahb)" stroke-linecap="round"/>
<path d="M288.29 2209.14 C284.06 2209.1 270.88 2208.32 262.9 2208.9 C254.92 2209.48 247.92 2210.22 240.4 2212.6 C232.88 2214.98 224.82 2218.68 217.8 2223.2 C210.78 2227.72 204.07 2233.18 198.3 2239.7 C192.53 2246.22 186.97 2255.53 183.2 2262.3 C179.43 2269.07 177.45 2275.8 175.7 2280.3 C173.95 2284.8 173.2 2287.8 172.7 2289.3" fill="none" stroke="#5A67B4" stroke-width="3"  marker-end="url(#ahb)" stroke-linecap="round"/>
<path d="M277.81 2246.84 C274.08 2249.17 262.14 2257.11 255.4 2260.8 C248.66 2264.49 243.92 2267.25 237.4 2269 C230.88 2270.75 219.82 2270.92 216.3 2271.3" fill="none" stroke="#5A67B4" stroke-width="3"  marker-end="url(#ahb)" stroke-linecap="round"/>
<path d="M276.59 2250.51 C273.56 2253.23 263.93 2262.34 258.4 2266.8 C252.87 2271.26 247.9 2274.42 243.4 2277.3 C238.9 2280.18 233.4 2282.97 231.4 2284.1" fill="none" stroke="#5A67B4" stroke-width="3"  marker-end="url(#ahb)" stroke-linecap="round"/>
<path d="M176.5 2151 C173.37 2152.75 164.6 2157 157.7 2161.5 C150.8 2166 141.62 2172.48 135.1 2178 C128.58 2183.52 122.87 2190.08 118.6 2194.6 C114.33 2199.12 111.63 2200.33 109.5 2205.1 C107.37 2209.87 105.92 2216.68 105.8 2223.2 C105.68 2229.72 106.92 2236.68 108.8 2244.2 C110.68 2251.72 113.22 2259.78 117.1 2268.3 C120.98 2276.82 126.58 2286.28 132.1 2295.3 C137.62 2304.32 144.18 2313.87 150.2 2322.4 C156.22 2330.93 163.95 2340.73 168.2 2346.5 C172.45 2352.27 174.45 2355.25 175.7 2357" fill="none" stroke="#E11B55" stroke-width="3"  marker-end="url(#ahr)" marker-start="url(#ahr)" stroke-linecap="round"/>
<path d="M105.97 2219.93 C106.19 2216.96 106.19 2207.57 107.3 2202.1 C108.41 2196.63 110.47 2191.37 112.6 2187.1 C114.73 2182.83 118.85 2178.27 120.1 2176.5" fill="none" stroke="#E11B55" stroke-width="3"  marker-end="url(#ahr)" stroke-linecap="round"/>
<path d="M117.1 2268.3 C117 2264.28 115.25 2251.47 116.5 2244.2 C117.75 2236.93 120.75 2230.47 124.6 2224.7 C128.45 2218.93 135.33 2213.12 139.6 2209.6 C143.87 2206.08 146.82 2205.23 150.2 2203.6 C153.58 2201.97 158.28 2200.43 159.9 2199.8" fill="none" stroke="#E11B55" stroke-width="3"  marker-end="url(#ahr)" stroke-linecap="round"/>
<path d="M236.6 2245 C239.23 2243.98 247.27 2240.17 252.4 2238.9 C257.53 2237.63 262.13 2236.52 267.4 2237.4 C272.67 2238.28 279.23 2240.05 284 2244.2 C288.77 2248.35 293.5 2255.78 296 2262.3 C298.5 2268.82 299.25 2275.78 299 2283.3 C298.75 2290.82 297.5 2299.38 294.5 2307.4 C291.5 2315.42 286.27 2324.38 281 2331.4 C275.73 2338.42 269.67 2344.23 262.9 2349.5 C256.13 2354.77 246.92 2360.12 240.4 2363 C233.88 2365.88 226.57 2366.17 223.8 2366.8" fill="none" stroke="#98D06C" stroke-width="3"  marker-end="url(#ahg)" marker-start="url(#ahg)" stroke-linecap="round"/>
<path d="M278.3 2334.81 C275.73 2335.63 267.47 2338.75 262.9 2339.7 C258.33 2340.65 254.9 2341 250.9 2340.5 C246.9 2340 240.9 2337.33 238.9 2336.7" fill="none" stroke="#98D06C" stroke-width="3"  marker-end="url(#ahg)" stroke-linecap="round"/>
<circle cx="177.2" cy="1969.4" r="15" fill="#5A67B4" stroke="#000" stroke-width="1.4" />
<circle cx="228" cy="1969.4" r="15" fill="#5A67B4" stroke="#000" stroke-width="1.4" />
<circle cx="177.2" cy="2064.7" r="15" fill="#5A67B4" stroke="#000" stroke-width="1.4" />
<circle cx="127.8" cy="2155.7" r="15" fill="#E11B55" stroke="#000" stroke-width="1.4" />
<circle cx="194.7" cy="2150.7" r="15" fill="#E11B55" stroke="#000" stroke-width="1.4" />
<circle cx="178.4" cy="2193.3" r="15" fill="#E11B55" stroke="#000" stroke-width="1.4" />
<circle cx="184.2" cy="2224.2" r="15" fill="#5A67B4" stroke="#000" stroke-width="1.4" />
<circle cx="217.5" cy="2247.2" r="15" fill="#98D06C" stroke="#000" stroke-width="1.4" />
<circle cx="147.1" cy="2263" r="15" fill="#5A67B4" stroke="#000" stroke-width="1.4" />
<circle cx="217.5" cy="2296.3" r="15" fill="#5A67B4" stroke="#000" stroke-width="1.4" />
<circle cx="198.5" cy="2271.8" r="15" fill="#5A67B4" stroke="#000" stroke-width="1.4" />
<circle cx="156.9" cy="2296.8" r="15" fill="#5A67B4" stroke="#000" stroke-width="1.4" />
<circle cx="263.7" cy="2296.3" r="15" fill="#5A67B4" stroke="#000" stroke-width="1.4" />
<circle cx="219.8" cy="2332.7" r="15" fill="#98D06C" stroke="#000" stroke-width="1.4" />
<circle cx="190" cy="2364.5" r="15" fill="#E11B55" stroke="#000" stroke-width="1.4" />
<circle cx="205.5" cy="2364.5" r="15" fill="#98D06C" stroke="#000" stroke-width="1.4" />
<line x1="446.8" y1="1772.6" x2="446.8" y2="2134.7" stroke="#111" stroke-width="1.4" />
<line x1="440.1" y1="2134.1" x2="684.2" y2="2134.1" stroke="#111" stroke-width="1.4" />
<line x1="440.1" y1="1773.2" x2="446.8" y2="1773.2" stroke="#111" stroke-width="1.4" />
<text x="438.5" y="1780.7" font-size="24.5" text-anchor="end" fill="#111">40</text>
<line x1="440.1" y1="1863.4" x2="446.8" y2="1863.4" stroke="#111" stroke-width="1.4" />
<text x="438.5" y="1870.9" font-size="24.5" text-anchor="end" fill="#111">30</text>
<line x1="440.1" y1="1953.6" x2="446.8" y2="1953.6" stroke="#111" stroke-width="1.4" />
<text x="438.5" y="1961.1" font-size="24.5" text-anchor="end" fill="#111">20</text>
<line x1="440.1" y1="2043.9" x2="446.8" y2="2043.9" stroke="#111" stroke-width="1.4" />
<text x="438.5" y="2051.4" font-size="24.5" text-anchor="end" fill="#111">10</text>
<line x1="440.1" y1="2134.1" x2="446.8" y2="2134.1" stroke="#111" stroke-width="1.4" />
<text x="438.5" y="2141.6" font-size="24.5" text-anchor="end" fill="#111">0</text>
<rect x="466" y="2010.2" width="34.3" height="123.9" fill="#CC9650" stroke="#111" stroke-width="1.3" />
<rect x="520.2" y="2100.5" width="34.5" height="33.6" fill="#5A67B4" stroke="#111" stroke-width="1.3" />
<rect x="574.8" y="1812.2" width="34.5" height="321.9" fill="#E11B55" stroke="#111" stroke-width="1.3" />
<rect x="628.9" y="2010.2" width="34.7" height="123.9" fill="#98D06C" stroke="#111" stroke-width="1.3" />
<line x1="482.9" y1="2134.1" x2="482.9" y2="2141.3" stroke="#111" stroke-width="1.4" />
<line x1="537.3" y1="2134.1" x2="537.3" y2="2141.3" stroke="#111" stroke-width="1.4" />
<line x1="591.7" y1="2134.1" x2="591.7" y2="2141.3" stroke="#111" stroke-width="1.4" />
<line x1="646" y1="2134.1" x2="646" y2="2141.3" stroke="#111" stroke-width="1.4" />
<text x="482.9" y="2165.2" font-size="24" text-anchor="middle" fill="#111">All</text>
<text x="537.3" y="2165.2" font-size="24" text-anchor="middle" fill="#111">Cl1</text>
<text x="591.7" y="2165.2" font-size="24" text-anchor="middle" fill="#111">Cl2</text>
<text x="646" y="2165.2" font-size="24" text-anchor="middle" fill="#111">Cl3</text>
<line x1="444.1" y1="2172.4" x2="511.6" y2="2172.4" stroke="#111" stroke-width="1.2" />
<line x1="521.3" y1="2172.4" x2="666.8" y2="2172.4" stroke="#111" stroke-width="1.2" />
<text x="478.4" y="2196.8" font-size="24" text-anchor="middle" fill="#111">Shared</text>
<text x="591.7" y="2196.8" font-size="24" text-anchor="middle" fill="#111">Cluster</text>
<text x="593.5" y="2226.1" font-size="24" text-anchor="middle" fill="#111">specific</text>
<line x1="437.8" y1="2234.1" x2="664.5" y2="2234.1" stroke="#111" stroke-width="1.2" />
<text x="543.8" y="2257.2" font-size="24" text-anchor="middle" fill="#111">Transition points</text>
<text x="402.3" y="1933.4" font-size="24" text-anchor="middle" fill="#111" transform="rotate(-90 402.3 1933.4)">Number of transition points</text>
<text x="380.8" y="2305.3" font-size="24" text-anchor="start" fill="#111">Metastases autosome cluster</text>
<circle cx="429.9" cy="2329.9" r="15" fill="#5A67B4" stroke="#333" stroke-width="0.8" />
<circle cx="429.9" cy="2364.4" r="15" fill="#E11B55" stroke="#333" stroke-width="0.8" />
<circle cx="429.9" cy="2398.9" r="15" fill="#98D06C" stroke="#333" stroke-width="0.8" />
<text x="452" y="2337.3" font-size="24" fill="#111">1 - <tspan font-style="italic">AR</tspan> CN gain</text>
<text x="452" y="2372.3" font-size="24" fill="#111">2 - <tspan font-style="italic">AR</tspan> CN normal</text>
<text x="452" y="2406.1" font-size="24" fill="#111">3 - <tspan font-style="italic">AR</tspan> CN gain</text>
<text x="380.8" y="2457.3" font-size="24" text-anchor="start" fill="#111">Metastases relationships</text>
<line x1="460.9" y1="2472.6" x2="569" y2="2472.6" stroke="#000" stroke-width="2.6" />
<path d="M452.9 2472.6 l14.5 -6.8 l-3.2 6.8 l3.2 6.8 Z" fill="#000" stroke="none" stroke-width="0" />
<path d="M577 2472.6 l-14.5 -6.8 l3.2 6.8 l-3.2 6.8 Z" fill="#000" stroke="none" stroke-width="0" />
<text x="739.5" y="1732.6" font-size="25" text-anchor="start" fill="#111" font-weight="bold">f)</text>
<text x="780.2" y="1732.6" font-size="25" text-anchor="start" fill="#111">PEA172</text>
<g transform="translate(715.5 -6.8)">
<path d="M15.9 2139.7 C18.2 2129.08 26.78 2094.98 29.7 2076 C32.62 2057.02 31.73 2040.43 33.4 2025.8 C35.07 2011.17 36.15 1998.22 39.7 1988.2 C43.25 1978.18 46.77 1971.97 54.7 1965.7 C62.63 1959.43 75.6 1954.78 87.3 1950.6 C99 1946.42 115.78 1943.2 124.9 1940.6 C134.02 1938 137.27 1936.77 142 1935 C146.73 1933.23 150.33 1932 153.3 1930 C156.27 1928 158.27 1926.27 159.8 1923 C161.33 1919.73 162.18 1914.57 162.5 1910.4 C162.82 1906.23 162.3 1902.17 161.7 1898 C161.1 1893.83 160.13 1889.57 158.9 1885.4 C157.67 1881.23 155.87 1877.18 154.3 1873 C152.73 1868.82 150.92 1864.47 149.5 1860.3 C148.08 1856.13 147 1852.22 145.8 1848 C144.6 1843.78 143.22 1839.33 142.3 1835 C141.38 1830.67 140.8 1826.17 140.3 1822 C139.8 1817.83 139.4 1814 139.3 1810 C139.2 1806 139.25 1802.17 139.7 1798 C140.15 1793.83 141 1789.23 142 1785 C143 1780.77 143.72 1776.77 145.7 1772.6 C147.68 1768.43 150.63 1763.13 153.9 1760 C157.17 1756.87 161.73 1755.53 165.3 1753.8 C168.87 1752.07 171.63 1750.7 175.3 1749.6 C178.97 1748.5 183.13 1747.73 187.3 1747.2 C191.47 1746.67 195.97 1746.4 200.3 1746.4 C204.63 1746.4 209.13 1746.67 213.3 1747.2 C217.47 1747.73 221.63 1748.5 225.3 1749.6 C228.97 1750.7 231.73 1752.07 235.3 1753.8 C238.87 1755.53 243.43 1756.87 246.7 1760 C249.97 1763.13 252.92 1768.43 254.9 1772.6 C256.88 1776.77 257.6 1780.77 258.6 1785 C259.6 1789.23 260.45 1793.83 260.9 1798 C261.35 1802.17 261.4 1806 261.3 1810 C261.2 1814 260.8 1817.83 260.3 1822 C259.8 1826.17 259.22 1830.67 258.3 1835 C257.38 1839.33 256 1843.78 254.8 1848 C253.6 1852.22 252.52 1856.13 251.1 1860.3 C249.68 1864.47 247.87 1868.82 246.3 1873 C244.73 1877.18 242.93 1881.23 241.7 1885.4 C240.47 1889.57 239.5 1893.83 238.9 1898 C238.3 1902.17 237.78 1906.23 238.1 1910.4 C238.42 1914.57 239.27 1919.73 240.8 1923 C242.33 1926.27 244.33 1928 247.3 1930 C250.27 1932 253.87 1933.23 258.6 1935 C263.33 1936.77 266.58 1938 275.7 1940.6 C284.82 1943.2 301.6 1946.42 313.3 1950.6 C325 1954.78 337.97 1959.43 345.9 1965.7 C353.83 1971.97 357.35 1978.18 360.9 1988.2 C364.45 1998.22 365.53 2011.17 367.2 2025.8 C368.87 2040.43 367.98 2057.02 370.9 2076 C373.82 2094.98 382.4 2129.08 384.7 2139.7 L333.3 2167.8 L311.5 2117.6 C310.75 2120.53 309.42 2123.92 307 2135.2 C304.58 2146.48 299.35 2168.6 297 2185.3 C294.65 2202 292.85 2223.28 292.9 2235.4 C292.95 2247.52 295.47 2251.73 297.3 2258 C299.13 2264.27 300.65 2262.83 303.9 2273 C307.15 2283.17 313.9 2303.33 316.8 2319 C319.7 2334.67 320.42 2351.83 321.3 2367 C322.18 2382.17 322.05 2393.92 322.1 2410 C322.15 2426.08 321.68 2454.58 321.6 2463.5 L205 2463.5 L203 2410.9 L197.5 2410.9 L195.5 2463.5 L79 2463.5 C78.92 2454.58 78.45 2426.08 78.5 2410 C78.55 2393.92 78.42 2382.17 79.3 2367 C80.18 2351.83 80.9 2334.67 83.8 2319 C86.7 2303.33 93.45 2283.17 96.7 2273 C99.95 2262.83 101.47 2264.27 103.3 2258 C105.13 2251.73 107.65 2247.52 107.7 2235.4 C107.75 2223.28 105.95 2202 103.6 2185.3 C101.25 2168.6 96.02 2146.48 93.6 2135.2 C91.18 2123.92 89.85 2120.53 89.1 2117.6 L62.7 2166.5 Z" fill="#D9DADC" stroke="#8E9092" stroke-width="1.5" stroke-linejoin="round"/>
<clipPath id="bc2"><path d="M15.9 2139.7 C18.2 2129.08 26.78 2094.98 29.7 2076 C32.62 2057.02 31.73 2040.43 33.4 2025.8 C35.07 2011.17 36.15 1998.22 39.7 1988.2 C43.25 1978.18 46.77 1971.97 54.7 1965.7 C62.63 1959.43 75.6 1954.78 87.3 1950.6 C99 1946.42 115.78 1943.2 124.9 1940.6 C134.02 1938 137.27 1936.77 142 1935 C146.73 1933.23 150.33 1932 153.3 1930 C156.27 1928 158.27 1926.27 159.8 1923 C161.33 1919.73 162.18 1914.57 162.5 1910.4 C162.82 1906.23 162.3 1902.17 161.7 1898 C161.1 1893.83 160.13 1889.57 158.9 1885.4 C157.67 1881.23 155.87 1877.18 154.3 1873 C152.73 1868.82 150.92 1864.47 149.5 1860.3 C148.08 1856.13 147 1852.22 145.8 1848 C144.6 1843.78 143.22 1839.33 142.3 1835 C141.38 1830.67 140.8 1826.17 140.3 1822 C139.8 1817.83 139.4 1814 139.3 1810 C139.2 1806 139.25 1802.17 139.7 1798 C140.15 1793.83 141 1789.23 142 1785 C143 1780.77 143.72 1776.77 145.7 1772.6 C147.68 1768.43 150.63 1763.13 153.9 1760 C157.17 1756.87 161.73 1755.53 165.3 1753.8 C168.87 1752.07 171.63 1750.7 175.3 1749.6 C178.97 1748.5 183.13 1747.73 187.3 1747.2 C191.47 1746.67 195.97 1746.4 200.3 1746.4 C204.63 1746.4 209.13 1746.67 213.3 1747.2 C217.47 1747.73 221.63 1748.5 225.3 1749.6 C228.97 1750.7 231.73 1752.07 235.3 1753.8 C238.87 1755.53 243.43 1756.87 246.7 1760 C249.97 1763.13 252.92 1768.43 254.9 1772.6 C256.88 1776.77 257.6 1780.77 258.6 1785 C259.6 1789.23 260.45 1793.83 260.9 1798 C261.35 1802.17 261.4 1806 261.3 1810 C261.2 1814 260.8 1817.83 260.3 1822 C259.8 1826.17 259.22 1830.67 258.3 1835 C257.38 1839.33 256 1843.78 254.8 1848 C253.6 1852.22 252.52 1856.13 251.1 1860.3 C249.68 1864.47 247.87 1868.82 246.3 1873 C244.73 1877.18 242.93 1881.23 241.7 1885.4 C240.47 1889.57 239.5 1893.83 238.9 1898 C238.3 1902.17 237.78 1906.23 238.1 1910.4 C238.42 1914.57 239.27 1919.73 240.8 1923 C242.33 1926.27 244.33 1928 247.3 1930 C250.27 1932 253.87 1933.23 258.6 1935 C263.33 1936.77 266.58 1938 275.7 1940.6 C284.82 1943.2 301.6 1946.42 313.3 1950.6 C325 1954.78 337.97 1959.43 345.9 1965.7 C353.83 1971.97 357.35 1978.18 360.9 1988.2 C364.45 1998.22 365.53 2011.17 367.2 2025.8 C368.87 2040.43 367.98 2057.02 370.9 2076 C373.82 2094.98 382.4 2129.08 384.7 2139.7 L333.3 2167.8 L311.5 2117.6 C310.75 2120.53 309.42 2123.92 307 2135.2 C304.58 2146.48 299.35 2168.6 297 2185.3 C294.65 2202 292.85 2223.28 292.9 2235.4 C292.95 2247.52 295.47 2251.73 297.3 2258 C299.13 2264.27 300.65 2262.83 303.9 2273 C307.15 2283.17 313.9 2303.33 316.8 2319 C319.7 2334.67 320.42 2351.83 321.3 2367 C322.18 2382.17 322.05 2393.92 322.1 2410 C322.15 2426.08 321.68 2454.58 321.6 2463.5 L205 2463.5 L203 2410.9 L197.5 2410.9 L195.5 2463.5 L79 2463.5 C78.92 2454.58 78.45 2426.08 78.5 2410 C78.55 2393.92 78.42 2382.17 79.3 2367 C80.18 2351.83 80.9 2334.67 83.8 2319 C86.7 2303.33 93.45 2283.17 96.7 2273 C99.95 2262.83 101.47 2264.27 103.3 2258 C105.13 2251.73 107.65 2247.52 107.7 2235.4 C107.75 2223.28 105.95 2202 103.6 2185.3 C101.25 2168.6 96.02 2146.48 93.6 2135.2 C91.18 2123.92 89.85 2120.53 89.1 2117.6 L62.7 2166.5 Z"/></clipPath>
<g clip-path="url(#bc2)">
<path d="M162.9 1885.5 Q200.5 1925 238 1885.5" fill="none" stroke="#B7B8BA" stroke-width="0.9" />
<path d="M178 1912 Q186 1940 192 1962 M223 1912 Q215 1940 209 1962" fill="none" stroke="#B7B8BA" stroke-width="0.8" />
<path d="M123 1955 Q150 1950 176 1962 M277.5 1955 Q250 1950 225 1962" fill="none" stroke="#B7B8BA" stroke-width="0.8" />
<path d="M202.78 1752.54 C203.95 1750.86 206.87 1751.45 208.92 1751.23 C210.97 1751.01 213.16 1750.94 215.06 1751.23 C216.96 1751.52 218.57 1752.54 220.32 1752.98 C222.08 1753.42 223.83 1753.27 225.59 1753.86 C227.34 1754.44 229.09 1755.69 230.85 1756.49 C232.6 1757.3 234.43 1757.59 236.11 1758.68 C237.79 1759.78 239.47 1761.61 240.94 1763.07 C242.4 1764.53 243.71 1765.7 244.88 1767.46 C246.05 1769.21 247.15 1771.4 247.95 1773.6 C248.76 1775.79 249.27 1778.13 249.71 1780.61 C250.15 1783.1 250.44 1785.88 250.59 1788.51 C250.73 1791.14 250.73 1794.06 250.59 1796.4 C250.44 1798.74 250.07 1800.64 249.71 1802.54 C249.34 1804.44 249.2 1806.2 248.39 1807.81 C247.59 1809.42 246.05 1811.02 244.88 1812.19 C243.71 1813.36 242.84 1813.87 241.38 1814.82 C239.91 1815.77 238.01 1816.94 236.11 1817.89 C234.21 1818.85 231.87 1819.8 229.97 1820.53 C228.07 1821.26 226.46 1821.92 224.71 1822.28 C222.95 1822.65 221.05 1822.87 219.45 1822.72 C217.84 1822.57 216.23 1821.99 215.06 1821.4 C213.89 1820.82 213.16 1820.16 212.43 1819.21 C211.7 1818.26 211.04 1817.02 210.67 1815.7 C210.31 1814.39 210.24 1813.22 210.24 1811.32 C210.24 1809.42 211.11 1805.39 210.67 1804.3 C210.24 1803.2 208.63 1804.74 207.6 1804.74 C206.58 1804.74 205.41 1804.66 204.53 1804.3 C203.66 1803.93 202.78 1803.13 202.34 1802.54 C201.9 1801.96 202.05 1804.74 201.9 1800.79 C201.76 1796.84 201.46 1785.44 201.46 1778.86 C201.46 1772.28 201.68 1765.7 201.9 1761.32 C202.12 1756.93 201.61 1754.23 202.78 1752.54 Z" fill="#CECFD2" stroke="#B9BABD" stroke-width="0.8" />
<path d="M244.88 1784.12 C243.42 1785.88 239.91 1791.73 236.11 1794.65 C232.31 1797.57 226.46 1799.91 222.08 1801.67 C217.69 1803.42 211.84 1804.59 209.8 1805.18" fill="none" stroke="#B7B8BB" stroke-width="0.75" />
<path d="M222.08 1758.68 C223.39 1760.15 228.22 1764.39 229.97 1767.46 C231.73 1770.53 232.31 1774.33 232.6 1777.11 C232.9 1779.88 231.43 1781.78 231.73 1784.12 C232.02 1786.46 233.92 1789.97 234.36 1791.14" fill="none" stroke="#B7B8BB" stroke-width="0.75" />
<path d="M214.18 1759.56 C213.89 1760.58 212.43 1763.65 212.43 1765.7 C212.43 1767.75 214.33 1769.36 214.18 1771.84 C214.04 1774.33 212.28 1777.98 211.55 1780.61 C210.82 1783.25 209.5 1785.29 209.8 1787.63 C210.09 1789.97 212.72 1793.48 213.31 1794.65" fill="none" stroke="#B7B8BB" stroke-width="0.75" />
<path d="M223.83 1772.72 C223.54 1774.18 222.95 1778.86 222.08 1781.49 C221.2 1784.12 219.15 1786.17 218.57 1788.51 C217.98 1790.85 218.57 1794.36 218.57 1795.53" fill="none" stroke="#B7B8BB" stroke-width="0.75" />
<path d="M209.8 1786.75 C209.36 1787.19 208.33 1789.24 207.16 1789.39 C206 1789.53 203.51 1787.92 202.78 1787.63" fill="none" stroke="#B7B8BB" stroke-width="0.75" />
<path d="M206.29 1770.09 C206 1769.5 205.26 1767.31 204.53 1766.58 C203.8 1765.85 202.34 1765.85 201.9 1765.7" fill="none" stroke="#B7B8BB" stroke-width="0.75" />
<path d="M207.16 1777.98 C206.29 1778.13 202.78 1778.71 201.9 1778.86" fill="none" stroke="#B7B8BB" stroke-width="0.75" />
<path d="M241.38 1798.16 C240.5 1799.18 238.16 1802.69 236.11 1804.3 C234.07 1805.91 231.43 1806.49 229.09 1807.81 C226.76 1809.12 223.25 1811.46 222.08 1812.19" fill="none" stroke="#B7B8BB" stroke-width="0.75" />
<path d="M243.13 1805.18 C242.25 1806.2 239.91 1809.71 237.87 1811.32 C235.82 1812.92 232.02 1814.24 230.85 1814.82" fill="none" stroke="#B7B8BB" stroke-width="0.75" />
<path d="M212.43 1798.16 C211.7 1798.74 209.07 1801.37 208.04 1801.67 C207.02 1801.96 206.58 1800.2 206.29 1799.91" fill="none" stroke="#B7B8BB" stroke-width="0.75" />
<path d="M246.64 1780.61 C246.2 1781.2 244.15 1782.37 244.01 1784.12 C243.86 1785.88 245.47 1789.97 245.76 1791.14" fill="none" stroke="#B7B8BB" stroke-width="0.75" />
<path d="M227.34 1816.58 C226.76 1816.43 225 1815.56 223.83 1815.7 C222.66 1815.85 220.91 1817.16 220.32 1817.46" fill="none" stroke="#B7B8BB" stroke-width="0.75" />
<path d="M238.74 1763.95 C238.96 1765.41 240.21 1769.94 240.06 1772.72 C239.91 1775.5 238.23 1779.3 237.87 1780.61" fill="none" stroke="#B7B8BB" stroke-width="0.75" />
<path d="M229.09 1784.12 C229.24 1784.71 229.83 1787.05 229.97 1787.63" fill="none" stroke="#B7B8BB" stroke-width="0.75" />
<path d="M210.67 1755.18 C209.94 1755.39 207.53 1756.35 206.29 1756.49 C205.05 1756.64 203.73 1756.13 203.22 1756.05" fill="none" stroke="#B7B8BB" stroke-width="0.75" />
<path d="M198.42 1752.54 C197.25 1750.86 194.33 1751.45 192.28 1751.23 C190.23 1751.01 188.04 1750.94 186.14 1751.23 C184.24 1751.52 182.63 1752.54 180.88 1752.98 C179.12 1753.42 177.37 1753.27 175.61 1753.86 C173.86 1754.44 172.11 1755.69 170.35 1756.49 C168.6 1757.3 166.77 1757.59 165.09 1758.68 C163.41 1759.78 161.73 1761.61 160.26 1763.07 C158.8 1764.53 157.49 1765.7 156.32 1767.46 C155.15 1769.21 154.05 1771.4 153.25 1773.6 C152.44 1775.79 151.93 1778.13 151.49 1780.61 C151.05 1783.1 150.76 1785.88 150.61 1788.51 C150.47 1791.14 150.47 1794.06 150.61 1796.4 C150.76 1798.74 151.13 1800.64 151.49 1802.54 C151.86 1804.44 152 1806.2 152.81 1807.81 C153.61 1809.42 155.15 1811.02 156.32 1812.19 C157.49 1813.36 158.36 1813.87 159.82 1814.82 C161.29 1815.77 163.19 1816.94 165.09 1817.89 C166.99 1818.85 169.33 1819.8 171.23 1820.53 C173.13 1821.26 174.74 1821.92 176.49 1822.28 C178.25 1822.65 180.15 1822.87 181.75 1822.72 C183.36 1822.57 184.97 1821.99 186.14 1821.4 C187.31 1820.82 188.04 1820.16 188.77 1819.21 C189.5 1818.26 190.16 1817.02 190.53 1815.7 C190.89 1814.39 190.96 1813.22 190.96 1811.32 C190.96 1809.42 190.09 1805.39 190.53 1804.3 C190.96 1803.2 192.57 1804.74 193.6 1804.74 C194.62 1804.74 195.79 1804.66 196.67 1804.3 C197.54 1803.93 198.42 1803.13 198.86 1802.54 C199.3 1801.96 199.15 1804.74 199.3 1800.79 C199.44 1796.84 199.74 1785.44 199.74 1778.86 C199.74 1772.28 199.52 1765.7 199.3 1761.32 C199.08 1756.93 199.59 1754.23 198.42 1752.54 Z" fill="#CECFD2" stroke="#B9BABD" stroke-width="0.8" />
<path d="M156.32 1784.12 C157.78 1785.88 161.29 1791.73 165.09 1794.65 C168.89 1797.57 174.74 1799.91 179.12 1801.67 C183.51 1803.42 189.36 1804.59 191.4 1805.18" fill="none" stroke="#B7B8BB" stroke-width="0.75" />
<path d="M179.12 1758.68 C177.81 1760.15 172.98 1764.39 171.23 1767.46 C169.47 1770.53 168.89 1774.33 168.6 1777.11 C168.3 1779.88 169.77 1781.78 169.47 1784.12 C169.18 1786.46 167.28 1789.97 166.84 1791.14" fill="none" stroke="#B7B8BB" stroke-width="0.75" />
<path d="M187.02 1759.56 C187.31 1760.58 188.77 1763.65 188.77 1765.7 C188.77 1767.75 186.87 1769.36 187.02 1771.84 C187.16 1774.33 188.92 1777.98 189.65 1780.61 C190.38 1783.25 191.7 1785.29 191.4 1787.63 C191.11 1789.97 188.48 1793.48 187.89 1794.65" fill="none" stroke="#B7B8BB" stroke-width="0.75" />
<path d="M177.37 1772.72 C177.66 1774.18 178.25 1778.86 179.12 1781.49 C180 1784.12 182.05 1786.17 182.63 1788.51 C183.22 1790.85 182.63 1794.36 182.63 1795.53" fill="none" stroke="#B7B8BB" stroke-width="0.75" />
<path d="M191.4 1786.75 C191.84 1787.19 192.87 1789.24 194.04 1789.39 C195.2 1789.53 197.69 1787.92 198.42 1787.63" fill="none" stroke="#B7B8BB" stroke-width="0.75" />
<path d="M194.91 1770.09 C195.2 1769.5 195.94 1767.31 196.67 1766.58 C197.4 1765.85 198.86 1765.85 199.3 1765.7" fill="none" stroke="#B7B8BB" stroke-width="0.75" />
<path d="M194.04 1777.98 C194.91 1778.13 198.42 1778.71 199.3 1778.86" fill="none" stroke="#B7B8BB" stroke-width="0.75" />
<path d="M159.82 1798.16 C160.7 1799.18 163.04 1802.69 165.09 1804.3 C167.13 1805.91 169.77 1806.49 172.11 1807.81 C174.44 1809.12 177.95 1811.46 179.12 1812.19" fill="none" stroke="#B7B8BB" stroke-width="0.75" />
<path d="M158.07 1805.18 C158.95 1806.2 161.29 1809.71 163.33 1811.32 C165.38 1812.92 169.18 1814.24 170.35 1814.82" fill="none" stroke="#B7B8BB" stroke-width="0.75" />
<path d="M188.77 1798.16 C189.5 1798.74 192.13 1801.37 193.16 1801.67 C194.18 1801.96 194.62 1800.2 194.91 1799.91" fill="none" stroke="#B7B8BB" stroke-width="0.75" />
<path d="M154.56 1780.61 C155 1781.2 157.05 1782.37 157.19 1784.12 C157.34 1785.88 155.73 1789.97 155.44 1791.14" fill="none" stroke="#B7B8BB" stroke-width="0.75" />
<path d="M173.86 1816.58 C174.44 1816.43 176.2 1815.56 177.37 1815.7 C178.54 1815.85 180.29 1817.16 180.88 1817.46" fill="none" stroke="#B7B8BB" stroke-width="0.75" />
<path d="M162.46 1763.95 C162.24 1765.41 160.99 1769.94 161.14 1772.72 C161.29 1775.5 162.97 1779.3 163.33 1780.61" fill="none" stroke="#B7B8BB" stroke-width="0.75" />
<path d="M172.11 1784.12 C171.96 1784.71 171.37 1787.05 171.23 1787.63" fill="none" stroke="#B7B8BB" stroke-width="0.75" />
<path d="M190.53 1755.18 C191.26 1755.39 193.67 1756.35 194.91 1756.49 C196.15 1756.64 197.47 1756.13 197.98 1756.05" fill="none" stroke="#B7B8BB" stroke-width="0.75" />
<path d="M174.2 1982.6 C169.45 1983.85 160.47 1992.1 154.7 1997.6 C148.93 2003.1 144.37 2008.83 139.6 2015.6 C134.83 2022.37 130.1 2029.92 126.1 2038.2 C122.1 2046.48 118.37 2056.28 115.6 2065.3 C112.83 2074.32 110.77 2083.53 109.5 2092.3 C108.23 2101.07 108.17 2108.28 108 2117.9 C107.83 2127.52 102.98 2146.23 108.5 2150 C114.02 2153.77 131.15 2144.35 141.1 2140.5 C151.05 2136.65 160.68 2131.17 168.2 2126.9 C175.72 2122.63 182.43 2118.65 186.2 2114.9 C189.97 2111.15 189.53 2108.17 190.8 2104.4 C192.07 2100.63 192.8 2098.32 193.8 2092.3 C194.8 2086.28 196.55 2077.32 196.8 2068.3 C197.05 2059.28 196.57 2047.98 195.3 2038.2 C194.03 2028.42 191.22 2017.62 189.2 2009.6 C187.18 2001.58 185.7 1994.6 183.2 1990.1 C180.7 1985.6 178.95 1981.35 174.2 1982.6 Z" fill="#C9CACC" stroke="#A4A5A7" stroke-width="0.8" />
<path d="M223.8 1982.6 C220.28 1984.1 215.68 1988.33 213.3 1994.6 C210.92 2000.87 210.38 2011.93 209.5 2020.2 C208.62 2028.47 207.87 2036.68 208 2044.2 C208.13 2051.72 209.67 2056.78 210.3 2065.3 C210.93 2073.82 211.42 2085.28 211.8 2095.3 C212.18 2105.32 212.1 2117.12 212.6 2125.4 C213.1 2133.68 210.17 2140.48 214.8 2145 C219.43 2149.52 231.12 2151 240.4 2152.5 C249.68 2154 261.98 2153.75 270.5 2154 C279.02 2154.25 287 2157.52 291.5 2154 C296 2150.48 296.75 2141.42 297.5 2132.9 C298.25 2124.38 297.25 2112.67 296 2102.9 C294.75 2093.13 292.75 2084.08 290 2074.3 C287.25 2064.52 283.52 2053.22 279.5 2044.2 C275.48 2035.18 270.92 2027.72 265.9 2020.2 C260.88 2012.68 254.65 2004.87 249.4 1999.1 C244.15 1993.33 238.67 1988.35 234.4 1985.6 C230.13 1982.85 227.32 1981.1 223.8 1982.6 Z" fill="#C9CACC" stroke="#A4A5A7" stroke-width="0.8" />
<path d="M110 2082 C113 2083.67 121.33 2089.67 128 2092 C134.67 2094.33 142.67 2095.67 150 2096 C157.33 2096.33 165.33 2095.67 172 2094 C178.67 2092.33 187 2087.33 190 2086" fill="none" stroke="#B0B1B3" stroke-width="0.7" />
<path d="M112 2085 C113.67 2090 117.67 2105.5 122 2115 C126.33 2124.5 135.33 2137.5 138 2142" fill="none" stroke="#B4B5B7" stroke-width="0.6" />
<path d="M215 2145 C218.83 2142.83 230.17 2133.83 238 2132 C245.83 2130.17 253.33 2131.67 262 2134 C270.67 2136.33 285.33 2144 290 2146" fill="none" stroke="#B0B1B3" stroke-width="0.7" />
<path d="M240 2095 C240.67 2100 240.33 2117.5 244 2125 C247.67 2132.5 256 2138.5 262 2140 C268 2141.5 275.67 2139 280 2134 C284.33 2129 286.67 2114 288 2110" fill="none" stroke="#B4B5B7" stroke-width="0.6" />
<path d="M194.2 1945 L206.3 1945 L207.5 2046 L203 2052 L197 2052 L193 2046 Z" fill="#C3C4C6" stroke="none" stroke-width="0" />
<line x1="193.6" y1="1950" x2="207.2" y2="1950" stroke="#D3D4D6" stroke-width="1.6" />
<line x1="193.6" y1="1958" x2="207.2" y2="1958" stroke="#D3D4D6" stroke-width="1.6" />
<line x1="193.6" y1="1966" x2="207.2" y2="1966" stroke="#D3D4D6" stroke-width="1.6" />
<line x1="193.6" y1="1974" x2="207.2" y2="1974" stroke="#D3D4D6" stroke-width="1.6" />
<line x1="193.6" y1="1982" x2="207.2" y2="1982" stroke="#D3D4D6" stroke-width="1.6" />
<line x1="193.6" y1="1990" x2="207.2" y2="1990" stroke="#D3D4D6" stroke-width="1.6" />
<line x1="193.6" y1="1998" x2="207.2" y2="1998" stroke="#D3D4D6" stroke-width="1.6" />
<line x1="193.6" y1="2006" x2="207.2" y2="2006" stroke="#D3D4D6" stroke-width="1.6" />
<line x1="193.6" y1="2014" x2="207.2" y2="2014" stroke="#D3D4D6" stroke-width="1.6" />
<line x1="193.6" y1="2022" x2="207.2" y2="2022" stroke="#D3D4D6" stroke-width="1.6" />
<line x1="193.6" y1="2030" x2="207.2" y2="2030" stroke="#D3D4D6" stroke-width="1.6" />
<line x1="193.6" y1="2038" x2="207.2" y2="2038" stroke="#D3D4D6" stroke-width="1.6" />
<path d="M188 1926 Q190 1918 196 1921 Q200.3 1925 204.5 1921 Q210.5 1918 212.5 1926 Q212 1940 206 1948 L194.5 1948 Q188.5 1940 188 1926 Z" fill="#C3C4C6" stroke="none" stroke-width="0" />
<path d="M216.79 2135.19 C220.55 2129.76 231.62 2128.09 240.6 2127.67 C249.58 2127.25 261.9 2130.18 270.68 2132.68 C279.45 2135.19 289.14 2138.11 293.23 2142.71 C297.33 2147.3 299 2157.33 295.24 2160.25 C291.48 2163.17 279.78 2160.67 270.68 2160.25 C261.57 2159.83 249.37 2157.74 240.6 2157.74 C231.83 2157.74 222.01 2164.01 218.05 2160.25 C214.08 2156.49 213.03 2140.62 216.79 2135.19 Z" fill="#CDCED0" stroke="#B4B5B7" stroke-width="0.7" />
<path d="M226 2168 C230.17 2165.33 239.67 2163 245 2164 C250.33 2165 255.42 2169.33 258 2174 C260.58 2178.67 261.17 2186.33 260.5 2192 C259.83 2197.67 257.42 2204.33 254 2208 C250.58 2211.67 244.67 2213.67 240 2214 C235.33 2214.33 229.33 2212.67 226 2210 C222.67 2207.33 220.17 2201.33 220 2198 C219.83 2194.67 225 2193 225 2190 C225 2187 219.83 2183.67 220 2180 C220.17 2176.33 221.83 2170.67 226 2168 Z" fill="url(#kid)" stroke="none" stroke-width="0" filter="url(#soft)"/>
<path d="M112.6 2146 C116.43 2138.92 124.6 2143.17 135 2142.5 C145.4 2141.83 162.17 2141.92 175 2142 C187.83 2142.08 205.5 2140 212 2143 C218.5 2146 216.67 2153.83 214 2160 C211.33 2166.17 200.67 2173.33 196 2180 C191.33 2186.67 189.33 2194.83 186 2200 C182.67 2205.17 180.33 2208.83 176 2211 C171.67 2213.17 164.83 2214.17 160 2213 C155.17 2211.83 150.67 2203.83 147 2204 C143.33 2204.17 141.83 2211.67 138 2214 C134.17 2216.33 128 2218.33 124 2218 C120 2217.67 116 2217.5 114 2212 C112 2206.5 112.23 2196 112 2185 C111.77 2174 108.77 2153.08 112.6 2146 Z" fill="url(#liv)" stroke="none" stroke-width="0" filter="url(#soft)"/>
<ellipse cx="158" cy="2186" rx="19" ry="27" fill="url(#livd)"/>
<ellipse cx="130" cy="2188" rx="12" ry="28" fill="url(#livl)"/>
<path d="M165.41 2135.69 L180.95 2135.69 L174.94 2147.72 L172.43 2147.72 Z" fill="#B9BABC" stroke="#8f9092" stroke-width="0.6" />
<line x1="173.68" y1="2145.21" x2="175.44" y2="2180.3" stroke="#8f9092" stroke-width="1.2" />
<path d="M192.98 2174.04 Q203.01 2179.04 213.03 2174.04" fill="none" stroke="#C6C7C9" stroke-width="0.8" />
<path d="M192.98 2190.33 Q203.01 2195.33 213.03 2190.33" fill="none" stroke="#C6C7C9" stroke-width="0.8" />
<path d="M192.98 2210.38 Q203.01 2215.38 213.03 2210.38" fill="none" stroke="#C6C7C9" stroke-width="0.8" />
<path d="M192.98 2232.93 Q203.01 2237.93 213.03 2232.93" fill="none" stroke="#C6C7C9" stroke-width="0.8" />
<path d="M192.98 2255.49 Q203.01 2260.49 213.03 2255.49" fill="none" stroke="#C6C7C9" stroke-width="0.8" />
<path d="M192.98 2278.05 Q203.01 2283.05 213.03 2278.05" fill="none" stroke="#C6C7C9" stroke-width="0.8" />
<path d="M192.98 2300.6 Q203.01 2305.6 213.03 2300.6" fill="none" stroke="#C6C7C9" stroke-width="0.8" />
<path d="M192.98 2320.65 Q203.01 2325.65 213.03 2320.65" fill="none" stroke="#C6C7C9" stroke-width="0.8" />
<path d="M186.72 2235.44 C186.3 2241.7 185.46 2260.5 184.21 2273.03 C182.96 2285.56 180.45 2299.77 179.2 2310.63 C177.94 2321.49 177.11 2333.6 176.69 2338.2" fill="none" stroke="#BDBEC0" stroke-width="0.8" />
<path d="M213.03 2235.44 C213.53 2241.7 214.79 2260.5 216.04 2273.03 C217.29 2285.56 219.38 2299.77 220.55 2310.63 C221.72 2321.49 222.64 2333.6 223.06 2338.2" fill="none" stroke="#BDBEC0" stroke-width="0.8" />
<path d="M112.78 2310.63 C114.87 2302.48 119.47 2295.8 125.31 2291.83 C131.16 2287.86 141.6 2285.36 147.87 2286.82 C154.14 2288.28 158.73 2294.13 162.91 2300.6 C167.08 2307.08 170.84 2318.56 172.93 2325.66 C175.02 2332.77 177.53 2339.45 175.44 2343.21 C173.35 2346.97 165 2349.47 160.4 2348.22 C155.81 2346.97 151.21 2334.85 147.87 2335.69 C144.53 2336.52 139.93 2346.97 140.35 2353.23 C140.77 2359.5 150.38 2367.85 150.38 2373.28 C150.38 2378.71 144.53 2386.65 140.35 2385.81 C136.17 2384.98 129.91 2375.79 125.31 2368.27 C120.72 2360.75 114.87 2350.31 112.78 2340.7 C110.69 2331.09 110.69 2318.77 112.78 2310.63 Z" fill="#E2E3E5" stroke="#C2C3C5" stroke-width="0.8" />
<path d="M105.26 2373.28 C107.35 2372.45 112.78 2367.85 117.79 2368.27 C122.81 2368.69 129.91 2372.87 135.34 2375.79 C140.77 2378.71 148.71 2382.06 150.38 2385.81 C152.05 2389.57 148.71 2395.42 145.36 2398.35 C142.02 2401.27 133.67 2399.18 130.33 2403.36 C126.98 2407.54 125.31 2413.38 125.31 2423.41 C125.31 2433.43 132.83 2456.83 130.33 2463.51 C127.82 2470.19 114.04 2470.19 110.28 2463.51 C106.52 2456.83 109.44 2434.69 107.77 2423.41 C106.1 2412.13 101.5 2400.43 100.25 2395.84" fill="none" stroke="#C2C3C5" stroke-width="0.8" />
<path d="M165.41 2388.32 C167.92 2385.4 175.65 2384.56 180.45 2385.81 C185.25 2387.07 192.56 2392.08 194.24 2395.84 C195.91 2399.6 193.61 2405.86 190.48 2408.37 C187.34 2410.88 179.62 2411.71 175.44 2410.88 C171.26 2410.04 167.08 2407.12 165.41 2403.36 C163.74 2399.6 162.91 2391.24 165.41 2388.32 Z" fill="none" stroke="#C2C3C5" stroke-width="0.8" />
<path d="M287.82 2310.63 C285.73 2302.48 281.13 2295.8 275.29 2291.83 C269.44 2287.86 259 2285.36 252.73 2286.82 C246.46 2288.28 241.87 2294.13 237.69 2300.6 C233.52 2307.08 229.76 2318.56 227.67 2325.66 C225.58 2332.77 223.07 2339.45 225.16 2343.21 C227.25 2346.97 235.6 2349.47 240.2 2348.22 C244.79 2346.97 249.39 2334.85 252.73 2335.69 C256.07 2336.52 260.67 2346.97 260.25 2353.23 C259.83 2359.5 250.22 2367.85 250.22 2373.28 C250.22 2378.71 256.07 2386.65 260.25 2385.81 C264.43 2384.98 270.69 2375.79 275.29 2368.27 C279.88 2360.75 285.73 2350.31 287.82 2340.7 C289.91 2331.09 289.91 2318.77 287.82 2310.63 Z" fill="#E2E3E5" stroke="#C2C3C5" stroke-width="0.8" />
<path d="M295.34 2373.28 C293.25 2372.45 287.82 2367.85 282.81 2368.27 C277.79 2368.69 270.69 2372.87 265.26 2375.79 C259.83 2378.71 251.89 2382.06 250.22 2385.81 C248.55 2389.57 251.89 2395.42 255.24 2398.35 C258.58 2401.27 266.93 2399.18 270.27 2403.36 C273.62 2407.54 275.29 2413.38 275.29 2423.41 C275.29 2433.43 267.77 2456.83 270.27 2463.51 C272.78 2470.19 286.56 2470.19 290.32 2463.51 C294.08 2456.83 291.16 2434.69 292.83 2423.41 C294.5 2412.13 299.1 2400.43 300.35 2395.84" fill="none" stroke="#C2C3C5" stroke-width="0.8" />
<path d="M235.19 2388.32 C232.68 2385.4 224.95 2384.56 220.15 2385.81 C215.35 2387.07 208.04 2392.08 206.36 2395.84 C204.69 2399.6 206.99 2405.86 210.12 2408.37 C213.26 2410.88 220.98 2411.71 225.16 2410.88 C229.34 2410.04 233.52 2407.12 235.19 2403.36 C236.86 2399.6 237.69 2391.24 235.19 2388.32 Z" fill="none" stroke="#C2C3C5" stroke-width="0.8" />
<ellipse cx="199.2" cy="2363" rx="27.8" ry="23.5" fill="url(#bld)"/>
<path d="M188 2381 Q199.5 2387 211 2381 Q202.5 2390 200.6 2408 L198.8 2408 Q197 2390 188 2381 Z" fill="#8E8F91" stroke="none" stroke-width="0" />
</g>
<path d="M15.9 2139.7 C18.2 2129.08 26.78 2094.98 29.7 2076 C32.62 2057.02 31.73 2040.43 33.4 2025.8 C35.07 2011.17 36.15 1998.22 39.7 1988.2 C43.25 1978.18 46.77 1971.97 54.7 1965.7 C62.63 1959.43 75.6 1954.78 87.3 1950.6 C99 1946.42 115.78 1943.2 124.9 1940.6 C134.02 1938 137.27 1936.77 142 1935 C146.73 1933.23 150.33 1932 153.3 1930 C156.27 1928 158.27 1926.27 159.8 1923 C161.33 1919.73 162.18 1914.57 162.5 1910.4 C162.82 1906.23 162.3 1902.17 161.7 1898 C161.1 1893.83 160.13 1889.57 158.9 1885.4 C157.67 1881.23 155.87 1877.18 154.3 1873 C152.73 1868.82 150.92 1864.47 149.5 1860.3 C148.08 1856.13 147 1852.22 145.8 1848 C144.6 1843.78 143.22 1839.33 142.3 1835 C141.38 1830.67 140.8 1826.17 140.3 1822 C139.8 1817.83 139.4 1814 139.3 1810 C139.2 1806 139.25 1802.17 139.7 1798 C140.15 1793.83 141 1789.23 142 1785 C143 1780.77 143.72 1776.77 145.7 1772.6 C147.68 1768.43 150.63 1763.13 153.9 1760 C157.17 1756.87 161.73 1755.53 165.3 1753.8 C168.87 1752.07 171.63 1750.7 175.3 1749.6 C178.97 1748.5 183.13 1747.73 187.3 1747.2 C191.47 1746.67 195.97 1746.4 200.3 1746.4 C204.63 1746.4 209.13 1746.67 213.3 1747.2 C217.47 1747.73 221.63 1748.5 225.3 1749.6 C228.97 1750.7 231.73 1752.07 235.3 1753.8 C238.87 1755.53 243.43 1756.87 246.7 1760 C249.97 1763.13 252.92 1768.43 254.9 1772.6 C256.88 1776.77 257.6 1780.77 258.6 1785 C259.6 1789.23 260.45 1793.83 260.9 1798 C261.35 1802.17 261.4 1806 261.3 1810 C261.2 1814 260.8 1817.83 260.3 1822 C259.8 1826.17 259.22 1830.67 258.3 1835 C257.38 1839.33 256 1843.78 254.8 1848 C253.6 1852.22 252.52 1856.13 251.1 1860.3 C249.68 1864.47 247.87 1868.82 246.3 1873 C244.73 1877.18 242.93 1881.23 241.7 1885.4 C240.47 1889.57 239.5 1893.83 238.9 1898 C238.3 1902.17 237.78 1906.23 238.1 1910.4 C238.42 1914.57 239.27 1919.73 240.8 1923 C242.33 1926.27 244.33 1928 247.3 1930 C250.27 1932 253.87 1933.23 258.6 1935 C263.33 1936.77 266.58 1938 275.7 1940.6 C284.82 1943.2 301.6 1946.42 313.3 1950.6 C325 1954.78 337.97 1959.43 345.9 1965.7 C353.83 1971.97 357.35 1978.18 360.9 1988.2 C364.45 1998.22 365.53 2011.17 367.2 2025.8 C368.87 2040.43 367.98 2057.02 370.9 2076 C373.82 2094.98 382.4 2129.08 384.7 2139.7 L333.3 2167.8 L311.5 2117.6 C310.75 2120.53 309.42 2123.92 307 2135.2 C304.58 2146.48 299.35 2168.6 297 2185.3 C294.65 2202 292.85 2223.28 292.9 2235.4 C292.95 2247.52 295.47 2251.73 297.3 2258 C299.13 2264.27 300.65 2262.83 303.9 2273 C307.15 2283.17 313.9 2303.33 316.8 2319 C319.7 2334.67 320.42 2351.83 321.3 2367 C322.18 2382.17 322.05 2393.92 322.1 2410 C322.15 2426.08 321.68 2454.58 321.6 2463.5 L205 2463.5 L203 2410.9 L197.5 2410.9 L195.5 2463.5 L79 2463.5 C78.92 2454.58 78.45 2426.08 78.5 2410 C78.55 2393.92 78.42 2382.17 79.3 2367 C80.18 2351.83 80.9 2334.67 83.8 2319 C86.7 2303.33 93.45 2283.17 96.7 2273 C99.95 2262.83 101.47 2264.27 103.3 2258 C105.13 2251.73 107.65 2247.52 107.7 2235.4 C107.75 2223.28 105.95 2202 103.6 2185.3 C101.25 2168.6 96.02 2146.48 93.6 2135.2 C91.18 2123.92 89.85 2120.53 89.1 2117.6 L62.7 2166.5 Z" fill="none" stroke="#8E9092" stroke-width="1.5" stroke-linejoin="round"/>
</g>
<path d="M961.9 1989.3 C963.65 1992.68 968.65 2001.95 972.4 2009.6 C976.15 2017.25 980.63 2026.42 984.4 2035.2 C988.17 2043.98 992.23 2053.53 995 2062.3 C997.77 2071.07 999.63 2079.78 1001 2087.8 C1002.37 2095.82 1002.7 2102.88 1003.2 2110.4 C1003.7 2117.92 1004 2125.38 1004 2132.9 C1004 2140.42 1003.7 2148.98 1003.2 2155.5 C1002.7 2162.02 1001.87 2166.23 1001 2172 C1000.13 2177.77 999.38 2183.58 998 2190.1 C996.62 2196.62 994.72 2203.58 992.7 2211.1 C990.68 2218.62 988.28 2227.68 985.9 2235.2 C983.52 2242.72 981.4 2248.68 978.4 2256.2 C975.4 2263.72 971.9 2271.77 967.9 2280.3 C963.9 2288.83 958.67 2299.38 954.4 2307.4 C950.13 2315.42 945.43 2322.88 942.3 2328.4 C939.17 2333.92 936.72 2338.48 935.6 2340.5" fill="none" stroke="#5A67B4" stroke-width="3"  marker-end="url(#ahb)" marker-start="url(#ahb)" stroke-linecap="round"/>
<path d="M996 2065.58 C993.81 2062.02 988.83 2051.76 982.9 2044.2 C976.97 2036.64 969.17 2027.72 960.4 2020.2 C951.63 2012.68 939.08 2005.13 930.3 1999.1 C921.52 1993.07 913.22 1987.27 907.7 1984 C902.18 1980.73 898.95 1980.25 897.2 1979.5" fill="none" stroke="#5A67B4" stroke-width="3"  marker-end="url(#ahb)" stroke-linecap="round"/>
<path d="M1003.96 2128.21 C1002.47 2125.99 999.26 2120.38 995 2114.9 C990.74 2109.42 984.67 2101.07 978.4 2095.3 C972.13 2089.53 964.28 2084.3 957.4 2080.3 C950.52 2076.3 940.48 2072.8 937.1 2071.3" fill="none" stroke="#5A67B4" stroke-width="3"  marker-end="url(#ahb)" stroke-linecap="round"/>
<path d="M1002.33 2163.38 C1001.11 2161.32 998.74 2156.33 995 2151 C991.26 2145.67 985.17 2136.92 979.9 2131.4 C974.63 2125.88 968.15 2121.15 963.4 2117.9 C958.65 2114.65 953.4 2112.9 951.4 2111.9" fill="none" stroke="#5A67B4" stroke-width="3"  marker-end="url(#ahb)" stroke-linecap="round"/>
<path d="M992.95 2210.16 C991.28 2207.82 985.94 2201.46 982.9 2196.1 C979.86 2190.74 976.07 2181.02 974.7 2178" fill="none" stroke="#5A67B4" stroke-width="3"  marker-end="url(#ahb)" stroke-linecap="round"/>
<path d="M986.5 2233.29 C986.15 2231.11 986.75 2224.9 984.4 2220.2 C982.05 2215.5 977.4 2208.87 972.4 2205.1 C967.4 2201.33 960.28 2198.98 954.4 2197.6 C948.52 2196.22 939.98 2196.93 937.1 2196.8" fill="none" stroke="#5A67B4" stroke-width="3"  marker-end="url(#ahb)" stroke-linecap="round"/>
<path d="M983.85 2241.46 C979.95 2238.67 969.33 2229.51 960.4 2224.7 C951.47 2219.89 940.33 2216.12 930.3 2212.6 C920.27 2209.08 908.47 2205.85 900.2 2203.6 C891.93 2201.35 883.95 2199.85 880.7 2199.1" fill="none" stroke="#5A67B4" stroke-width="3"  marker-end="url(#ahb)" stroke-linecap="round"/>
<path d="M979.49 2253.45 C977.55 2251.41 973.6 2245.24 967.9 2241.2 C962.2 2237.16 952.82 2232.2 945.3 2229.2 C937.78 2226.2 930.43 2224.58 922.8 2223.2 C915.17 2221.82 903.38 2221.28 899.5 2220.9" fill="none" stroke="#5A67B4" stroke-width="3"  marker-end="url(#ahb)" stroke-linecap="round"/>
<path d="M961.25 2294.04 C961.11 2292.5 961.42 2287.84 960.4 2284.8 C959.38 2281.76 955.98 2277.3 955.1 2275.8" fill="none" stroke="#5A67B4" stroke-width="3"  marker-end="url(#ahb)" stroke-linecap="round"/>
<path d="M945.39 2323.11 C945.26 2321.74 945.98 2317.9 944.6 2314.9 C943.22 2311.9 938.35 2306.73 937.1 2305.1" fill="none" stroke="#5A67B4" stroke-width="3"  marker-end="url(#ahb)" stroke-linecap="round"/>
<path d="M885.2 2348 C881.43 2344.23 868.87 2334.18 862.6 2325.4 C856.33 2316.62 851.48 2305.32 847.6 2295.3 C843.72 2285.28 841.18 2275.32 839.3 2265.3 C837.42 2255.28 836.55 2245.23 836.3 2235.2 C836.05 2225.17 836.67 2214.38 837.8 2205.1 C838.93 2195.82 840.97 2187.02 843.1 2179.5 C845.23 2171.98 848.6 2165.08 850.6 2160 C852.6 2154.92 852.6 2154 855.1 2149 C857.6 2144 862.58 2134.93 865.6 2130 C868.62 2125.07 870.68 2123.17 873.2 2119.4 C875.72 2115.63 879.45 2109.4 880.7 2107.4" fill="none" stroke="#E11B55" stroke-width="3"  marker-end="url(#ahr)" stroke-linecap="round"/>
<path d="M863.5 2133.55 C865.87 2133.19 873.08 2131.51 877.7 2131.4 C882.32 2131.29 886.95 2131.63 891.2 2132.9 C895.45 2134.17 901.2 2137.98 903.2 2139" fill="none" stroke="#E11B55" stroke-width="3"  marker-end="url(#ahr)" stroke-linecap="round"/>
<path d="M863.04 2134.35 C864.7 2135.46 870.06 2138.72 873 2141 C875.94 2143.28 879.42 2146.83 880.7 2148" fill="none" stroke="#E11B55" stroke-width="3"  marker-end="url(#ahr)" stroke-linecap="round"/>
<path d="M882.2 2345 C881.82 2342.48 879.43 2334.73 879.9 2329.9 C880.37 2325.07 882.73 2319.88 885 2316 C887.27 2312.12 892.08 2308.17 893.5 2306.6" fill="none" stroke="#E11B55" stroke-width="3"  marker-end="url(#ahr)" stroke-linecap="round"/>
<path d="M889.7 2344.2 C892.7 2342.57 899.68 2337.53 907.7 2334.4 C915.72 2331.27 929.08 2327.8 937.8 2325.4 C946.52 2323 953.98 2321.5 960 2320 C966.02 2318.5 971.58 2317 973.9 2316.4" fill="none" stroke="#E11B55" stroke-width="3"  marker-end="url(#ahr)" stroke-linecap="round"/>
<circle cx="880.9" cy="1968.9" r="15" fill="#5A67B4" stroke="#000" stroke-width="1.4" />
<circle cx="957.3" cy="1968.9" r="15" fill="#5A67B4" stroke="#000" stroke-width="1.4" />
<circle cx="918.7" cy="2068.6" r="15" fill="#5A67B4" stroke="#000" stroke-width="1.4" />
<circle cx="933" cy="2102.1" r="15" fill="#5A67B4" stroke="#000" stroke-width="1.4" />
<circle cx="968.6" cy="2156" r="15" fill="#5A67B4" stroke="#000" stroke-width="1.4" />
<circle cx="861.1" cy="2194.6" r="15" fill="#5A67B4" stroke="#000" stroke-width="1.4" />
<circle cx="918.5" cy="2192.8" r="15" fill="#5A67B4" stroke="#000" stroke-width="1.4" />
<circle cx="880.4" cy="2221.2" r="15" fill="#5A67B4" stroke="#000" stroke-width="1.4" />
<circle cx="953.8" cy="2257.5" r="15" fill="#5A67B4" stroke="#000" stroke-width="1.4" />
<circle cx="936" cy="2287.6" r="15" fill="#5A67B4" stroke="#000" stroke-width="1.4" />
<circle cx="939.8" cy="2360.8" r="15" fill="#5A67B4" stroke="#000" stroke-width="1.4" />
<circle cx="897.9" cy="2102.1" r="15" fill="#E11B55" stroke="#000" stroke-width="1.4" />
<circle cx="867.9" cy="2161.5" r="15" fill="#E11B55" stroke="#000" stroke-width="1.4" />
<circle cx="911" cy="2154.7" r="15" fill="#E11B55" stroke="#000" stroke-width="1.4" />
<circle cx="896.2" cy="2286.8" r="15" fill="#E11B55" stroke="#000" stroke-width="1.4" />
<circle cx="981.9" cy="2300.6" r="15" fill="#E11B55" stroke="#000" stroke-width="1.4" />
<circle cx="897.4" cy="2360.8" r="15" fill="#E11B55" stroke="#000" stroke-width="1.4" />
<circle cx="861.1" cy="2194.6" r="15" fill="#5A67B4" stroke="#000" stroke-width="1.4" />
<line x1="1159" y1="1768.7" x2="1159" y2="2129.7" stroke="#111" stroke-width="1.4" />
<line x1="1153.3" y1="2129.1" x2="1372.6" y2="2129.1" stroke="#111" stroke-width="1.4" />
<line x1="1153.3" y1="1769.3" x2="1159" y2="1769.3" stroke="#111" stroke-width="1.4" />
<text x="1148.8" y="1776.8" font-size="24.5" text-anchor="end" fill="#111">20</text>
<line x1="1153.3" y1="1860" x2="1159" y2="1860" stroke="#111" stroke-width="1.4" />
<text x="1148.8" y="1867.5" font-size="24.5" text-anchor="end" fill="#111">15</text>
<line x1="1153.3" y1="1949.8" x2="1159" y2="1949.8" stroke="#111" stroke-width="1.4" />
<text x="1148.8" y="1957.3" font-size="24.5" text-anchor="end" fill="#111">10</text>
<line x1="1153.3" y1="2039.6" x2="1159" y2="2039.6" stroke="#111" stroke-width="1.4" />
<text x="1148.8" y="2047.1" font-size="24.5" text-anchor="end" fill="#111">5</text>
<line x1="1153.3" y1="2129.1" x2="1159" y2="2129.1" stroke="#111" stroke-width="1.4" />
<text x="1148.8" y="2136.6" font-size="24.5" text-anchor="end" fill="#111">0</text>
<rect x="1182" y="1808.8" width="40.1" height="320.3" fill="#CC9650" stroke="#111" stroke-width="1.3" />
<rect x="1245.8" y="1844.9" width="40.2" height="284.2" fill="#5A67B4" stroke="#111" stroke-width="1.3" />
<rect x="1309.4" y="1880.5" width="40.6" height="248.6" fill="#E11B55" stroke="#111" stroke-width="1.3" />
<line x1="1201.8" y1="2129.1" x2="1201.8" y2="2136.3" stroke="#111" stroke-width="1.4" />
<line x1="1265.7" y1="2129.1" x2="1265.7" y2="2136.3" stroke="#111" stroke-width="1.4" />
<line x1="1329.3" y1="2129.1" x2="1329.3" y2="2136.3" stroke="#111" stroke-width="1.4" />
<text x="1203" y="2160" font-size="24" text-anchor="middle" fill="#111">All</text>
<text x="1265.4" y="2160" font-size="24" text-anchor="middle" fill="#111">Cl1</text>
<text x="1318.2" y="2160" font-size="24" text-anchor="middle" fill="#111">Cl2</text>
<line x1="1170.7" y1="2165.9" x2="1237.5" y2="2165.9" stroke="#111" stroke-width="1.2" />
<line x1="1246.9" y1="2165.9" x2="1348" y2="2165.9" stroke="#111" stroke-width="1.2" />
<text x="1205.2" y="2190" font-size="24" text-anchor="middle" fill="#111">Shared</text>
<text x="1298.8" y="2190" font-size="24" text-anchor="middle" fill="#111">Cluster</text>
<text x="1300.4" y="2219.4" font-size="24" text-anchor="middle" fill="#111">specific</text>
<line x1="1157.8" y1="2234.5" x2="1339.9" y2="2234.5" stroke="#111" stroke-width="1.2" />
<text x="1247.8" y="2257.2" font-size="24" text-anchor="middle" fill="#111">Transition points</text>
<text x="1114" y="1961.5" font-size="24" text-anchor="middle" fill="#111" transform="rotate(-90 1114 1961.5)">Number of transition points</text>
<text x="1093.5" y="2329.9" font-size="24" text-anchor="start" fill="#111">Metastases autosome cluster</text>
<circle cx="1125.3" cy="2357.6" r="15" fill="#5A67B4" stroke="#333" stroke-width="0.8" />
<circle cx="1125.3" cy="2392.6" r="15" fill="#E11B55" stroke="#333" stroke-width="0.8" />
<text x="1148.1" y="2365.5" font-size="24" fill="#111">1 - <tspan font-style="italic">AR</tspan> CN gain type 1</text>
<text x="1148.1" y="2399.8" font-size="24" fill="#111">2 - <tspan font-style="italic">AR</tspan> CN gain type 2</text>
<text x="1093.5" y="2456.9" font-size="24" text-anchor="start" fill="#111">Metastases relationships</text>
<line x1="1175.5" y1="2475.1" x2="1283.6" y2="2475.1" stroke="#000" stroke-width="2.6" />
<path d="M1167.5 2475.1 l14.5 -6.8 l-3.2 6.8 l3.2 6.8 Z" fill="#000" stroke="none" stroke-width="0" />
<path d="M1291.6 2475.1 l-14.5 -6.8 l3.2 6.8 l-3.2 6.8 Z" fill="#000" stroke="none" stroke-width="0" />
<text x="1454.9" y="1732.3" font-size="25" text-anchor="start" fill="#111" font-weight="bold">g)</text>
<text x="1486.9" y="1732.3" font-size="25" text-anchor="start" fill="#111">PEA172</text>
<text x="1585.8" y="1753.2" font-size="20.2" text-anchor="start" fill="#111">p=0.0047</text>
<rect x="1590.8" y="1762.4" width="76.5" height="76.3" fill="none" stroke="#111" stroke-width="1.3" />
<line x1="1629" y1="1762.4" x2="1629" y2="1838.7" stroke="#111" stroke-width="1.3" />
<line x1="1590.8" y1="1800.6" x2="1667.3" y2="1800.6" stroke="#111" stroke-width="1.3" />
<text x="1609.3" y="1791.2" font-size="23.6" text-anchor="middle" fill="#111">7</text>
<text x="1648.2" y="1791.2" font-size="23.6" text-anchor="middle" fill="#111">0</text>
<text x="1609.3" y="1829.1" font-size="23.6" text-anchor="middle" fill="#111">4</text>
<text x="1648.2" y="1829.1" font-size="23.6" text-anchor="middle" fill="#111">9</text>
<circle cx="1573.9" cy="1782.7" r="11.2" fill="#5DB947" stroke="#111" stroke-width="1.3" />
<circle cx="1573.9" cy="1820.7" r="11.2" fill="#E6E6E6" stroke="#111" stroke-width="1.3" />
<circle cx="1609.6" cy="1853.8" r="11.4" fill="#5A67B4" stroke="#333" stroke-width="0.8" />
<circle cx="1648.5" cy="1853.8" r="11.4" fill="#E11B55" stroke="#333" stroke-width="0.8" />
<line x1="1536.9" y1="1759.2" x2="1560.4" y2="1900.8" stroke="#444" stroke-width="0.9" stroke-dasharray="6 5"/>
<line x1="1712.1" y1="1761.1" x2="1673.2" y2="1891.7" stroke="#444" stroke-width="0.9" stroke-dasharray="6 5"/>
<line x1="1534.8" y1="1888.5" x2="1534.8" y2="2324.4" stroke="#000" stroke-width="3.1" />
<line x1="1533.3" y1="2322.9" x2="1697.4" y2="2322.9" stroke="#000" stroke-width="3.1" />
<line x1="1531.6" y1="1888.5" x2="1534.8" y2="1888.5" stroke="#333" stroke-width="2" />
<text x="1529.7" y="1897.3" font-size="24.6" text-anchor="end" fill="#111">12.0</text>
<line x1="1531.6" y1="1992" x2="1534.8" y2="1992" stroke="#333" stroke-width="2" />
<text x="1529.7" y="2000.8" font-size="24.6" text-anchor="end" fill="#111">11.5</text>
<line x1="1531.6" y1="2095.4" x2="1534.8" y2="2095.4" stroke="#333" stroke-width="2" />
<text x="1529.7" y="2104.2" font-size="24.6" text-anchor="end" fill="#111">11.0</text>
<line x1="1531.6" y1="2198.8" x2="1534.8" y2="2198.8" stroke="#333" stroke-width="2" />
<text x="1529.7" y="2207.6" font-size="24.6" text-anchor="end" fill="#111">10.5</text>
<line x1="1531.6" y1="2302.2" x2="1534.8" y2="2302.2" stroke="#333" stroke-width="2" />
<text x="1529.7" y="2311" font-size="24.6" text-anchor="end" fill="#111">10.0</text>
<circle cx="1563.58" cy="1971.99" r="6.7" fill="#5DB947" stroke="#000" stroke-width="2" />
<circle cx="1583.32" cy="1971.24" r="6.7" fill="#5DB947" stroke="#000" stroke-width="2" />
<circle cx="1564.14" cy="1994.74" r="6.7" fill="#5DB947" stroke="#000" stroke-width="2" />
<circle cx="1576.74" cy="1996.99" r="6.7" fill="#E6E6E6" stroke="#000" stroke-width="2" />
<circle cx="1559.82" cy="2013.91" r="6.7" fill="#E6E6E6" stroke="#000" stroke-width="2" />
<circle cx="1583.32" cy="2025.19" r="6.7" fill="#5DB947" stroke="#000" stroke-width="2" />
<circle cx="1565.83" cy="2027.44" r="6.7" fill="#5DB947" stroke="#000" stroke-width="2" />
<circle cx="1577.68" cy="2034.59" r="6.7" fill="#E6E6E6" stroke="#000" stroke-width="2" />
<circle cx="1556.44" cy="2044.92" r="6.7" fill="#5DB947" stroke="#000" stroke-width="2" />
<circle cx="1566.21" cy="2059.02" r="6.7" fill="#5DB947" stroke="#000" stroke-width="2" />
<circle cx="1656.62" cy="1908.65" r="6.7" fill="#E6E6E6" stroke="#000" stroke-width="2" />
<circle cx="1660.01" cy="1969.74" r="6.7" fill="#E6E6E6" stroke="#000" stroke-width="2" />
<circle cx="1653.8" cy="1996.99" r="6.7" fill="#E6E6E6" stroke="#000" stroke-width="2" />
<circle cx="1670.35" cy="2054.32" r="6.7" fill="#E6E6E6" stroke="#000" stroke-width="2" />
<circle cx="1671.66" cy="2045.49" r="6.7" fill="#E6E6E6" stroke="#000" stroke-width="2" />
<circle cx="1670.35" cy="2030.45" r="6.7" fill="#E6E6E6" stroke="#000" stroke-width="2" />
<circle cx="1584.26" cy="2140.15" r="6.7" fill="#E6E6E6" stroke="#000" stroke-width="2" />
<circle cx="1647.23" cy="2262.71" r="6.7" fill="#E6E6E6" stroke="#000" stroke-width="2" />
<circle cx="1644.03" cy="2278.31" r="6.7" fill="#E6E6E6" stroke="#000" stroke-width="2" />
<circle cx="1652.86" cy="2303.12" r="6.7" fill="#E6E6E6" stroke="#000" stroke-width="2" />
<line x1="1572" y1="2322.9" x2="1572" y2="2327" stroke="#333" stroke-width="1.5" />
<line x1="1655.1" y1="2322.9" x2="1655.1" y2="2327" stroke="#333" stroke-width="1.5" />
<circle cx="1572" cy="2336.6" r="10.2" fill="#5A67B4" stroke="#333" stroke-width="0.8" />
<circle cx="1655.1" cy="2336.6" r="10.2" fill="#E11B55" stroke="#333" stroke-width="0.8" />
<text x="1469.5" y="2100.5" font-size="25.4" text-anchor="middle" fill="#111" transform="rotate(-90 1469.5 2100.5)">Normalized AR expression</text>
<rect x="1527.9" y="2368.5" width="171.4" height="129.3" fill="none" stroke="#6a6a6a" stroke-width="1.2" stroke-dasharray="6.6 6.3"/>
<text x="1543.8" y="2396.4" font-size="21.6" text-anchor="start" fill="#111" textLength="148.5" lengthAdjust="spacingAndGlyphs">AR−V12 mimics</text>
<circle cx="1561.1" cy="2417.4" r="10.2" fill="#5DB947" stroke="#111" stroke-width="1.2" />
<text x="1580.5" y="2422.4" font-size="19.8" text-anchor="start" fill="#111">Yes</text>
<circle cx="1642.9" cy="2417.4" r="10.2" fill="#E6E6E6" stroke="#111" stroke-width="1.2" />
<text x="1659.4" y="2424" font-size="20" text-anchor="start" fill="#111">No</text>
<text x="1535.4" y="2456.5" font-size="21.6" text-anchor="start" fill="#111" textLength="160" lengthAdjust="spacingAndGlyphs">Autosome cluster</text>
<circle cx="1560.8" cy="2478.5" r="10.2" fill="#5A67B4" stroke="#333" stroke-width="0.8" />
<text x="1581.4" y="2484.3" font-size="20" text-anchor="start" fill="#111">1</text>
<circle cx="1642.5" cy="2478.5" r="10.2" fill="#E11B55" stroke="#333" stroke-width="0.8" />
<text x="1659.4" y="2484.3" font-size="20" text-anchor="start" fill="#111">2</text>
</svg>
</body></html>
